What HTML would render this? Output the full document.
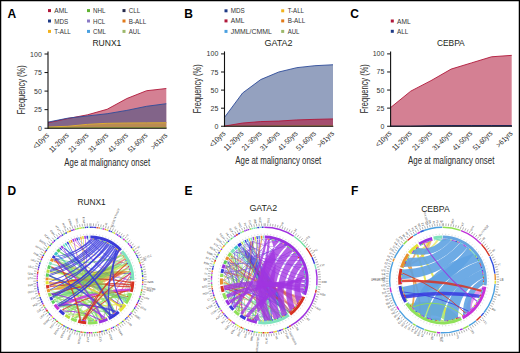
<!DOCTYPE html>
<html><head><meta charset="utf-8"><style>
html,body{margin:0;padding:0;background:#fff;width:520px;height:353px;overflow:hidden}
svg{display:block;font-family:"Liberation Sans", sans-serif}
</style></head><body>
<svg width="520" height="353" viewBox="0 0 520 353">
<rect width="520" height="353" fill="#fff"/>
<path d="M90.00,226.50A53.5,53.5 0 0 1 91.87,226.53L91.82,227.93A52.1,52.1 0 0 0 90.00,227.90Z" fill="#3a3ad8"/>
<path d="M92.19,226.55A53.5,53.5 0 0 1 93.84,226.64L93.74,228.03A52.1,52.1 0 0 0 92.14,227.94Z" fill="#3a3ad8"/>
<path d="M94.16,226.66A53.5,53.5 0 0 1 96.29,226.87L96.13,228.26A52.1,52.1 0 0 0 94.05,228.06Z" fill="#3a3ad8"/>
<path d="M96.61,226.91A53.5,53.5 0 0 1 98.49,227.18L98.27,228.56A52.1,52.1 0 0 0 96.44,228.30Z" fill="#d63222"/>
<path d="M98.81,227.23A53.5,53.5 0 0 1 100.16,227.47L99.89,228.85A52.1,52.1 0 0 0 98.58,228.61Z" fill="#e8902e"/>
<path d="M100.48,227.54A53.5,53.5 0 0 1 102.43,227.96L102.10,229.33A52.1,52.1 0 0 0 100.20,228.91Z" fill="#7fe3bd"/>
<path d="M102.75,228.04A53.5,53.5 0 0 1 104.57,228.52L104.19,229.87A52.1,52.1 0 0 0 102.41,229.40Z" fill="#c833d8"/>
<path d="M104.89,228.61A53.5,53.5 0 0 1 106.26,229.03L105.84,230.37A52.1,52.1 0 0 0 104.50,229.96Z" fill="#e8902e"/>
<path d="M106.58,229.13A53.5,53.5 0 0 1 108.54,229.81L108.05,231.13A52.1,52.1 0 0 0 106.14,230.46Z" fill="#e3e334"/>
<path d="M108.84,229.93A53.5,53.5 0 0 1 110.52,230.59L109.98,231.88A52.1,52.1 0 0 0 108.35,231.24Z" fill="#3a3ad8"/>
<path d="M110.82,230.72A53.5,53.5 0 0 1 112.24,231.34L111.66,232.62A52.1,52.1 0 0 0 110.27,232.01Z" fill="#3a3ad8"/>
<path d="M112.54,231.48A53.5,53.5 0 0 1 113.91,232.14L113.29,233.39A52.1,52.1 0 0 0 111.95,232.75Z" fill="#90e05a"/>
<path d="M114.20,232.29A53.5,53.5 0 0 1 115.53,232.98L114.86,234.21A52.1,52.1 0 0 0 113.57,233.54Z" fill="#e3e334"/>
<path d="M115.82,233.14A53.5,53.5 0 0 1 117.10,233.87L116.39,235.08A52.1,52.1 0 0 0 115.14,234.37Z" fill="#9a32e0"/>
<path d="M117.38,234.04A53.5,53.5 0 0 1 118.63,234.80L117.88,235.99A52.1,52.1 0 0 0 116.67,235.24Z" fill="#3a3ad8"/>
<path d="M118.90,234.98A53.5,53.5 0 0 1 120.34,235.93L119.54,237.08A52.1,52.1 0 0 0 118.15,236.16Z" fill="#c833d8"/>
<path d="M120.60,236.12A53.5,53.5 0 0 1 121.70,236.90L120.87,238.03A52.1,52.1 0 0 0 119.80,237.27Z" fill="#3a3ad8"/>
<path d="M121.96,237.10A53.5,53.5 0 0 1 123.17,238.02L122.30,239.12A52.1,52.1 0 0 0 121.12,238.22Z" fill="#7fe3bd"/>
<path d="M123.42,238.22A53.5,53.5 0 0 1 125.08,239.60L124.16,240.66A52.1,52.1 0 0 0 122.55,239.32Z" fill="#c833d8"/>
<path d="M125.32,239.82A53.5,53.5 0 0 1 126.85,241.22L125.89,242.23A52.1,52.1 0 0 0 124.40,240.87Z" fill="#90e05a"/>
<path d="M127.09,241.44A53.5,53.5 0 0 1 128.23,242.58L127.23,243.56A52.1,52.1 0 0 0 126.12,242.45Z" fill="#7fe3bd"/>
<path d="M128.46,242.81A53.5,53.5 0 0 1 129.69,244.12L128.65,245.06A52.1,52.1 0 0 0 127.45,243.78Z" fill="#9a32e0"/>
<path d="M129.91,244.37A53.5,53.5 0 0 1 131.13,245.78L130.05,246.68A52.1,52.1 0 0 0 128.86,245.30Z" fill="#c833d8"/>
<path d="M131.34,246.04A53.5,53.5 0 0 1 132.66,247.71L131.54,248.56A52.1,52.1 0 0 0 130.25,246.92Z" fill="#3a3ad8"/>
<path d="M132.86,247.97A53.5,53.5 0 0 1 133.74,249.20L132.60,250.00A52.1,52.1 0 0 0 131.73,248.81Z" fill="#e3e334"/>
<path d="M133.93,249.46A53.5,53.5 0 0 1 134.82,250.79L133.65,251.55A52.1,52.1 0 0 0 132.78,250.26Z" fill="#5ccf5c"/>
<path d="M135.00,251.06A53.5,53.5 0 0 1 135.89,252.50L134.69,253.22A52.1,52.1 0 0 0 133.82,251.82Z" fill="#c833d8"/>
<path d="M136.06,252.78A53.5,53.5 0 0 1 136.84,254.14L135.61,254.82A52.1,52.1 0 0 0 134.85,253.49Z" fill="#5ccf5c"/>
<path d="M136.99,254.43A53.5,53.5 0 0 1 137.74,255.84L136.49,256.47A52.1,52.1 0 0 0 135.76,255.10Z" fill="#3a3ad8"/>
<path d="M137.88,256.13A53.5,53.5 0 0 1 138.67,257.79L137.40,258.37A52.1,52.1 0 0 0 136.63,256.76Z" fill="#3a3ad8"/>
<path d="M138.81,258.09A53.5,53.5 0 0 1 139.56,259.85L138.26,260.38A52.1,52.1 0 0 0 137.53,258.66Z" fill="#5ccf5c"/>
<path d="M139.68,260.15A53.5,53.5 0 0 1 140.18,261.46L138.87,261.95A52.1,52.1 0 0 0 138.38,260.67Z" fill="#5ccf5c"/>
<path d="M140.30,261.77A53.5,53.5 0 0 1 140.95,263.69L139.62,264.12A52.1,52.1 0 0 0 138.98,262.24Z" fill="#e8902e"/>
<path d="M141.05,264.00A53.5,53.5 0 0 1 141.60,265.85L140.25,266.22A52.1,52.1 0 0 0 139.72,264.42Z" fill="#c833d8"/>
<path d="M141.68,266.17A53.5,53.5 0 0 1 142.11,267.87L140.74,268.18A52.1,52.1 0 0 0 140.33,266.53Z" fill="#3a3ad8"/>
<path d="M142.18,268.18A53.5,53.5 0 0 1 142.49,269.64L141.11,269.92A52.1,52.1 0 0 0 140.81,268.49Z" fill="#90e05a"/>
<path d="M142.55,269.97A53.5,53.5 0 0 1 142.91,272.10L141.53,272.31A52.1,52.1 0 0 0 141.18,270.23Z" fill="#3a3ad8"/>
<path d="M142.96,272.42A53.5,53.5 0 0 1 143.22,274.55L141.83,274.69A52.1,52.1 0 0 0 141.57,272.62Z" fill="#5ccf5c"/>
<path d="M143.25,274.87A53.5,53.5 0 0 1 143.41,276.92L142.01,277.00A52.1,52.1 0 0 0 141.86,275.01Z" fill="#3a3ad8"/>
<path d="M143.43,277.25A53.5,53.5 0 0 1 143.49,279.05L142.09,279.08A52.1,52.1 0 0 0 142.03,277.32Z" fill="#e3e334"/>
<path d="M143.50,279.38A53.5,53.5 0 0 1 143.49,281.03L142.09,281.00A52.1,52.1 0 0 0 142.10,279.40Z" fill="#3a3ad8"/>
<path d="M143.48,281.36A53.5,53.5 0 0 1 143.39,283.41L141.99,283.32A52.1,52.1 0 0 0 142.08,281.32Z" fill="#e8902e"/>
<path d="M143.37,283.73A53.5,53.5 0 0 1 143.26,285.11L141.86,284.98A52.1,52.1 0 0 0 141.97,283.64Z" fill="#c833d8"/>
<path d="M143.22,285.44A53.5,53.5 0 0 1 143.00,287.29L141.61,287.10A52.1,52.1 0 0 0 141.83,285.30Z" fill="#7fe3bd"/>
<path d="M142.95,287.62A53.5,53.5 0 0 1 142.73,289.04L141.35,288.81A52.1,52.1 0 0 0 141.57,287.42Z" fill="#7fe3bd"/>
<path d="M142.67,289.37A53.5,53.5 0 0 1 142.26,291.45L140.89,291.15A52.1,52.1 0 0 0 141.30,289.12Z" fill="#e8902e"/>
<path d="M142.19,291.77A53.5,53.5 0 0 1 141.81,293.36L140.45,293.01A52.1,52.1 0 0 0 140.82,291.46Z" fill="#5ccf5c"/>
<path d="M141.72,293.67A53.5,53.5 0 0 1 141.15,295.69L139.81,295.28A52.1,52.1 0 0 0 140.37,293.32Z" fill="#90e05a"/>
<path d="M141.05,296.00A53.5,53.5 0 0 1 140.42,297.89L139.10,297.43A52.1,52.1 0 0 0 139.72,295.58Z" fill="#9a32e0"/>
<path d="M140.31,298.20A53.5,53.5 0 0 1 139.65,299.92L138.35,299.40A52.1,52.1 0 0 0 138.99,297.73Z" fill="#5ccf5c"/>
<path d="M139.53,300.22A53.5,53.5 0 0 1 138.71,302.12L137.44,301.54A52.1,52.1 0 0 0 138.23,299.70Z" fill="#3a3ad8"/>
<path d="M138.58,302.42A53.5,53.5 0 0 1 137.84,303.96L136.58,303.33A52.1,52.1 0 0 0 137.30,301.83Z" fill="#9a32e0"/>
<path d="M137.69,304.25A53.5,53.5 0 0 1 136.98,305.60L135.75,304.93A52.1,52.1 0 0 0 136.44,303.62Z" fill="#d63222"/>
<path d="M136.82,305.88A53.5,53.5 0 0 1 135.90,307.49L134.69,306.77A52.1,52.1 0 0 0 135.60,305.21Z" fill="#c833d8"/>
<path d="M135.73,307.77A53.5,53.5 0 0 1 134.86,309.15L133.69,308.39A52.1,52.1 0 0 0 134.53,307.05Z" fill="#3a3ad8"/>
<path d="M134.68,309.43A53.5,53.5 0 0 1 133.66,310.91L132.52,310.11A52.1,52.1 0 0 0 133.51,308.66Z" fill="#90e05a"/>
<path d="M133.47,311.18A53.5,53.5 0 0 1 132.33,312.72L131.22,311.87A52.1,52.1 0 0 0 132.34,310.36Z" fill="#90e05a"/>
<path d="M132.13,312.98A53.5,53.5 0 0 1 131.19,314.14L130.11,313.25A52.1,52.1 0 0 0 131.02,312.12Z" fill="#9a32e0"/>
<path d="M130.98,314.39A53.5,53.5 0 0 1 129.75,315.81L128.71,314.87A52.1,52.1 0 0 0 129.91,313.49Z" fill="#3a3ad8"/>
<path d="M129.53,316.05A53.5,53.5 0 0 1 128.21,317.45L127.21,316.47A52.1,52.1 0 0 0 128.50,315.10Z" fill="#e8902e"/>
<path d="M127.98,317.68A53.5,53.5 0 0 1 126.92,318.71L125.96,317.70A52.1,52.1 0 0 0 126.99,316.69Z" fill="#3a3ad8"/>
<path d="M126.69,318.94A53.5,53.5 0 0 1 125.65,319.89L124.71,318.85A52.1,52.1 0 0 0 125.73,317.92Z" fill="#3a3ad8"/>
<path d="M125.40,320.11A53.5,53.5 0 0 1 124.04,321.28L123.15,320.20A52.1,52.1 0 0 0 124.48,319.06Z" fill="#e3e334"/>
<path d="M123.79,321.48A53.5,53.5 0 0 1 122.71,322.33L121.85,321.23A52.1,52.1 0 0 0 122.90,320.40Z" fill="#3a3ad8"/>
<path d="M122.45,322.53A53.5,53.5 0 0 1 120.97,323.63L120.16,322.49A52.1,52.1 0 0 0 121.60,321.42Z" fill="#90e05a"/>
<path d="M120.70,323.82A53.5,53.5 0 0 1 119.27,324.78L118.50,323.61A52.1,52.1 0 0 0 119.90,322.67Z" fill="#e3e334"/>
<path d="M119.00,324.96A53.5,53.5 0 0 1 117.75,325.74L117.03,324.54A52.1,52.1 0 0 0 118.24,323.78Z" fill="#9a32e0"/>
<path d="M117.47,325.91A53.5,53.5 0 0 1 116.29,326.60L115.60,325.38A52.1,52.1 0 0 0 116.75,324.71Z" fill="#e8902e"/>
<path d="M116.00,326.76A53.5,53.5 0 0 1 114.57,327.53L113.92,326.28A52.1,52.1 0 0 0 115.32,325.53Z" fill="#7fe3bd"/>
<path d="M114.28,327.67A53.5,53.5 0 0 1 112.97,328.32L112.37,327.05A52.1,52.1 0 0 0 113.64,326.43Z" fill="#3a3ad8"/>
<path d="M112.68,328.46A53.5,53.5 0 0 1 111.02,329.20L110.47,327.91A52.1,52.1 0 0 0 112.08,327.19Z" fill="#c833d8"/>
<path d="M110.72,329.33A53.5,53.5 0 0 1 108.98,330.02L108.48,328.71A52.1,52.1 0 0 0 110.17,328.04Z" fill="#e3e334"/>
<path d="M108.67,330.14A53.5,53.5 0 0 1 107.32,330.62L106.87,329.29A52.1,52.1 0 0 0 108.18,328.82Z" fill="#e3e334"/>
<path d="M107.01,330.72A53.5,53.5 0 0 1 105.43,331.23L105.03,329.89A52.1,52.1 0 0 0 106.56,329.40Z" fill="#3a3ad8"/>
<path d="M105.12,331.32A53.5,53.5 0 0 1 103.13,331.86L102.79,330.51A52.1,52.1 0 0 0 104.72,329.98Z" fill="#90e05a"/>
<path d="M102.82,331.94A53.5,53.5 0 0 1 101.39,332.27L101.09,330.91A52.1,52.1 0 0 0 102.48,330.58Z" fill="#3a3ad8"/>
<path d="M101.07,332.34A53.5,53.5 0 0 1 99.05,332.73L98.81,331.35A52.1,52.1 0 0 0 100.78,330.97Z" fill="#d63222"/>
<path d="M98.73,332.78A53.5,53.5 0 0 1 97.02,333.04L96.84,331.65A52.1,52.1 0 0 0 98.50,331.40Z" fill="#e8902e"/>
<path d="M96.70,333.08A53.5,53.5 0 0 1 94.78,333.29L94.66,331.89A52.1,52.1 0 0 0 96.52,331.69Z" fill="#5ccf5c"/>
<path d="M94.46,333.31A53.5,53.5 0 0 1 92.71,333.43L92.64,332.03A52.1,52.1 0 0 0 94.34,331.92Z" fill="#90e05a"/>
<path d="M92.39,333.45A53.5,53.5 0 0 1 90.65,333.50L90.63,332.10A52.1,52.1 0 0 0 92.33,332.05Z" fill="#c833d8"/>
<path d="M90.32,333.50A53.5,53.5 0 0 1 88.88,333.49L88.91,332.09A52.1,52.1 0 0 0 90.31,332.10Z" fill="#d63222"/>
<path d="M88.56,333.48A53.5,53.5 0 0 1 86.41,333.38L86.50,331.98A52.1,52.1 0 0 0 88.59,332.08Z" fill="#9a32e0"/>
<path d="M86.08,333.36A53.5,53.5 0 0 1 83.96,333.16L84.12,331.77A52.1,52.1 0 0 0 86.18,331.96Z" fill="#5ccf5c"/>
<path d="M83.63,333.12A53.5,53.5 0 0 1 82.15,332.92L82.36,331.54A52.1,52.1 0 0 0 83.80,331.73Z" fill="#e8902e"/>
<path d="M81.83,332.87A53.5,53.5 0 0 1 80.28,332.61L80.53,331.23A52.1,52.1 0 0 0 82.04,331.49Z" fill="#d63222"/>
<path d="M79.96,332.55A53.5,53.5 0 0 1 77.93,332.12L78.24,330.76A52.1,52.1 0 0 0 80.22,331.17Z" fill="#5ccf5c"/>
<path d="M77.61,332.05A53.5,53.5 0 0 1 76.25,331.70L76.61,330.35A52.1,52.1 0 0 0 77.93,330.68Z" fill="#5ccf5c"/>
<path d="M75.94,331.62A53.5,53.5 0 0 1 74.09,331.08L74.50,329.74A52.1,52.1 0 0 0 76.31,330.27Z" fill="#9a32e0"/>
<path d="M73.78,330.98A53.5,53.5 0 0 1 72.47,330.55L72.93,329.22A52.1,52.1 0 0 0 74.20,329.65Z" fill="#90e05a"/>
<path d="M72.16,330.44A53.5,53.5 0 0 1 70.62,329.87L71.12,328.56A52.1,52.1 0 0 0 72.63,329.12Z" fill="#3a3ad8"/>
<path d="M70.31,329.75A53.5,53.5 0 0 1 68.55,329.01L69.11,327.73A52.1,52.1 0 0 0 70.83,328.44Z" fill="#e8902e"/>
<path d="M68.25,328.88A53.5,53.5 0 0 1 66.83,328.22L67.44,326.96A52.1,52.1 0 0 0 68.82,327.60Z" fill="#3a3ad8"/>
<path d="M66.54,328.08A53.5,53.5 0 0 1 64.80,327.20L65.46,325.96A52.1,52.1 0 0 0 67.15,326.82Z" fill="#5ccf5c"/>
<path d="M64.52,327.04A53.5,53.5 0 0 1 62.87,326.11L63.58,324.90A52.1,52.1 0 0 0 65.18,325.81Z" fill="#3a3ad8"/>
<path d="M62.59,325.94A53.5,53.5 0 0 1 60.84,324.86L61.60,323.68A52.1,52.1 0 0 0 63.31,324.74Z" fill="#e8902e"/>
<path d="M60.57,324.68A53.5,53.5 0 0 1 59.08,323.66L59.89,322.52A52.1,52.1 0 0 0 61.34,323.51Z" fill="#90e05a"/>
<path d="M58.81,323.47A53.5,53.5 0 0 1 57.51,322.51L58.36,321.39A52.1,52.1 0 0 0 59.63,322.33Z" fill="#90e05a"/>
<path d="M57.25,322.31A53.5,53.5 0 0 1 55.90,321.22L56.79,320.14A52.1,52.1 0 0 0 58.11,321.20Z" fill="#d63222"/>
<path d="M55.65,321.01A53.5,53.5 0 0 1 54.22,319.78L55.16,318.74A52.1,52.1 0 0 0 56.55,319.94Z" fill="#5ccf5c"/>
<path d="M53.98,319.56A53.5,53.5 0 0 1 52.79,318.44L53.76,317.43A52.1,52.1 0 0 0 54.92,318.52Z" fill="#9a32e0"/>
<path d="M52.55,318.21A53.5,53.5 0 0 1 51.40,317.05L52.41,316.08A52.1,52.1 0 0 0 53.53,317.21Z" fill="#e3e334"/>
<path d="M51.18,316.81A53.5,53.5 0 0 1 50.07,315.60L51.11,314.67A52.1,52.1 0 0 0 52.19,315.85Z" fill="#c833d8"/>
<path d="M49.85,315.36A53.5,53.5 0 0 1 48.51,313.77L49.59,312.89A52.1,52.1 0 0 0 50.90,314.43Z" fill="#3a3ad8"/>
<path d="M48.30,313.52A53.5,53.5 0 0 1 47.25,312.16L48.36,311.32A52.1,52.1 0 0 0 49.39,312.64Z" fill="#5ccf5c"/>
<path d="M47.05,311.90A53.5,53.5 0 0 1 45.80,310.15L46.96,309.36A52.1,52.1 0 0 0 48.17,311.06Z" fill="#d63222"/>
<path d="M45.62,309.88A53.5,53.5 0 0 1 44.82,308.65L46.00,307.90A52.1,52.1 0 0 0 46.78,309.10Z" fill="#c833d8"/>
<path d="M44.65,308.38A53.5,53.5 0 0 1 43.86,307.08L45.07,306.38A52.1,52.1 0 0 0 45.83,307.63Z" fill="#5ccf5c"/>
<path d="M43.70,306.80A53.5,53.5 0 0 1 42.67,304.94L43.91,304.28A52.1,52.1 0 0 0 44.91,306.10Z" fill="#e8902e"/>
<path d="M42.52,304.65A53.5,53.5 0 0 1 41.81,303.23L43.07,302.62A52.1,52.1 0 0 0 43.76,304.00Z" fill="#9a32e0"/>
<path d="M41.67,302.94A53.5,53.5 0 0 1 40.86,301.16L42.15,300.61A52.1,52.1 0 0 0 42.93,302.34Z" fill="#3a3ad8"/>
<path d="M40.73,300.86A53.5,53.5 0 0 1 40.10,299.29L41.40,298.78A52.1,52.1 0 0 0 42.02,300.31Z" fill="#3a3ad8"/>
<path d="M39.98,298.98A53.5,53.5 0 0 1 39.31,297.10L40.63,296.65A52.1,52.1 0 0 0 41.29,298.49Z" fill="#3a3ad8"/>
<path d="M39.20,296.79A53.5,53.5 0 0 1 38.67,295.09L40.02,294.70A52.1,52.1 0 0 0 40.53,296.35Z" fill="#e3e334"/>
<path d="M38.58,294.78A53.5,53.5 0 0 1 38.16,293.24L39.52,292.89A52.1,52.1 0 0 0 39.93,294.39Z" fill="#d63222"/>
<path d="M38.08,292.92A53.5,53.5 0 0 1 37.64,290.97L39.01,290.69A52.1,52.1 0 0 0 39.44,292.58Z" fill="#9a32e0"/>
<path d="M37.57,290.65A53.5,53.5 0 0 1 37.28,289.11L38.66,288.87A52.1,52.1 0 0 0 38.94,290.38Z" fill="#3a3ad8"/>
<path d="M37.23,288.79A53.5,53.5 0 0 1 37.00,287.30L38.39,287.10A52.1,52.1 0 0 0 38.61,288.56Z" fill="#3a3ad8"/>
<path d="M36.96,286.97A53.5,53.5 0 0 1 36.76,285.27L38.15,285.13A52.1,52.1 0 0 0 38.34,286.79Z" fill="#9a32e0"/>
<path d="M36.73,284.94A53.5,53.5 0 0 1 36.61,283.45L38.01,283.36A52.1,52.1 0 0 0 38.12,284.81Z" fill="#9a32e0"/>
<path d="M36.59,283.12A53.5,53.5 0 0 1 36.52,281.63L37.92,281.59A52.1,52.1 0 0 0 37.99,283.04Z" fill="#3a3ad8"/>
<path d="M36.52,281.30A53.5,53.5 0 0 1 36.50,279.92L37.90,279.92A52.1,52.1 0 0 0 37.92,281.27Z" fill="#e8902e"/>
<path d="M36.50,279.60A53.5,53.5 0 0 1 36.56,277.43L37.96,277.50A52.1,52.1 0 0 0 37.90,279.61Z" fill="#c833d8"/>
<path d="M36.58,277.10A53.5,53.5 0 0 1 36.67,275.72L38.07,275.83A52.1,52.1 0 0 0 37.98,277.18Z" fill="#c833d8"/>
<path d="M36.70,275.39A53.5,53.5 0 0 1 36.84,273.96L38.23,274.12A52.1,52.1 0 0 0 38.09,275.51Z" fill="#c833d8"/>
<path d="M36.88,273.63A53.5,53.5 0 0 1 37.12,271.90L38.50,272.11A52.1,52.1 0 0 0 38.27,273.80Z" fill="#d63222"/>
<path d="M37.17,271.58A53.5,53.5 0 0 1 37.40,270.22L38.78,270.48A52.1,52.1 0 0 0 38.55,271.80Z" fill="#e8902e"/>
<path d="M37.46,269.90A53.5,53.5 0 0 1 37.80,268.30L39.16,268.60A52.1,52.1 0 0 0 38.84,270.17Z" fill="#9a32e0"/>
<path d="M37.87,267.98A53.5,53.5 0 0 1 38.32,266.17L39.67,266.54A52.1,52.1 0 0 0 39.23,268.29Z" fill="#3a3ad8"/>
<path d="M38.40,265.86A53.5,53.5 0 0 1 38.82,264.40L40.16,264.81A52.1,52.1 0 0 0 39.75,266.23Z" fill="#3a3ad8"/>
<path d="M38.92,264.09A53.5,53.5 0 0 1 39.59,262.09L40.90,262.56A52.1,52.1 0 0 0 40.26,264.51Z" fill="#3a3ad8"/>
<path d="M39.70,261.79A53.5,53.5 0 0 1 40.28,260.25L41.58,260.77A52.1,52.1 0 0 0 41.01,262.26Z" fill="#90e05a"/>
<path d="M40.40,259.95A53.5,53.5 0 0 1 41.21,258.05L42.49,258.63A52.1,52.1 0 0 0 41.70,260.48Z" fill="#9a32e0"/>
<path d="M41.34,257.76A53.5,53.5 0 0 1 42.17,256.02L43.43,256.65A52.1,52.1 0 0 0 42.62,258.34Z" fill="#d63222"/>
<path d="M42.32,255.73A53.5,53.5 0 0 1 43.10,254.26L44.32,254.94A52.1,52.1 0 0 0 43.57,256.36Z" fill="#3a3ad8"/>
<path d="M43.26,253.98A53.5,53.5 0 0 1 44.16,252.41L45.36,253.14A52.1,52.1 0 0 0 44.48,254.66Z" fill="#90e05a"/>
<path d="M44.33,252.13A53.5,53.5 0 0 1 45.09,250.93L46.26,251.69A52.1,52.1 0 0 0 45.53,252.86Z" fill="#d63222"/>
<path d="M45.27,250.65A53.5,53.5 0 0 1 46.26,249.19L47.41,249.99A52.1,52.1 0 0 0 46.44,251.42Z" fill="#3a3ad8"/>
<path d="M46.45,248.92A53.5,53.5 0 0 1 47.40,247.64L48.51,248.49A52.1,52.1 0 0 0 47.59,249.73Z" fill="#5ccf5c"/>
<path d="M47.60,247.38A53.5,53.5 0 0 1 48.87,245.79L49.94,246.69A52.1,52.1 0 0 0 48.71,248.23Z" fill="#e3e334"/>
<path d="M49.08,245.54A53.5,53.5 0 0 1 50.18,244.27L51.22,245.20A52.1,52.1 0 0 0 50.15,246.44Z" fill="#3a3ad8"/>
<path d="M50.40,244.02A53.5,53.5 0 0 1 51.69,242.65L52.70,243.63A52.1,52.1 0 0 0 51.44,244.97Z" fill="#5ccf5c"/>
<path d="M51.92,242.42A53.5,53.5 0 0 1 53.16,241.20L54.13,242.22A52.1,52.1 0 0 0 52.92,243.40Z" fill="#c833d8"/>
<path d="M53.40,240.98A53.5,53.5 0 0 1 54.77,239.74L55.69,240.79A52.1,52.1 0 0 0 54.36,242.00Z" fill="#3a3ad8"/>
<path d="M55.01,239.52A53.5,53.5 0 0 1 56.35,238.40L57.23,239.49A52.1,52.1 0 0 0 55.93,240.58Z" fill="#7fe3bd"/>
<path d="M56.61,238.20A53.5,53.5 0 0 1 58.32,236.89L59.15,238.02A52.1,52.1 0 0 0 57.48,239.29Z" fill="#3a3ad8"/>
<path d="M58.58,236.69A53.5,53.5 0 0 1 59.75,235.88L60.54,237.03A52.1,52.1 0 0 0 59.41,237.83Z" fill="#9a32e0"/>
<path d="M60.02,235.69A53.5,53.5 0 0 1 61.14,234.95L61.89,236.13A52.1,52.1 0 0 0 60.80,236.85Z" fill="#9a32e0"/>
<path d="M61.42,234.78A53.5,53.5 0 0 1 62.80,233.93L63.51,235.14A52.1,52.1 0 0 0 62.16,235.96Z" fill="#3a3ad8"/>
<path d="M63.08,233.77A53.5,53.5 0 0 1 64.65,232.89L65.31,234.12A52.1,52.1 0 0 0 63.78,234.98Z" fill="#5ccf5c"/>
<path d="M64.94,232.73A53.5,53.5 0 0 1 66.61,231.89L67.22,233.15A52.1,52.1 0 0 0 65.59,233.97Z" fill="#3a3ad8"/>
<path d="M66.90,231.74A53.5,53.5 0 0 1 68.41,231.05L68.97,232.33A52.1,52.1 0 0 0 67.50,233.01Z" fill="#e3e334"/>
<path d="M68.71,230.92A53.5,53.5 0 0 1 70.71,230.10L71.22,231.40A52.1,52.1 0 0 0 69.26,232.20Z" fill="#e8902e"/>
<path d="M71.02,229.98A53.5,53.5 0 0 1 72.51,229.44L72.97,230.76A52.1,52.1 0 0 0 71.51,231.29Z" fill="#3a3ad8"/>
<path d="M72.82,229.33A53.5,53.5 0 0 1 74.40,228.82L74.81,230.16A52.1,52.1 0 0 0 73.27,230.66Z" fill="#c833d8"/>
<path d="M74.72,228.73A53.5,53.5 0 0 1 76.49,228.23L76.85,229.59A52.1,52.1 0 0 0 75.12,230.07Z" fill="#90e05a"/>
<path d="M76.81,228.15A53.5,53.5 0 0 1 78.73,227.70L79.02,229.07A52.1,52.1 0 0 0 77.16,229.51Z" fill="#90e05a"/>
<path d="M79.04,227.63A53.5,53.5 0 0 1 80.77,227.30L81.02,228.68A52.1,52.1 0 0 0 79.33,229.00Z" fill="#e3e334"/>
<path d="M81.10,227.25A53.5,53.5 0 0 1 82.44,227.04L82.64,228.42A52.1,52.1 0 0 0 81.33,228.63Z" fill="#90e05a"/>
<path d="M82.77,226.99A53.5,53.5 0 0 1 84.51,226.78L84.65,228.17A52.1,52.1 0 0 0 82.95,228.38Z" fill="#90e05a"/>
<path d="M84.84,226.75A53.5,53.5 0 0 1 86.30,226.63L86.39,228.03A52.1,52.1 0 0 0 84.97,228.14Z" fill="#3a3ad8"/>
<path d="M86.62,226.61A53.5,53.5 0 0 1 88.07,226.53L88.12,227.93A52.1,52.1 0 0 0 86.71,228.00Z" fill="#3a3ad8"/>
<path d="M88.39,226.52A53.5,53.5 0 0 1 90.00,226.50L90.00,227.90A52.1,52.1 0 0 0 88.44,227.92Z" fill="#7fe3bd"/>
<text transform="translate(33.11,274.02) rotate(366.0)" font-size="2.8" text-anchor="end" dy="0.9" fill="#404040" textLength="5.5" lengthAdjust="spacingAndGlyphs">I2A</text>
<text transform="translate(34.16,267.62) rotate(372.5)" font-size="2.8" text-anchor="end" dy="0.9" fill="#404040" textLength="6.2" lengthAdjust="spacingAndGlyphs">US7C</text>
<text transform="translate(35.92,261.38) rotate(379.0)" font-size="2.8" text-anchor="end" dy="0.9" fill="#404040" textLength="5.4" lengthAdjust="spacingAndGlyphs">UKV</text>
<text transform="translate(38.37,255.37) rotate(385.5)" font-size="2.8" text-anchor="end" dy="0.9" fill="#404040" textLength="5.5" lengthAdjust="spacingAndGlyphs">7HB</text>
<text transform="translate(41.49,249.69) rotate(392.0)" font-size="2.8" text-anchor="end" dy="0.9" fill="#404040" textLength="7.2" lengthAdjust="spacingAndGlyphs">WVYV</text>
<text transform="translate(45.23,244.39) rotate(398.5)" font-size="2.8" text-anchor="end" dy="0.9" fill="#404040" textLength="7.1" lengthAdjust="spacingAndGlyphs">B6Z0</text>
<text transform="translate(49.55,239.55) rotate(405.0)" font-size="2.8" text-anchor="end" dy="0.9" fill="#404040" textLength="6.9" lengthAdjust="spacingAndGlyphs">ICAT</text>
<text transform="translate(54.39,235.23) rotate(411.5)" font-size="2.8" text-anchor="end" dy="0.9" fill="#404040" textLength="6.4" lengthAdjust="spacingAndGlyphs">GNA4</text>
<text transform="translate(59.69,231.49) rotate(418.0)" font-size="2.8" text-anchor="end" dy="0.9" fill="#404040" textLength="7.2" lengthAdjust="spacingAndGlyphs">4717</text>
<text transform="translate(65.37,228.37) rotate(424.5)" font-size="2.8" text-anchor="end" dy="0.9" fill="#404040" textLength="5.9" lengthAdjust="spacingAndGlyphs">NV6</text>
<text transform="translate(71.38,225.92) rotate(431.0)" font-size="2.8" text-anchor="end" dy="0.9" fill="#404040" textLength="7.4" lengthAdjust="spacingAndGlyphs">EWA4</text>
<text transform="translate(77.62,224.16) rotate(437.5)" font-size="2.8" text-anchor="end" dy="0.9" fill="#404040" textLength="6.5" lengthAdjust="spacingAndGlyphs">7WKL</text>
<text transform="translate(84.02,223.11) rotate(444.0)" font-size="2.8" text-anchor="end" dy="0.9" fill="#404040" textLength="6.2" lengthAdjust="spacingAndGlyphs">8YK4</text>
<text transform="translate(70.44,333.75) rotate(290.0)" font-size="2.8" text-anchor="end" dy="0.9" fill="#404040" textLength="6.6" lengthAdjust="spacingAndGlyphs">DERU</text>
<text transform="translate(64.48,331.19) rotate(296.5)" font-size="2.8" text-anchor="end" dy="0.9" fill="#404040" textLength="7.4" lengthAdjust="spacingAndGlyphs">EBY4</text>
<text transform="translate(58.85,327.97) rotate(303.0)" font-size="2.8" text-anchor="end" dy="0.9" fill="#404040" textLength="7.9" lengthAdjust="spacingAndGlyphs">28DHH</text>
<text transform="translate(53.62,324.14) rotate(309.5)" font-size="2.8" text-anchor="end" dy="0.9" fill="#404040" textLength="5.3" lengthAdjust="spacingAndGlyphs">HIV</text>
<text transform="translate(48.85,319.73) rotate(316.0)" font-size="2.8" text-anchor="end" dy="0.9" fill="#404040" textLength="7.0" lengthAdjust="spacingAndGlyphs">5KMM</text>
<text transform="translate(44.62,314.82) rotate(322.5)" font-size="2.8" text-anchor="end" dy="0.9" fill="#404040" textLength="5.9" lengthAdjust="spacingAndGlyphs">LEP</text>
<text transform="translate(40.97,309.46) rotate(329.0)" font-size="2.8" text-anchor="end" dy="0.9" fill="#404040" textLength="4.7" lengthAdjust="spacingAndGlyphs">G1E</text>
<text transform="translate(37.95,303.72) rotate(335.5)" font-size="2.8" text-anchor="end" dy="0.9" fill="#404040" textLength="5.5" lengthAdjust="spacingAndGlyphs">H2I</text>
<text transform="translate(35.60,297.68) rotate(342.0)" font-size="2.8" text-anchor="end" dy="0.9" fill="#404040" textLength="4.5" lengthAdjust="spacingAndGlyphs">FX8</text>
<text transform="translate(33.95,291.40) rotate(348.5)" font-size="2.8" text-anchor="end" dy="0.9" fill="#404040" textLength="6.2" lengthAdjust="spacingAndGlyphs">0DIV</text>
<text transform="translate(33.02,284.99) rotate(355.0)" font-size="2.8" text-anchor="end" dy="0.9" fill="#404040" textLength="5.0" lengthAdjust="spacingAndGlyphs">9VR</text>
<text transform="translate(32.82,278.50) rotate(361.5)" font-size="2.8" text-anchor="end" dy="0.9" fill="#404040" textLength="5.4" lengthAdjust="spacingAndGlyphs">STV</text>
<text transform="translate(147.17,282.00) rotate(2.0)" font-size="2.8" text-anchor="start" dy="0.9" fill="#404040" textLength="6.3" lengthAdjust="spacingAndGlyphs">IS06</text>
<text transform="translate(146.33,289.93) rotate(10.0)" font-size="2.8" text-anchor="start" dy="0.9" fill="#404040" textLength="7.1" lengthAdjust="spacingAndGlyphs">MIBY</text>
<text transform="translate(144.40,297.68) rotate(18.0)" font-size="2.8" text-anchor="start" dy="0.9" fill="#404040" textLength="4.8" lengthAdjust="spacingAndGlyphs">CFH</text>
<text transform="translate(140.50,306.85) rotate(28.0)" font-size="2.8" text-anchor="start" dy="0.9" fill="#404040" textLength="6.3" lengthAdjust="spacingAndGlyphs">6S16</text>
<text transform="translate(135.07,315.22) rotate(38.0)" font-size="2.8" text-anchor="start" dy="0.9" fill="#404040" textLength="6.2" lengthAdjust="spacingAndGlyphs">XGB1</text>
<text transform="translate(128.27,322.51) rotate(48.0)" font-size="2.8" text-anchor="start" dy="0.9" fill="#404040" textLength="4.7" lengthAdjust="spacingAndGlyphs">K4R</text>
<text transform="translate(118.60,329.54) rotate(60.0)" font-size="2.8" text-anchor="start" dy="0.9" fill="#404040" textLength="7.1" lengthAdjust="spacingAndGlyphs">F8PI</text>
<text transform="translate(109.56,333.75) rotate(70.0)" font-size="2.8" text-anchor="start" dy="0.9" fill="#404040" textLength="7.0" lengthAdjust="spacingAndGlyphs">1ZSV</text>
<text transform="translate(99.93,336.33) rotate(80.0)" font-size="2.8" text-anchor="start" dy="0.9" fill="#404040" textLength="5.7" lengthAdjust="spacingAndGlyphs">Z11</text>
<text transform="translate(88.00,337.17) rotate(272.0)" font-size="2.8" text-anchor="end" dy="0.9" fill="#404040" textLength="5.0" lengthAdjust="spacingAndGlyphs">ZV4</text>
<text transform="translate(80.07,336.33) rotate(280.0)" font-size="2.8" text-anchor="end" dy="0.9" fill="#404040" textLength="7.9" lengthAdjust="spacingAndGlyphs">0CPM2</text>
<text transform="translate(97.96,223.36) rotate(-82.0)" font-size="2.8" text-anchor="start" dy="0.9" fill="#404040" textLength="2.1" lengthAdjust="spacingAndGlyphs">CC</text>
<text transform="translate(105.77,225.02) rotate(-74.0)" font-size="2.8" text-anchor="start" dy="0.9" fill="#404040" textLength="2.2" lengthAdjust="spacingAndGlyphs">NC</text>
<text transform="translate(113.27,227.75) rotate(-66.0)" font-size="2.8" text-anchor="start" dy="0.9" fill="#404040" textLength="2.5" lengthAdjust="spacingAndGlyphs">7Z</text>
<text transform="translate(126.77,236.18) rotate(-50.0)" font-size="2.8" text-anchor="start" dy="0.9" fill="#404040" textLength="2.0" lengthAdjust="spacingAndGlyphs">7W</text>
<text transform="translate(137.42,248.01) rotate(-34.0)" font-size="2.8" text-anchor="start" dy="0.9" fill="#404040" textLength="2.9" lengthAdjust="spacingAndGlyphs">4X</text>
<text transform="translate(143.75,260.44) rotate(-20.0)" font-size="2.8" text-anchor="start" dy="0.9" fill="#404040" textLength="2.5" lengthAdjust="spacingAndGlyphs">GN</text>
<text transform="translate(111.43,226.97) rotate(-68.0)" font-size="2.8" text-anchor="start" dy="0.9" fill="#404040" textLength="20.0" lengthAdjust="spacingAndGlyphs">KLE017KTHULV</text>
<text transform="translate(143.03,258.57) rotate(-22.0)" font-size="2.8" text-anchor="start" dy="0.9" fill="#404040" textLength="9.0" lengthAdjust="spacingAndGlyphs">SC7CZ</text>
<text transform="translate(146.64,287.96) rotate(8.0)" font-size="2.8" text-anchor="start" dy="0.9" fill="#404040" textLength="9.0" lengthAdjust="spacingAndGlyphs">0XDB6</text>
<line x1="90.00" y1="234.80" x2="90.00" y2="233.60" stroke="#b0b0b0" stroke-width="0.45"/>
<line x1="93.15" y1="234.91" x2="93.24" y2="233.71" stroke="#b0b0b0" stroke-width="0.45"/>
<line x1="96.29" y1="235.24" x2="96.46" y2="234.05" stroke="#b0b0b0" stroke-width="0.45"/>
<line x1="99.40" y1="235.79" x2="99.65" y2="234.61" stroke="#b0b0b0" stroke-width="0.45"/>
<line x1="102.46" y1="236.55" x2="102.79" y2="235.40" stroke="#b0b0b0" stroke-width="0.45"/>
<line x1="105.46" y1="237.53" x2="105.87" y2="236.40" stroke="#b0b0b0" stroke-width="0.45"/>
<line x1="108.38" y1="238.71" x2="108.87" y2="237.61" stroke="#b0b0b0" stroke-width="0.45"/>
<line x1="111.22" y1="240.09" x2="111.78" y2="239.03" stroke="#b0b0b0" stroke-width="0.45"/>
<line x1="113.95" y1="241.67" x2="114.59" y2="240.65" stroke="#b0b0b0" stroke-width="0.45"/>
<line x1="116.57" y1="243.43" x2="117.27" y2="242.46" stroke="#b0b0b0" stroke-width="0.45"/>
<line x1="119.05" y1="245.37" x2="119.83" y2="244.46" stroke="#b0b0b0" stroke-width="0.45"/>
<line x1="121.40" y1="247.49" x2="122.23" y2="246.62" stroke="#b0b0b0" stroke-width="0.45"/>
<line x1="123.59" y1="249.76" x2="124.48" y2="248.95" stroke="#b0b0b0" stroke-width="0.45"/>
<line x1="125.62" y1="252.17" x2="126.56" y2="251.43" stroke="#b0b0b0" stroke-width="0.45"/>
<line x1="127.47" y1="254.72" x2="128.47" y2="254.05" stroke="#b0b0b0" stroke-width="0.45"/>
<line x1="129.14" y1="257.40" x2="130.18" y2="256.80" stroke="#b0b0b0" stroke-width="0.45"/>
<line x1="130.63" y1="260.19" x2="131.70" y2="259.66" stroke="#b0b0b0" stroke-width="0.45"/>
<line x1="131.91" y1="263.07" x2="133.02" y2="262.62" stroke="#b0b0b0" stroke-width="0.45"/>
<line x1="132.99" y1="266.03" x2="134.13" y2="265.66" stroke="#b0b0b0" stroke-width="0.45"/>
<line x1="133.86" y1="269.07" x2="135.02" y2="268.77" stroke="#b0b0b0" stroke-width="0.45"/>
<line x1="134.51" y1="272.15" x2="135.70" y2="271.94" stroke="#b0b0b0" stroke-width="0.45"/>
<line x1="134.95" y1="275.28" x2="136.15" y2="275.15" stroke="#b0b0b0" stroke-width="0.45"/>
<line x1="135.17" y1="278.42" x2="136.37" y2="278.38" stroke="#b0b0b0" stroke-width="0.45"/>
<line x1="135.17" y1="281.58" x2="136.37" y2="281.62" stroke="#b0b0b0" stroke-width="0.45"/>
<line x1="134.95" y1="284.72" x2="136.15" y2="284.85" stroke="#b0b0b0" stroke-width="0.45"/>
<line x1="134.51" y1="287.85" x2="135.70" y2="288.06" stroke="#b0b0b0" stroke-width="0.45"/>
<line x1="133.86" y1="290.93" x2="135.02" y2="291.23" stroke="#b0b0b0" stroke-width="0.45"/>
<line x1="132.99" y1="293.97" x2="134.13" y2="294.34" stroke="#b0b0b0" stroke-width="0.45"/>
<line x1="131.91" y1="296.93" x2="133.02" y2="297.38" stroke="#b0b0b0" stroke-width="0.45"/>
<line x1="130.63" y1="299.81" x2="131.70" y2="300.34" stroke="#b0b0b0" stroke-width="0.45"/>
<line x1="129.14" y1="302.60" x2="130.18" y2="303.20" stroke="#b0b0b0" stroke-width="0.45"/>
<line x1="127.47" y1="305.28" x2="128.47" y2="305.95" stroke="#b0b0b0" stroke-width="0.45"/>
<line x1="125.62" y1="307.83" x2="126.56" y2="308.57" stroke="#b0b0b0" stroke-width="0.45"/>
<line x1="123.59" y1="310.24" x2="124.48" y2="311.05" stroke="#b0b0b0" stroke-width="0.45"/>
<line x1="121.40" y1="312.51" x2="122.23" y2="313.38" stroke="#b0b0b0" stroke-width="0.45"/>
<line x1="119.05" y1="314.63" x2="119.83" y2="315.54" stroke="#b0b0b0" stroke-width="0.45"/>
<line x1="116.57" y1="316.57" x2="117.27" y2="317.54" stroke="#b0b0b0" stroke-width="0.45"/>
<line x1="113.95" y1="318.33" x2="114.59" y2="319.35" stroke="#b0b0b0" stroke-width="0.45"/>
<line x1="111.22" y1="319.91" x2="111.78" y2="320.97" stroke="#b0b0b0" stroke-width="0.45"/>
<line x1="108.38" y1="321.29" x2="108.87" y2="322.39" stroke="#b0b0b0" stroke-width="0.45"/>
<line x1="105.46" y1="322.47" x2="105.87" y2="323.60" stroke="#b0b0b0" stroke-width="0.45"/>
<line x1="102.46" y1="323.45" x2="102.79" y2="324.60" stroke="#b0b0b0" stroke-width="0.45"/>
<line x1="99.40" y1="324.21" x2="99.65" y2="325.39" stroke="#b0b0b0" stroke-width="0.45"/>
<line x1="96.29" y1="324.76" x2="96.46" y2="325.95" stroke="#b0b0b0" stroke-width="0.45"/>
<line x1="93.15" y1="325.09" x2="93.24" y2="326.29" stroke="#b0b0b0" stroke-width="0.45"/>
<line x1="90.00" y1="325.20" x2="90.00" y2="326.40" stroke="#b0b0b0" stroke-width="0.45"/>
<line x1="86.85" y1="325.09" x2="86.76" y2="326.29" stroke="#b0b0b0" stroke-width="0.45"/>
<line x1="83.71" y1="324.76" x2="83.54" y2="325.95" stroke="#b0b0b0" stroke-width="0.45"/>
<line x1="80.60" y1="324.21" x2="80.35" y2="325.39" stroke="#b0b0b0" stroke-width="0.45"/>
<line x1="77.54" y1="323.45" x2="77.21" y2="324.60" stroke="#b0b0b0" stroke-width="0.45"/>
<line x1="74.54" y1="322.47" x2="74.13" y2="323.60" stroke="#b0b0b0" stroke-width="0.45"/>
<line x1="71.62" y1="321.29" x2="71.13" y2="322.39" stroke="#b0b0b0" stroke-width="0.45"/>
<line x1="68.78" y1="319.91" x2="68.22" y2="320.97" stroke="#b0b0b0" stroke-width="0.45"/>
<line x1="66.05" y1="318.33" x2="65.41" y2="319.35" stroke="#b0b0b0" stroke-width="0.45"/>
<line x1="63.43" y1="316.57" x2="62.73" y2="317.54" stroke="#b0b0b0" stroke-width="0.45"/>
<line x1="60.95" y1="314.63" x2="60.17" y2="315.54" stroke="#b0b0b0" stroke-width="0.45"/>
<line x1="58.60" y1="312.51" x2="57.77" y2="313.38" stroke="#b0b0b0" stroke-width="0.45"/>
<line x1="56.41" y1="310.24" x2="55.52" y2="311.05" stroke="#b0b0b0" stroke-width="0.45"/>
<line x1="54.38" y1="307.83" x2="53.44" y2="308.57" stroke="#b0b0b0" stroke-width="0.45"/>
<line x1="52.53" y1="305.28" x2="51.53" y2="305.95" stroke="#b0b0b0" stroke-width="0.45"/>
<line x1="50.86" y1="302.60" x2="49.82" y2="303.20" stroke="#b0b0b0" stroke-width="0.45"/>
<line x1="49.37" y1="299.81" x2="48.30" y2="300.34" stroke="#b0b0b0" stroke-width="0.45"/>
<line x1="48.09" y1="296.93" x2="46.98" y2="297.38" stroke="#b0b0b0" stroke-width="0.45"/>
<line x1="47.01" y1="293.97" x2="45.87" y2="294.34" stroke="#b0b0b0" stroke-width="0.45"/>
<line x1="46.14" y1="290.93" x2="44.98" y2="291.23" stroke="#b0b0b0" stroke-width="0.45"/>
<line x1="45.49" y1="287.85" x2="44.30" y2="288.06" stroke="#b0b0b0" stroke-width="0.45"/>
<line x1="45.05" y1="284.72" x2="43.85" y2="284.85" stroke="#b0b0b0" stroke-width="0.45"/>
<line x1="44.83" y1="281.58" x2="43.63" y2="281.62" stroke="#b0b0b0" stroke-width="0.45"/>
<line x1="44.83" y1="278.42" x2="43.63" y2="278.38" stroke="#b0b0b0" stroke-width="0.45"/>
<line x1="45.05" y1="275.28" x2="43.85" y2="275.15" stroke="#b0b0b0" stroke-width="0.45"/>
<line x1="45.49" y1="272.15" x2="44.30" y2="271.94" stroke="#b0b0b0" stroke-width="0.45"/>
<line x1="46.14" y1="269.07" x2="44.98" y2="268.77" stroke="#b0b0b0" stroke-width="0.45"/>
<line x1="47.01" y1="266.03" x2="45.87" y2="265.66" stroke="#b0b0b0" stroke-width="0.45"/>
<line x1="48.09" y1="263.07" x2="46.98" y2="262.62" stroke="#b0b0b0" stroke-width="0.45"/>
<line x1="49.37" y1="260.19" x2="48.30" y2="259.66" stroke="#b0b0b0" stroke-width="0.45"/>
<line x1="50.86" y1="257.40" x2="49.82" y2="256.80" stroke="#b0b0b0" stroke-width="0.45"/>
<line x1="52.53" y1="254.72" x2="51.53" y2="254.05" stroke="#b0b0b0" stroke-width="0.45"/>
<line x1="54.38" y1="252.17" x2="53.44" y2="251.43" stroke="#b0b0b0" stroke-width="0.45"/>
<line x1="56.41" y1="249.76" x2="55.52" y2="248.95" stroke="#b0b0b0" stroke-width="0.45"/>
<line x1="58.60" y1="247.49" x2="57.77" y2="246.62" stroke="#b0b0b0" stroke-width="0.45"/>
<line x1="60.95" y1="245.37" x2="60.17" y2="244.46" stroke="#b0b0b0" stroke-width="0.45"/>
<line x1="63.43" y1="243.43" x2="62.73" y2="242.46" stroke="#b0b0b0" stroke-width="0.45"/>
<line x1="66.05" y1="241.67" x2="65.41" y2="240.65" stroke="#b0b0b0" stroke-width="0.45"/>
<line x1="68.78" y1="240.09" x2="68.22" y2="239.03" stroke="#b0b0b0" stroke-width="0.45"/>
<line x1="71.62" y1="238.71" x2="71.13" y2="237.61" stroke="#b0b0b0" stroke-width="0.45"/>
<line x1="74.54" y1="237.53" x2="74.13" y2="236.40" stroke="#b0b0b0" stroke-width="0.45"/>
<line x1="77.54" y1="236.55" x2="77.21" y2="235.40" stroke="#b0b0b0" stroke-width="0.45"/>
<line x1="80.60" y1="235.79" x2="80.35" y2="234.61" stroke="#b0b0b0" stroke-width="0.45"/>
<line x1="83.71" y1="235.24" x2="83.54" y2="234.05" stroke="#b0b0b0" stroke-width="0.45"/>
<line x1="86.85" y1="234.91" x2="86.76" y2="233.71" stroke="#b0b0b0" stroke-width="0.45"/>
<line x1="90.94" y1="225.91" x2="90.99" y2="223.31" stroke="#808080" stroke-width="0.6"/>
<line x1="93.40" y1="226.01" x2="93.56" y2="223.41" stroke="#808080" stroke-width="0.6"/>
<line x1="95.84" y1="226.22" x2="96.12" y2="223.63" stroke="#808080" stroke-width="0.6"/>
<line x1="98.28" y1="226.54" x2="98.67" y2="223.97" stroke="#808080" stroke-width="0.6"/>
<line x1="100.69" y1="226.97" x2="101.21" y2="224.42" stroke="#808080" stroke-width="0.6"/>
<line x1="103.09" y1="227.51" x2="103.72" y2="224.98" stroke="#808080" stroke-width="0.6"/>
<line x1="105.46" y1="228.15" x2="106.20" y2="225.66" stroke="#808080" stroke-width="0.6"/>
<line x1="107.79" y1="228.91" x2="108.65" y2="226.45" stroke="#808080" stroke-width="0.6"/>
<line x1="110.09" y1="229.77" x2="111.06" y2="227.35" stroke="#808080" stroke-width="0.6"/>
<line x1="112.35" y1="230.73" x2="113.42" y2="228.36" stroke="#808080" stroke-width="0.6"/>
<line x1="114.56" y1="231.80" x2="115.74" y2="229.48" stroke="#808080" stroke-width="0.6"/>
<line x1="116.72" y1="232.96" x2="118.01" y2="230.70" stroke="#808080" stroke-width="0.6"/>
<line x1="118.83" y1="234.22" x2="120.21" y2="232.02" stroke="#808080" stroke-width="0.6"/>
<line x1="120.88" y1="235.58" x2="122.36" y2="233.44" stroke="#808080" stroke-width="0.6"/>
<line x1="122.86" y1="237.02" x2="124.44" y2="234.96" stroke="#808080" stroke-width="0.6"/>
<line x1="124.77" y1="238.56" x2="126.45" y2="236.57" stroke="#808080" stroke-width="0.6"/>
<line x1="126.62" y1="240.18" x2="128.38" y2="238.26" stroke="#808080" stroke-width="0.6"/>
<line x1="128.39" y1="241.88" x2="130.23" y2="240.05" stroke="#808080" stroke-width="0.6"/>
<line x1="130.08" y1="243.66" x2="132.00" y2="241.91" stroke="#808080" stroke-width="0.6"/>
<line x1="131.68" y1="245.52" x2="133.69" y2="243.86" stroke="#808080" stroke-width="0.6"/>
<line x1="133.21" y1="247.44" x2="135.28" y2="245.88" stroke="#808080" stroke-width="0.6"/>
<line x1="134.64" y1="249.44" x2="136.78" y2="247.97" stroke="#808080" stroke-width="0.6"/>
<line x1="135.98" y1="251.49" x2="138.19" y2="250.12" stroke="#808080" stroke-width="0.6"/>
<line x1="137.23" y1="253.61" x2="139.49" y2="252.34" stroke="#808080" stroke-width="0.6"/>
<line x1="138.37" y1="255.78" x2="140.70" y2="254.61" stroke="#808080" stroke-width="0.6"/>
<line x1="139.42" y1="258.00" x2="141.80" y2="256.94" stroke="#808080" stroke-width="0.6"/>
<line x1="140.37" y1="260.26" x2="142.79" y2="259.31" stroke="#808080" stroke-width="0.6"/>
<line x1="141.21" y1="262.57" x2="143.68" y2="261.73" stroke="#808080" stroke-width="0.6"/>
<line x1="141.95" y1="264.91" x2="144.45" y2="264.18" stroke="#808080" stroke-width="0.6"/>
<line x1="142.58" y1="267.28" x2="145.11" y2="266.67" stroke="#808080" stroke-width="0.6"/>
<line x1="143.11" y1="269.68" x2="145.66" y2="269.18" stroke="#808080" stroke-width="0.6"/>
<line x1="143.52" y1="272.10" x2="146.09" y2="271.72" stroke="#808080" stroke-width="0.6"/>
<line x1="143.82" y1="274.53" x2="146.41" y2="274.27" stroke="#808080" stroke-width="0.6"/>
<line x1="144.02" y1="276.98" x2="146.61" y2="276.83" stroke="#808080" stroke-width="0.6"/>
<line x1="144.10" y1="279.43" x2="146.70" y2="279.41" stroke="#808080" stroke-width="0.6"/>
<line x1="144.07" y1="281.89" x2="146.67" y2="281.98" stroke="#808080" stroke-width="0.6"/>
<line x1="143.93" y1="284.34" x2="146.52" y2="284.55" stroke="#808080" stroke-width="0.6"/>
<line x1="143.67" y1="286.78" x2="146.25" y2="287.11" stroke="#808080" stroke-width="0.6"/>
<line x1="143.31" y1="289.21" x2="145.87" y2="289.65" stroke="#808080" stroke-width="0.6"/>
<line x1="142.84" y1="291.62" x2="145.38" y2="292.18" stroke="#808080" stroke-width="0.6"/>
<line x1="142.26" y1="294.00" x2="144.77" y2="294.68" stroke="#808080" stroke-width="0.6"/>
<line x1="141.57" y1="296.36" x2="144.05" y2="297.14" stroke="#808080" stroke-width="0.6"/>
<line x1="140.77" y1="298.68" x2="143.21" y2="299.58" stroke="#808080" stroke-width="0.6"/>
<line x1="139.87" y1="300.96" x2="142.27" y2="301.97" stroke="#808080" stroke-width="0.6"/>
<line x1="138.87" y1="303.21" x2="141.22" y2="304.32" stroke="#808080" stroke-width="0.6"/>
<line x1="137.77" y1="305.40" x2="140.06" y2="306.62" stroke="#808080" stroke-width="0.6"/>
<line x1="136.57" y1="307.54" x2="138.80" y2="308.86" stroke="#808080" stroke-width="0.6"/>
<line x1="135.27" y1="309.62" x2="137.44" y2="311.05" stroke="#808080" stroke-width="0.6"/>
<line x1="133.88" y1="311.65" x2="135.99" y2="313.17" stroke="#808080" stroke-width="0.6"/>
<line x1="132.40" y1="313.60" x2="134.44" y2="315.22" stroke="#808080" stroke-width="0.6"/>
<line x1="130.83" y1="315.49" x2="132.79" y2="317.20" stroke="#808080" stroke-width="0.6"/>
<line x1="129.18" y1="317.31" x2="131.06" y2="319.10" stroke="#808080" stroke-width="0.6"/>
<line x1="127.44" y1="319.05" x2="129.24" y2="320.92" stroke="#808080" stroke-width="0.6"/>
<line x1="125.64" y1="320.71" x2="127.35" y2="322.66" stroke="#808080" stroke-width="0.6"/>
<line x1="123.75" y1="322.28" x2="125.37" y2="324.31" stroke="#808080" stroke-width="0.6"/>
<line x1="121.80" y1="323.77" x2="123.33" y2="325.87" stroke="#808080" stroke-width="0.6"/>
<line x1="119.78" y1="325.17" x2="121.21" y2="327.34" stroke="#808080" stroke-width="0.6"/>
<line x1="117.70" y1="326.47" x2="119.03" y2="328.70" stroke="#808080" stroke-width="0.6"/>
<line x1="115.56" y1="327.68" x2="116.79" y2="329.97" stroke="#808080" stroke-width="0.6"/>
<line x1="113.38" y1="328.79" x2="114.50" y2="331.13" stroke="#808080" stroke-width="0.6"/>
<line x1="111.14" y1="329.80" x2="112.15" y2="332.19" stroke="#808080" stroke-width="0.6"/>
<line x1="108.86" y1="330.71" x2="109.76" y2="333.14" stroke="#808080" stroke-width="0.6"/>
<line x1="106.54" y1="331.51" x2="107.33" y2="333.99" stroke="#808080" stroke-width="0.6"/>
<line x1="104.18" y1="332.21" x2="104.87" y2="334.72" stroke="#808080" stroke-width="0.6"/>
<line x1="101.80" y1="332.80" x2="102.37" y2="335.33" stroke="#808080" stroke-width="0.6"/>
<line x1="99.39" y1="333.28" x2="99.85" y2="335.84" stroke="#808080" stroke-width="0.6"/>
<line x1="96.97" y1="333.65" x2="97.30" y2="336.23" stroke="#808080" stroke-width="0.6"/>
<line x1="94.53" y1="333.91" x2="94.74" y2="336.50" stroke="#808080" stroke-width="0.6"/>
<line x1="92.08" y1="334.06" x2="92.18" y2="336.66" stroke="#808080" stroke-width="0.6"/>
<line x1="89.62" y1="334.10" x2="89.60" y2="336.70" stroke="#808080" stroke-width="0.6"/>
<line x1="87.17" y1="334.03" x2="87.03" y2="336.62" stroke="#808080" stroke-width="0.6"/>
<line x1="84.72" y1="333.84" x2="84.47" y2="336.43" stroke="#808080" stroke-width="0.6"/>
<line x1="82.28" y1="333.55" x2="81.91" y2="336.12" stroke="#808080" stroke-width="0.6"/>
<line x1="79.86" y1="333.14" x2="79.38" y2="335.70" stroke="#808080" stroke-width="0.6"/>
<line x1="77.46" y1="332.63" x2="76.86" y2="335.16" stroke="#808080" stroke-width="0.6"/>
<line x1="75.09" y1="332.00" x2="74.37" y2="334.50" stroke="#808080" stroke-width="0.6"/>
<line x1="72.74" y1="331.27" x2="71.92" y2="333.74" stroke="#808080" stroke-width="0.6"/>
<line x1="70.44" y1="330.44" x2="69.50" y2="332.86" stroke="#808080" stroke-width="0.6"/>
<line x1="68.17" y1="329.50" x2="67.12" y2="331.88" stroke="#808080" stroke-width="0.6"/>
<line x1="65.95" y1="328.46" x2="64.79" y2="330.79" stroke="#808080" stroke-width="0.6"/>
<line x1="63.77" y1="327.32" x2="62.51" y2="329.59" stroke="#808080" stroke-width="0.6"/>
<line x1="61.65" y1="326.08" x2="60.29" y2="328.29" stroke="#808080" stroke-width="0.6"/>
<line x1="59.59" y1="324.75" x2="58.13" y2="326.90" stroke="#808080" stroke-width="0.6"/>
<line x1="57.59" y1="323.32" x2="56.04" y2="325.40" stroke="#808080" stroke-width="0.6"/>
<line x1="55.66" y1="321.80" x2="54.01" y2="323.81" stroke="#808080" stroke-width="0.6"/>
<line x1="53.80" y1="320.20" x2="52.06" y2="322.14" stroke="#808080" stroke-width="0.6"/>
<line x1="52.01" y1="318.52" x2="50.19" y2="320.37" stroke="#808080" stroke-width="0.6"/>
<line x1="50.31" y1="316.76" x2="48.40" y2="318.52" stroke="#808080" stroke-width="0.6"/>
<line x1="48.68" y1="314.92" x2="46.69" y2="316.60" stroke="#808080" stroke-width="0.6"/>
<line x1="47.14" y1="313.01" x2="45.08" y2="314.60" stroke="#808080" stroke-width="0.6"/>
<line x1="45.68" y1="311.03" x2="43.55" y2="312.52" stroke="#808080" stroke-width="0.6"/>
<line x1="44.32" y1="308.99" x2="42.13" y2="310.38" stroke="#808080" stroke-width="0.6"/>
<line x1="43.05" y1="306.89" x2="40.80" y2="308.18" stroke="#808080" stroke-width="0.6"/>
<line x1="41.88" y1="304.73" x2="39.57" y2="305.92" stroke="#808080" stroke-width="0.6"/>
<line x1="40.81" y1="302.52" x2="38.45" y2="303.60" stroke="#808080" stroke-width="0.6"/>
<line x1="39.84" y1="300.27" x2="37.43" y2="301.24" stroke="#808080" stroke-width="0.6"/>
<line x1="38.97" y1="297.97" x2="36.52" y2="298.83" stroke="#808080" stroke-width="0.6"/>
<line x1="38.21" y1="295.64" x2="35.72" y2="296.39" stroke="#808080" stroke-width="0.6"/>
<line x1="37.55" y1="293.27" x2="35.03" y2="293.91" stroke="#808080" stroke-width="0.6"/>
<line x1="37.00" y1="290.88" x2="34.46" y2="291.40" stroke="#808080" stroke-width="0.6"/>
<line x1="36.57" y1="288.46" x2="34.00" y2="288.87" stroke="#808080" stroke-width="0.6"/>
<line x1="36.24" y1="286.03" x2="33.65" y2="286.32" stroke="#808080" stroke-width="0.6"/>
<line x1="36.02" y1="283.59" x2="33.42" y2="283.76" stroke="#808080" stroke-width="0.6"/>
<line x1="35.91" y1="281.13" x2="33.31" y2="281.19" stroke="#808080" stroke-width="0.6"/>
<line x1="35.92" y1="278.68" x2="33.32" y2="278.61" stroke="#808080" stroke-width="0.6"/>
<line x1="36.03" y1="276.23" x2="33.44" y2="276.04" stroke="#808080" stroke-width="0.6"/>
<line x1="36.26" y1="273.78" x2="33.68" y2="273.48" stroke="#808080" stroke-width="0.6"/>
<line x1="36.60" y1="271.35" x2="34.03" y2="270.93" stroke="#808080" stroke-width="0.6"/>
<line x1="37.04" y1="268.94" x2="34.50" y2="268.41" stroke="#808080" stroke-width="0.6"/>
<line x1="37.60" y1="266.55" x2="35.08" y2="265.90" stroke="#808080" stroke-width="0.6"/>
<line x1="38.26" y1="264.18" x2="35.78" y2="263.42" stroke="#808080" stroke-width="0.6"/>
<line x1="39.03" y1="261.85" x2="36.59" y2="260.98" stroke="#808080" stroke-width="0.6"/>
<line x1="39.91" y1="259.56" x2="37.50" y2="258.58" stroke="#808080" stroke-width="0.6"/>
<line x1="40.89" y1="257.31" x2="38.53" y2="256.22" stroke="#808080" stroke-width="0.6"/>
<line x1="41.97" y1="255.10" x2="39.66" y2="253.91" stroke="#808080" stroke-width="0.6"/>
<line x1="43.15" y1="252.95" x2="40.90" y2="251.65" stroke="#808080" stroke-width="0.6"/>
<line x1="44.42" y1="250.85" x2="42.23" y2="249.45" stroke="#808080" stroke-width="0.6"/>
<line x1="45.79" y1="248.82" x2="43.67" y2="247.32" stroke="#808080" stroke-width="0.6"/>
<line x1="47.25" y1="246.84" x2="45.20" y2="245.25" stroke="#808080" stroke-width="0.6"/>
<line x1="48.80" y1="244.94" x2="46.82" y2="243.25" stroke="#808080" stroke-width="0.6"/>
<line x1="50.43" y1="243.10" x2="48.53" y2="241.33" stroke="#808080" stroke-width="0.6"/>
<line x1="52.15" y1="241.35" x2="50.33" y2="239.49" stroke="#808080" stroke-width="0.6"/>
<line x1="53.94" y1="239.67" x2="52.21" y2="237.73" stroke="#808080" stroke-width="0.6"/>
<line x1="55.81" y1="238.08" x2="54.16" y2="236.06" stroke="#808080" stroke-width="0.6"/>
<line x1="57.74" y1="236.57" x2="56.19" y2="234.48" stroke="#808080" stroke-width="0.6"/>
<line x1="59.75" y1="235.15" x2="58.29" y2="232.99" stroke="#808080" stroke-width="0.6"/>
<line x1="61.81" y1="233.82" x2="60.46" y2="231.60" stroke="#808080" stroke-width="0.6"/>
<line x1="63.94" y1="232.59" x2="62.68" y2="230.31" stroke="#808080" stroke-width="0.6"/>
<line x1="66.11" y1="231.46" x2="64.97" y2="229.13" stroke="#808080" stroke-width="0.6"/>
<line x1="68.34" y1="230.42" x2="67.30" y2="228.04" stroke="#808080" stroke-width="0.6"/>
<line x1="70.61" y1="229.49" x2="69.68" y2="227.07" stroke="#808080" stroke-width="0.6"/>
<line x1="72.92" y1="228.67" x2="72.10" y2="226.20" stroke="#808080" stroke-width="0.6"/>
<line x1="75.27" y1="227.94" x2="74.56" y2="225.44" stroke="#808080" stroke-width="0.6"/>
<line x1="77.65" y1="227.33" x2="77.05" y2="224.80" stroke="#808080" stroke-width="0.6"/>
<line x1="80.05" y1="226.82" x2="79.57" y2="224.27" stroke="#808080" stroke-width="0.6"/>
<line x1="82.47" y1="226.43" x2="82.11" y2="223.85" stroke="#808080" stroke-width="0.6"/>
<line x1="84.91" y1="226.14" x2="84.66" y2="223.55" stroke="#808080" stroke-width="0.6"/>
<line x1="87.36" y1="225.96" x2="87.23" y2="223.37" stroke="#808080" stroke-width="0.6"/>
<line x1="89.81" y1="225.90" x2="89.80" y2="223.30" stroke="#808080" stroke-width="0.6"/>
<path d="M55.21,301.69A41.0,41.0 0 0 1 54.43,300.39Q77.94,304.38 95.37,320.65A41.0,41.0 0 0 1 94.23,320.78Q77.58,305.38 55.21,301.69Z" fill="#5ccf5c" fill-opacity="0.75"/>
<path d="M53.36,298.40A41.0,41.0 0 0 1 52.69,296.99Q87.83,273.10 130.31,272.51A41.0,41.0 0 0 1 130.50,273.64Q88.22,274.45 53.36,298.40Z" fill="#3a3ad8" fill-opacity="0.75"/>
<path d="M51.76,294.80A41.0,41.0 0 0 1 51.17,293.15Q66.85,302.08 75.03,318.17A41.0,41.0 0 0 1 73.97,317.74Q66.31,302.94 51.76,294.80Z" fill="#90e05a" fill-opacity="0.75"/>
<path d="M50.48,290.91A41.0,41.0 0 0 1 50.10,289.43Q92.84,291.74 129.80,270.13A41.0,41.0 0 0 1 130.06,271.25Q87.32,269.14 50.48,290.91Z" fill="#e8902e" fill-opacity="0.75"/>
<path d="M49.64,287.23A41.0,41.0 0 0 1 49.40,285.71Q90.09,279.35 127.56,296.44A41.0,41.0 0 0 1 127.09,297.48Q89.90,280.74 49.64,287.23Z" fill="#d63222" fill-opacity="0.75"/>
<path d="M49.15,283.45A41.0,41.0 0 0 1 49.04,281.87Q81.16,292.57 102.09,319.18A41.0,41.0 0 0 1 100.99,319.50Q80.48,293.70 49.15,283.45Z" fill="#e3e334" fill-opacity="0.75"/>
<path d="M49.00,279.67A41.0,41.0 0 0 1 49.04,278.29Q89.42,281.48 121.39,306.38A41.0,41.0 0 0 1 120.70,307.18Q88.98,282.67 49.00,279.67Z" fill="#e8902e" fill-opacity="0.75"/>
<path d="M49.18,276.12A41.0,41.0 0 0 1 49.36,274.58Q80.13,290.31 97.16,320.37A41.0,41.0 0 0 1 96.03,320.55Q79.27,291.31 49.18,276.12Z" fill="#5ccf5c" fill-opacity="0.75"/>
<path d="M49.73,272.32A41.0,41.0 0 0 1 50.06,270.75Q89.83,278.32 127.19,262.75A41.0,41.0 0 0 1 127.66,263.79Q89.97,279.75 49.73,272.32Z" fill="#b8e040" fill-opacity="0.75"/>
<path d="M50.65,268.47A41.0,41.0 0 0 1 51.16,266.86Q87.36,283.06 108.66,316.51A41.0,41.0 0 0 1 107.63,317.02Q86.42,284.20 50.65,268.47Z" fill="#5ccf5c" fill-opacity="0.75"/>
<path d="M51.93,264.78A41.0,41.0 0 0 1 52.45,263.54Q93.70,273.73 122.53,304.95A41.0,41.0 0 0 1 121.82,305.85Q93.04,274.83 51.93,264.78Z" fill="#7fe3bd" fill-opacity="0.75"/>
<path d="M53.34,261.64A41.0,41.0 0 0 1 54.01,260.37Q90.41,277.05 129.99,270.95A41.0,41.0 0 0 1 130.21,271.98Q90.22,278.34 53.34,261.64Z" fill="#e8902e" fill-opacity="0.75"/>
<path d="M55.06,258.55A41.0,41.0 0 0 1 55.78,257.42Q85.28,288.30 126.92,297.84A41.0,41.0 0 0 1 126.47,298.74Q84.74,289.35 55.06,258.55Z" fill="#3a3ad8" fill-opacity="0.75"/>
<path d="M57.05,255.59A41.0,41.0 0 0 1 58.09,254.26Q88.17,281.12 98.50,320.11A41.0,41.0 0 0 1 97.38,320.33Q86.93,281.91 57.05,255.59Z" fill="#40c8c8" fill-opacity="0.75"/>
<path d="M59.56,252.53A41.0,41.0 0 0 1 60.52,251.51Q97.18,273.43 115.73,311.92A41.0,41.0 0 0 1 114.83,312.63Q96.21,274.29 59.56,252.53Z" fill="#5ccf5c" fill-opacity="0.75"/>
<path d="M61.73,250.30A41.0,41.0 0 0 1 62.16,249.90Q92.12,275.08 131.00,279.61A41.0,41.0 0 0 1 131.00,280.05Q91.90,275.57 61.73,250.30Z" fill="#3a3ad8" fill-opacity="0.75"/>
<path d="M63.17,249.00A41.0,41.0 0 0 1 63.82,248.44Q84.56,285.61 122.32,305.22A41.0,41.0 0 0 1 121.82,305.85Q83.97,286.22 63.17,249.00Z" fill="#9a32e0" fill-opacity="0.75"/>
<path d="M64.99,247.51A41.0,41.0 0 0 1 65.67,247.00Q87.03,283.21 124.79,301.69A41.0,41.0 0 0 1 124.45,302.24Q86.51,283.79 64.99,247.51Z" fill="#7fe3bd" fill-opacity="0.75"/>
<path d="M66.85,246.16A41.0,41.0 0 0 1 67.48,245.74Q88.33,281.77 125.58,300.38A41.0,41.0 0 0 1 125.23,300.97Q87.82,282.32 66.85,246.16Z" fill="#40c8c8" fill-opacity="0.75"/>
<path d="M68.66,244.99A41.0,41.0 0 0 1 69.30,244.61Q86.33,283.14 121.75,305.94A41.0,41.0 0 0 1 121.38,306.38Q85.81,283.59 68.66,244.99Z" fill="#3a3ad8" fill-opacity="0.75"/>
<path d="M70.46,243.96A41.0,41.0 0 0 1 71.01,243.67Q91.26,278.66 127.43,296.73A41.0,41.0 0 0 1 127.23,297.18Q90.86,279.08 70.46,243.96Z" fill="#e3e334" fill-opacity="0.75"/>
<path d="M72.11,243.11A41.0,41.0 0 0 1 72.63,242.86Q96.93,261.00 127.20,262.76A41.0,41.0 0 0 1 127.37,263.14Q96.74,261.41 72.11,243.11Z" fill="#e8902e" fill-opacity="0.75"/>
<path d="M73.82,242.33A41.0,41.0 0 0 1 74.48,242.05Q81.23,284.24 110.09,315.74A41.0,41.0 0 0 1 109.53,316.05Q80.62,284.55 73.82,242.33Z" fill="#9a32e0" fill-opacity="0.75"/>
<path d="M75.69,241.58A41.0,41.0 0 0 1 76.25,241.37Q97.64,269.51 130.98,281.23A41.0,41.0 0 0 1 130.96,281.82Q97.29,269.99 75.69,241.58Z" fill="#c833d8" fill-opacity="0.75"/>
<path d="M77.43,240.97A41.0,41.0 0 0 1 78.03,240.79Q97.22,271.88 130.35,287.27A41.0,41.0 0 0 1 130.24,287.87Q96.80,272.34 77.43,240.97Z" fill="#3a3ad8" fill-opacity="0.75"/>
<path d="M79.26,240.43A41.0,41.0 0 0 1 79.88,240.27Q100.36,260.71 128.72,266.51A41.0,41.0 0 0 1 128.92,267.10Q100.09,261.21 79.26,240.43Z" fill="#66a6e0" fill-opacity="0.75"/>
<path d="M81.10,239.98A41.0,41.0 0 0 1 81.67,239.85Q84.30,282.10 109.75,315.93A41.0,41.0 0 0 1 109.36,316.14Q83.81,282.30 81.10,239.98Z" fill="#e8902e" fill-opacity="0.75"/>
<path d="M82.94,239.61A41.0,41.0 0 0 1 83.63,239.50Q87.99,279.63 69.54,315.53A41.0,41.0 0 0 1 69.08,315.26Q87.35,279.52 82.94,239.61Z" fill="#e3e334" fill-opacity="0.75"/>
<path d="M84.96,239.31A41.0,41.0 0 0 1 85.66,239.23Q90.86,280.14 72.68,317.16A41.0,41.0 0 0 1 72.13,316.90Q90.18,280.03 84.96,239.31Z" fill="#9a32e0" fill-opacity="0.75"/>
<path d="M87.05,239.11A41.0,41.0 0 0 1 87.86,239.06Q104.07,257.60 127.82,264.16A41.0,41.0 0 0 1 128.04,264.69Q103.71,258.05 87.05,239.11Z" fill="#3a3ad8" fill-opacity="0.75"/>
<path d="M89.10,239.01A41.0,41.0 0 0 1 89.46,239.00Q88.41,280.43 110.34,315.60A41.0,41.0 0 0 1 110.05,315.76Q88.06,280.53 89.10,239.01Z" fill="#7fe3bd" fill-opacity="0.75"/>
<path d="M100.13,319.73A41.0,41.0 0 0 1 98.46,320.12Q84.25,293.25 54.91,301.21A41.0,41.0 0 0 1 54.44,300.41Q85.01,291.80 100.13,319.73Z" fill="#90e05a" fill-opacity="0.55"/>
<path d="M57.29,304.72A41.0,41.0 0 0 1 56.57,303.74Q59.17,293.77 50.01,289.04A41.0,41.0 0 0 1 49.79,288.01Q60.22,293.36 57.29,304.72Z" fill="#7fe3bd" fill-opacity="0.55"/>
<path d="M75.02,318.17A41.0,41.0 0 0 1 73.12,317.37Q85.19,310.49 94.55,320.75A41.0,41.0 0 0 1 93.69,320.83Q85.42,312.03 75.02,318.17Z" fill="#90e05a" fill-opacity="0.55"/>
<path d="M112.38,314.35A41.0,41.0 0 0 1 111.25,315.07Q95.13,306.59 83.32,320.45A41.0,41.0 0 0 1 82.59,320.32Q95.09,305.42 112.38,314.35Z" fill="#5ccf5c" fill-opacity="0.55"/>
<path d="M92.23,320.94A41.0,41.0 0 0 1 91.02,320.99Q82.68,310.21 70.34,315.98A41.0,41.0 0 0 1 69.49,315.50Q83.04,309.12 92.23,320.94Z" fill="#a8e070" fill-opacity="0.55"/>
<path d="M115.36,312.22A41.0,41.0 0 0 1 113.90,313.31Q90.29,279.03 51.67,294.54A41.0,41.0 0 0 1 51.19,293.22Q90.87,277.05 115.36,312.22Z" fill="#90e05a" fill-opacity="0.55"/>
<path d="M76.09,318.57A41.0,41.0 0 0 1 75.01,318.16Q91.86,302.20 111.13,315.14A41.0,41.0 0 0 1 110.32,315.61Q92.02,303.40 76.09,318.57Z" fill="#90e05a" fill-opacity="0.55"/>
<path d="M54.52,300.54A41.0,41.0 0 0 1 53.71,299.09Q88.83,284.17 111.10,315.16A41.0,41.0 0 0 1 110.02,315.78Q88.36,285.96 54.52,300.54Z" fill="#90e05a" fill-opacity="0.55"/>
<path d="M64.02,311.72A41.0,41.0 0 0 1 62.91,310.78Q63.86,297.91 51.52,294.16A41.0,41.0 0 0 1 51.12,293.02Q65.05,297.21 64.02,311.72Z" fill="#90e05a" fill-opacity="0.55"/>
<path d="M59.96,307.90A41.0,41.0 0 0 1 58.69,306.47Q76.32,303.76 82.84,320.37A41.0,41.0 0 0 1 81.53,320.12Q75.63,305.38 59.96,307.90Z" fill="#7fe3bd" fill-opacity="0.55"/>
<path d="M115.55,312.07A41.0,41.0 0 0 1 114.38,312.97Q89.68,292.13 63.94,311.65A41.0,41.0 0 0 1 63.38,311.18Q89.82,290.76 115.55,312.07Z" fill="#90e05a" fill-opacity="0.55"/>
<path d="M111.71,314.78A41.0,41.0 0 0 1 109.87,315.86Q88.88,296.61 65.48,312.86A41.0,41.0 0 0 1 64.42,312.04Q89.16,294.49 111.71,314.78Z" fill="#5ccf5c" fill-opacity="0.55"/>
<path d="M90.83,320.99A41.0,41.0 0 0 1 89.13,320.99Q79.75,302.28 59.43,307.33A41.0,41.0 0 0 1 58.76,306.55Q80.57,300.94 90.83,320.99Z" fill="#7fe3bd" fill-opacity="0.55"/>
<path d="M111.50,314.91A41.0,41.0 0 0 1 110.55,315.48Q88.22,290.12 58.58,306.34A41.0,41.0 0 0 1 57.86,305.45Q88.46,288.73 111.50,314.91Z" fill="#a8e070" fill-opacity="0.55"/>
<path d="M115.11,312.41A41.0,41.0 0 0 1 114.16,313.13Q91.26,276.41 50.42,290.69A41.0,41.0 0 0 1 50.11,289.45Q91.79,274.93 115.11,312.41Z" fill="#a8e070" fill-opacity="0.55"/>
<path d="M100.21,319.71A41.0,41.0 0 0 1 98.85,320.03Q104.02,309.33 115.60,312.02A41.0,41.0 0 0 1 114.65,312.76Q104.65,310.46 100.21,319.71Z" fill="#90e05a" fill-opacity="0.55"/>
<path d="M81.59,320.13A41.0,41.0 0 0 1 80.18,319.81Q74.76,304.24 58.38,306.11A41.0,41.0 0 0 1 57.52,305.03Q75.60,302.95 81.59,320.13Z" fill="#a8e070" fill-opacity="0.55"/>
<path d="M58.98,306.81A41.0,41.0 0 0 1 57.84,305.43Q80.42,300.13 90.55,321.00A41.0,41.0 0 0 1 89.69,321.00Q80.01,301.62 58.98,306.81Z" fill="#a8e070" fill-opacity="0.55"/>
<path d="M102.70,318.98A41.0,41.0 0 0 1 101.46,319.37Q86.68,286.49 51.35,293.69A41.0,41.0 0 0 1 51.09,292.92Q87.32,285.31 102.70,318.98Z" fill="#5ccf5c" fill-opacity="0.55"/>
<path d="M68.81,315.10A41.0,41.0 0 0 1 67.65,314.37Q68.35,296.01 50.59,291.30A41.0,41.0 0 0 1 50.37,290.49Q69.43,295.42 68.81,315.10Z" fill="#a8e070" fill-opacity="0.55"/>
<path d="M120.94,253.10A41.0,41.0 0 0 1 122.04,254.42Q91.65,283.26 50.40,290.61A41.0,41.0 0 0 1 50.12,289.50Q90.99,281.93 120.94,253.10Z" fill="#e8902e" fill-opacity="0.55"/>
<path d="M122.31,254.76A41.0,41.0 0 0 1 123.34,256.13Q89.42,268.14 54.49,259.50A41.0,41.0 0 0 1 55.08,258.52Q89.26,266.72 122.31,254.76Z" fill="#5ccf5c" fill-opacity="0.55"/>
<path d="M123.59,256.48A41.0,41.0 0 0 1 124.54,257.91Q88.38,278.45 69.50,315.51A41.0,41.0 0 0 1 68.52,314.92Q87.29,277.44 123.59,256.48Z" fill="#90e05a" fill-opacity="0.55"/>
<path d="M124.77,258.27A41.0,41.0 0 0 1 125.65,259.75Q90.98,283.13 49.16,283.57A41.0,41.0 0 0 1 49.07,282.43Q90.54,281.71 124.77,258.27Z" fill="#d63222" fill-opacity="0.55"/>
<path d="M125.86,260.12A41.0,41.0 0 0 1 126.66,261.64Q84.75,270.25 54.49,300.50A41.0,41.0 0 0 1 53.93,299.50Q95.80,290.60 125.86,260.12Z" fill="#5ccf5c" fill-opacity="0.55"/>
<path d="M126.85,262.03A41.0,41.0 0 0 1 127.57,263.59Q93.53,283.32 75.98,318.53A41.0,41.0 0 0 1 74.91,318.12Q92.46,282.28 126.85,262.03Z" fill="#90e05a" fill-opacity="0.55"/>
<path d="M127.74,263.98A41.0,41.0 0 0 1 128.38,265.57Q90.10,281.04 49.62,272.88A41.0,41.0 0 0 1 49.84,271.76Q89.96,279.55 127.74,263.98Z" fill="#e3e334" fill-opacity="0.55"/>
<path d="M128.53,265.98A41.0,41.0 0 0 1 129.08,267.60Q98.06,287.06 82.88,320.38A41.0,41.0 0 0 1 81.76,320.16Q97.01,286.05 128.53,265.98Z" fill="#d63222" fill-opacity="0.55"/>
<path d="M129.21,268.01A41.0,41.0 0 0 1 129.68,269.67Q88.63,277.35 58.59,306.35A41.0,41.0 0 0 1 57.87,305.47Q87.92,276.04 129.21,268.01Z" fill="#90e05a" fill-opacity="0.55"/>
<path d="M129.78,270.08A41.0,41.0 0 0 1 130.16,271.76Q104.50,290.81 93.57,320.84A41.0,41.0 0 0 1 92.43,320.93Q103.48,289.90 129.78,270.08Z" fill="#90e05a" fill-opacity="0.55"/>
<path d="M130.25,272.18A41.0,41.0 0 0 1 130.54,273.87Q110.58,292.22 104.02,318.53A41.0,41.0 0 0 1 102.94,318.90Q109.59,291.44 130.25,272.18Z" fill="#9a32e0" fill-opacity="0.55"/>
<path d="M130.60,274.29A41.0,41.0 0 0 1 130.80,276.00Q118.27,291.54 116.35,311.41A41.0,41.0 0 0 1 115.47,312.13Q117.36,290.94 130.60,274.29Z" fill="#d63222" fill-opacity="0.55"/>
<path d="M130.84,276.43A41.0,41.0 0 0 1 130.96,278.14Q123.47,289.72 123.59,303.52A41.0,41.0 0 0 1 122.92,304.45Q122.68,289.25 130.84,276.43Z" fill="#90e05a" fill-opacity="0.55"/>
<path d="M130.96,278.21A41.0,41.0 0 0 1 131.00,279.93Q126.96,287.49 127.74,296.02A41.0,41.0 0 0 1 127.28,297.07Q126.29,287.09 130.96,278.21Z" fill="#5ccf5c" fill-opacity="0.55"/>
<path d="M130.96,281.79A41.0,41.0 0 0 1 130.86,283.36Q89.85,274.76 49.40,285.71A41.0,41.0 0 0 1 49.26,284.57Q89.77,273.37 130.96,281.79Z" fill="#d63222" fill-opacity="0.8"/>
<path d="M130.81,283.93A41.0,41.0 0 0 1 130.63,285.49Q90.12,280.99 51.99,295.36A41.0,41.0 0 0 1 51.57,294.29Q89.95,279.60 130.81,283.93Z" fill="#d63222" fill-opacity="0.8"/>
<path d="M130.55,286.06A41.0,41.0 0 0 1 130.29,287.61Q88.21,286.98 51.01,267.33A41.0,41.0 0 0 1 51.38,266.25Q88.59,285.65 130.55,286.06Z" fill="#d63222" fill-opacity="0.8"/>
<path d="M130.18,288.17A41.0,41.0 0 0 1 129.83,289.71Q102.68,299.41 82.88,320.38A41.0,41.0 0 0 1 81.76,320.16Q102.13,298.36 130.18,288.17Z" fill="#d63222" fill-opacity="0.8"/>
<path d="M129.78,289.92A41.0,41.0 0 0 1 129.37,291.44Q93.69,292.94 62.57,310.47A41.0,41.0 0 0 1 61.73,309.69Q93.38,291.64 129.78,289.92Z" fill="#d63222" fill-opacity="0.8"/>
<path d="M59.53,307.43A41.0,41.0 0 0 1 57.69,305.24Q92.23,289.64 130.10,288.52A41.0,41.0 0 0 1 129.60,290.61Q92.88,292.02 59.53,307.43Z" fill="#c833d8" fill-opacity="0.85"/>
<path d="M128.77,293.35A41.0,41.0 0 0 1 128.12,295.09Q98.53,298.99 75.98,318.53A41.0,41.0 0 0 1 74.77,318.07Q98.06,297.61 128.77,293.35Z" fill="#90e05a" fill-opacity="0.6"/>
<path d="M127.74,296.02A41.0,41.0 0 0 1 126.98,297.72Q94.35,296.58 66.48,313.59A41.0,41.0 0 0 1 65.44,312.83Q94.07,295.08 127.74,296.02Z" fill="#90e05a" fill-opacity="0.6"/>
<path d="M126.53,298.61A41.0,41.0 0 0 1 125.65,300.25Q89.68,287.87 52.84,297.33A41.0,41.0 0 0 1 52.32,296.15Q89.79,286.25 126.53,298.61Z" fill="#5ccf5c" fill-opacity="0.6"/>
<path d="M125.51,300.50A41.0,41.0 0 0 1 124.54,302.09Q95.91,270.29 54.49,259.50A41.0,41.0 0 0 1 55.15,258.39Q84.01,290.00 125.51,300.50Z" fill="#90e05a" fill-opacity="0.6"/>
<path d="M123.17,304.10A41.0,41.0 0 0 1 122.09,305.52Q95.63,303.93 72.67,317.16A41.0,41.0 0 0 1 71.64,316.66Q95.52,302.65 123.17,304.10Z" fill="#e3e334" fill-opacity="0.75"/>
<path d="M121.41,306.35A41.0,41.0 0 0 1 120.23,307.70Q88.77,283.17 49.00,280.00A41.0,41.0 0 0 1 49.02,278.86Q89.34,281.75 121.41,306.35Z" fill="#e3e334" fill-opacity="0.75"/>
<path d="M116.90,310.94A41.0,41.0 0 0 1 115.24,312.31Q87.63,302.53 58.59,306.35A41.0,41.0 0 0 1 57.78,305.35Q88.01,301.05 116.90,310.94Z" fill="#3a3ad8" fill-opacity="0.8"/>
<path d="M114.67,312.74A41.0,41.0 0 0 1 112.93,313.99Q96.13,275.38 63.65,248.59A41.0,41.0 0 0 1 64.65,247.78Q97.46,274.26 114.67,312.74Z" fill="#3a3ad8" fill-opacity="0.8"/>
<path d="M111.73,314.77A41.0,41.0 0 0 1 109.88,315.86Q84.25,288.86 49.16,276.43A41.0,41.0 0 0 1 49.29,275.15Q85.26,287.47 111.73,314.77Z" fill="#3a3ad8" fill-opacity="0.8"/>
<path d="M106.02,317.74A41.0,41.0 0 0 1 104.29,318.43Q80.81,299.89 51.47,294.02A41.0,41.0 0 0 1 51.05,292.81Q81.53,298.68 106.02,317.74Z" fill="#9a32e0" fill-opacity="0.8"/>
<path d="M103.35,318.77A41.0,41.0 0 0 1 101.58,319.33Q85.21,283.77 54.49,259.50A41.0,41.0 0 0 1 55.15,258.39Q86.50,282.80 103.35,318.77Z" fill="#9a32e0" fill-opacity="0.8"/>
<path d="M101.30,319.41A41.0,41.0 0 0 1 99.50,319.88Q82.59,311.34 63.65,311.41A41.0,41.0 0 0 1 62.67,310.56Q83.05,310.35 101.30,319.41Z" fill="#9a32e0" fill-opacity="0.8"/>
<path d="M96.41,320.50A41.0,41.0 0 0 1 94.57,320.74Q85.72,315.92 75.98,318.53A41.0,41.0 0 0 1 74.64,318.01Q86.02,314.90 96.41,320.50Z" fill="#90e05a" fill-opacity="0.6"/>
<path d="M94.29,320.78A41.0,41.0 0 0 1 92.43,320.93Q81.58,313.02 68.27,314.77A41.0,41.0 0 0 1 67.07,313.99Q82.04,311.94 94.29,320.78Z" fill="#90e05a" fill-opacity="0.6"/>
<path d="M92.15,320.94A41.0,41.0 0 0 1 90.29,321.00Q77.37,307.34 58.59,306.35A41.0,41.0 0 0 1 57.69,305.24Q78.06,306.20 92.15,320.94Z" fill="#90e05a" fill-opacity="0.6"/>
<path d="M90.00,321.00A41.0,41.0 0 0 1 88.14,320.96Q75.22,302.08 52.84,297.33A41.0,41.0 0 0 1 52.26,296.02Q76.13,300.96 90.00,321.00Z" fill="#90e05a" fill-opacity="0.6"/>
<path d="M85.71,320.78A41.0,41.0 0 0 1 83.94,320.55Q98.60,286.42 127.16,262.67A41.0,41.0 0 0 1 127.60,263.65Q99.80,287.19 85.71,320.78Z" fill="#d63222" fill-opacity="0.8"/>
<path d="M83.59,320.50A41.0,41.0 0 0 1 81.83,320.18Q100.43,290.70 130.38,272.88A41.0,41.0 0 0 1 130.55,273.94Q101.48,291.58 83.59,320.50Z" fill="#d63222" fill-opacity="0.8"/>
<path d="M81.13,320.03A41.0,41.0 0 0 1 79.39,319.60Q74.15,286.56 54.49,259.50A41.0,41.0 0 0 1 55.04,258.58Q75.46,286.17 81.13,320.03Z" fill="#d63222" fill-opacity="0.8"/>
<path d="M90.57,239.00A41.0,41.0 0 0 1 92.32,239.07Q76.22,254.79 54.29,259.86A41.0,41.0 0 0 1 54.72,259.11Q75.46,254.08 90.57,239.00Z" fill="#3636dc" fill-opacity="0.8"/>
<path d="M92.47,239.07A41.0,41.0 0 0 1 94.21,239.22Q77.61,253.49 56.02,257.06A41.0,41.0 0 0 1 56.50,256.36Q76.90,252.75 92.47,239.07Z" fill="#3636dc" fill-opacity="0.8"/>
<path d="M94.36,239.23A41.0,41.0 0 0 1 96.10,239.46Q77.90,256.16 53.67,260.99A41.0,41.0 0 0 1 54.08,260.24Q77.16,255.37 94.36,239.23Z" fill="#3636dc" fill-opacity="0.8"/>
<path d="M96.24,239.48A41.0,41.0 0 0 1 97.96,239.78Q78.33,261.56 50.24,269.98A41.0,41.0 0 0 1 50.46,269.15Q77.50,260.72 96.24,239.48Z" fill="#3636dc" fill-opacity="0.8"/>
<path d="M98.10,239.81A41.0,41.0 0 0 1 99.81,240.19Q79.23,262.67 49.96,271.20A41.0,41.0 0 0 1 50.15,270.36Q78.40,261.80 98.10,239.81Z" fill="#3636dc" fill-opacity="0.8"/>
<path d="M99.95,240.23A41.0,41.0 0 0 1 101.64,240.69Q80.11,263.72 49.75,272.22A41.0,41.0 0 0 1 49.92,271.38Q79.30,262.81 99.95,240.23Z" fill="#3636dc" fill-opacity="0.8"/>
<path d="M101.78,240.73A41.0,41.0 0 0 1 103.45,241.27Q81.08,265.60 49.33,274.77A41.0,41.0 0 0 1 49.45,273.92Q80.26,264.65 101.78,240.73Z" fill="#3636dc" fill-opacity="0.8"/>
<path d="M103.58,241.32A41.0,41.0 0 0 1 105.23,241.93Q82.00,266.91 49.18,276.19A41.0,41.0 0 0 1 49.27,275.33Q81.19,265.93 103.58,241.32Z" fill="#3636dc" fill-opacity="0.8"/>
<path d="M105.36,241.99A41.0,41.0 0 0 1 106.97,242.68Q83.60,270.70 49.08,282.51A41.0,41.0 0 0 1 49.03,281.65Q82.75,269.70 105.36,241.99Z" fill="#3636dc" fill-opacity="0.8"/>
<path d="M107.10,242.74A41.0,41.0 0 0 1 108.68,243.50Q85.96,274.92 50.23,289.98A41.0,41.0 0 0 1 50.03,289.15Q85.06,273.93 107.10,242.74Z" fill="#3636dc" fill-opacity="0.8"/>
<path d="M108.80,243.57A41.0,41.0 0 0 1 110.34,244.40Q85.72,273.73 49.44,286.01A41.0,41.0 0 0 1 49.33,285.16Q84.89,272.69 108.80,243.57Z" fill="#3636dc" fill-opacity="0.8"/>
<path d="M110.47,244.48A41.0,41.0 0 0 1 111.97,245.38Q89.42,279.33 52.53,296.64A41.0,41.0 0 0 1 52.19,295.85Q88.52,278.32 110.47,244.48Z" fill="#3636dc" fill-opacity="0.8"/>
<path d="M112.09,245.46A41.0,41.0 0 0 1 113.55,246.44Q89.58,279.47 51.95,295.26A41.0,41.0 0 0 1 51.63,294.46Q88.72,278.42 112.09,245.46Z" fill="#3636dc" fill-opacity="0.8"/>
<path d="M113.66,246.52A41.0,41.0 0 0 1 115.07,247.56Q90.91,281.14 52.82,297.29A41.0,41.0 0 0 1 52.47,296.50Q90.06,280.08 113.66,246.52Z" fill="#3636dc" fill-opacity="0.8"/>
<path d="M115.19,247.65A41.0,41.0 0 0 1 116.55,248.75Q94.84,285.10 57.42,304.89A41.0,41.0 0 0 1 56.91,304.20Q93.96,284.08 115.19,247.65Z" fill="#3636dc" fill-opacity="0.8"/>
<path d="M116.65,248.85A41.0,41.0 0 0 1 117.96,250.01Q96.29,286.58 58.78,306.58A41.0,41.0 0 0 1 58.23,305.92Q95.44,285.56 116.65,248.85Z" fill="#3636dc" fill-opacity="0.8"/>
<path d="M118.07,250.11A41.0,41.0 0 0 1 119.32,251.34Q96.36,287.14 58.14,305.81A41.0,41.0 0 0 1 57.61,305.14Q95.54,286.09 118.07,250.11Z" fill="#3636dc" fill-opacity="0.8"/>
<path d="M116.35,248.59A41.0,41.0 0 0 1 117.43,249.53Q107.01,278.06 123.59,303.52A41.0,41.0 0 0 1 122.74,304.67Q105.53,278.23 116.35,248.59Z" fill="#3434d8" fill-opacity="0.8"/>
<path d="M117.96,250.01A41.0,41.0 0 0 1 119.24,251.26Q105.23,282.07 110.50,315.51A41.0,41.0 0 0 1 109.25,316.20Q103.68,281.80 117.96,250.01Z" fill="#3434d8" fill-opacity="0.8"/>
<path d="M90.39,235.60A44.4,44.4 0 0 1 121.94,249.16L119.78,251.24A41.4,41.4 0 0 0 90.36,238.60Z" fill="#3a3ad8"/>
<path d="M90.36,238.60A41.4,41.4 0 0 1 91.84,238.64L91.80,239.54A40.5,40.5 0 0 0 90.35,239.50Z" fill="#c833d8"/>
<path d="M91.84,238.64A41.4,41.4 0 0 1 92.86,238.70L92.80,239.60A40.5,40.5 0 0 0 91.80,239.54Z" fill="#66a6e0"/>
<path d="M92.86,238.70A41.4,41.4 0 0 1 94.14,238.81L94.05,239.70A40.5,40.5 0 0 0 92.80,239.60Z" fill="#e8902e"/>
<path d="M94.14,238.81A41.4,41.4 0 0 1 95.88,239.02L95.75,239.91A40.5,40.5 0 0 0 94.05,239.70Z" fill="#3a3ad8"/>
<path d="M95.88,239.02A41.4,41.4 0 0 1 98.00,239.38L97.83,240.26A40.5,40.5 0 0 0 95.75,239.91Z" fill="#3a3ad8"/>
<path d="M98.00,239.38A41.4,41.4 0 0 1 99.11,239.61L98.91,240.49A40.5,40.5 0 0 0 97.83,240.26Z" fill="#3a3ad8"/>
<path d="M99.11,239.61A41.4,41.4 0 0 1 100.68,240.00L100.44,240.87A40.5,40.5 0 0 0 98.91,240.49Z" fill="#66a6e0"/>
<path d="M100.68,240.00A41.4,41.4 0 0 1 101.61,240.26L101.36,241.12A40.5,40.5 0 0 0 100.44,240.87Z" fill="#e3e334"/>
<path d="M101.61,240.26A41.4,41.4 0 0 1 103.56,240.89L103.27,241.74A40.5,40.5 0 0 0 101.36,241.12Z" fill="#3a3ad8"/>
<path d="M103.56,240.89A41.4,41.4 0 0 1 104.82,241.34L104.50,242.19A40.5,40.5 0 0 0 103.27,241.74Z" fill="#90e05a"/>
<path d="M104.82,241.34A41.4,41.4 0 0 1 105.85,241.76L105.51,242.59A40.5,40.5 0 0 0 104.50,242.19Z" fill="#5ccf5c"/>
<path d="M105.85,241.76A41.4,41.4 0 0 1 106.99,242.25L106.62,243.07A40.5,40.5 0 0 0 105.51,242.59Z" fill="#3a3ad8"/>
<path d="M106.99,242.25A41.4,41.4 0 0 1 108.93,243.18L108.52,243.98A40.5,40.5 0 0 0 106.62,243.07Z" fill="#e8902e"/>
<path d="M108.93,243.18A41.4,41.4 0 0 1 109.88,243.69L109.45,244.48A40.5,40.5 0 0 0 108.52,243.98Z" fill="#7fe3bd"/>
<path d="M109.88,243.69A41.4,41.4 0 0 1 110.84,244.23L110.39,245.00A40.5,40.5 0 0 0 109.45,244.48Z" fill="#7fe3bd"/>
<path d="M110.84,244.23A41.4,41.4 0 0 1 112.62,245.32L112.13,246.08A40.5,40.5 0 0 0 110.39,245.00Z" fill="#66a6e0"/>
<path d="M112.62,245.32A41.4,41.4 0 0 1 113.99,246.26L113.47,246.99A40.5,40.5 0 0 0 112.13,246.08Z" fill="#3a3ad8"/>
<path d="M113.99,246.26A41.4,41.4 0 0 1 115.70,247.54L115.14,248.25A40.5,40.5 0 0 0 113.47,246.99Z" fill="#3a3ad8"/>
<path d="M115.70,247.54A41.4,41.4 0 0 1 116.83,248.47L116.25,249.16A40.5,40.5 0 0 0 115.14,248.25Z" fill="#e8902e"/>
<path d="M116.83,248.47A41.4,41.4 0 0 1 118.23,249.72L117.62,250.38A40.5,40.5 0 0 0 116.25,249.16Z" fill="#e3e334"/>
<path d="M118.23,249.72A41.4,41.4 0 0 1 119.02,250.47L118.39,251.12A40.5,40.5 0 0 0 117.62,250.38Z" fill="#3a3ad8"/>
<path d="M119.02,250.47A41.4,41.4 0 0 1 119.78,251.24L119.13,251.87A40.5,40.5 0 0 0 118.39,251.12Z" fill="#d63222"/>
<path d="M123.00,250.29A44.4,44.4 0 0 1 134.40,280.00L131.40,280.00A41.4,41.4 0 0 0 120.77,252.30Z" fill="#7fe3bd"/>
<path d="M120.77,252.30A41.4,41.4 0 0 1 121.81,253.51L121.12,254.08A40.5,40.5 0 0 0 120.10,252.90Z" fill="#9a32e0"/>
<path d="M121.81,253.51A41.4,41.4 0 0 1 122.94,254.92L122.22,255.46A40.5,40.5 0 0 0 121.12,254.08Z" fill="#7fe3bd"/>
<path d="M122.94,254.92A41.4,41.4 0 0 1 124.13,256.57L123.39,257.08A40.5,40.5 0 0 0 122.22,255.46Z" fill="#e8902e"/>
<path d="M124.13,256.57A41.4,41.4 0 0 1 124.68,257.39L123.92,257.88A40.5,40.5 0 0 0 123.39,257.08Z" fill="#e8902e"/>
<path d="M124.68,257.39A41.4,41.4 0 0 1 125.18,258.18L124.42,258.65A40.5,40.5 0 0 0 123.92,257.88Z" fill="#7fe3bd"/>
<path d="M125.18,258.18A41.4,41.4 0 0 1 126.05,259.64L125.27,260.09A40.5,40.5 0 0 0 124.42,258.65Z" fill="#e8902e"/>
<path d="M126.05,259.64A41.4,41.4 0 0 1 126.71,260.86L125.91,261.28A40.5,40.5 0 0 0 125.27,260.09Z" fill="#3a3ad8"/>
<path d="M126.71,260.86A41.4,41.4 0 0 1 127.13,261.69L126.32,262.09A40.5,40.5 0 0 0 125.91,261.28Z" fill="#e3e334"/>
<path d="M127.13,261.69A41.4,41.4 0 0 1 127.75,263.00L126.93,263.37A40.5,40.5 0 0 0 126.32,262.09Z" fill="#66a6e0"/>
<path d="M127.75,263.00A41.4,41.4 0 0 1 128.12,263.85L127.29,264.20A40.5,40.5 0 0 0 126.93,263.37Z" fill="#3a3ad8"/>
<path d="M128.12,263.85A41.4,41.4 0 0 1 128.89,265.81L128.05,266.12A40.5,40.5 0 0 0 127.29,264.20Z" fill="#7fe3bd"/>
<path d="M128.89,265.81A41.4,41.4 0 0 1 129.26,266.85L128.40,267.13A40.5,40.5 0 0 0 128.05,266.12Z" fill="#d63222"/>
<path d="M129.26,266.85A41.4,41.4 0 0 1 129.76,268.47L128.90,268.72A40.5,40.5 0 0 0 128.40,267.13Z" fill="#7fe3bd"/>
<path d="M129.76,268.47A41.4,41.4 0 0 1 130.17,269.97L129.29,270.19A40.5,40.5 0 0 0 128.90,268.72Z" fill="#9a32e0"/>
<path d="M130.17,269.97A41.4,41.4 0 0 1 130.62,272.00L129.74,272.17A40.5,40.5 0 0 0 129.29,270.19Z" fill="#7fe3bd"/>
<path d="M130.62,272.00A41.4,41.4 0 0 1 130.80,272.99L129.91,273.14A40.5,40.5 0 0 0 129.74,272.17Z" fill="#d63222"/>
<path d="M130.80,272.99A41.4,41.4 0 0 1 131.11,275.11L130.22,275.22A40.5,40.5 0 0 0 129.91,273.14Z" fill="#c833d8"/>
<path d="M131.11,275.11A41.4,41.4 0 0 1 131.27,276.75L130.38,276.82A40.5,40.5 0 0 0 130.22,275.22Z" fill="#7fe3bd"/>
<path d="M131.27,276.75A41.4,41.4 0 0 1 131.35,277.89L130.45,277.94A40.5,40.5 0 0 0 130.38,276.82Z" fill="#3a3ad8"/>
<path d="M131.35,277.89A41.4,41.4 0 0 1 131.39,279.33L130.49,279.35A40.5,40.5 0 0 0 130.45,277.94Z" fill="#5ccf5c"/>
<path d="M131.39,279.33A41.4,41.4 0 0 1 131.40,280.00L130.50,280.00A40.5,40.5 0 0 0 130.49,279.35Z" fill="#40c8c8"/>
<path d="M134.37,281.55A44.4,44.4 0 0 1 132.68,292.24L129.80,291.41A41.4,41.4 0 0 0 131.37,281.44Z" fill="#d63222"/>
<path d="M131.37,281.44A41.4,41.4 0 0 1 131.27,283.31L130.37,283.24A40.5,40.5 0 0 0 130.48,281.41Z" fill="#d63222"/>
<path d="M131.27,283.31A41.4,41.4 0 0 1 131.10,284.98L130.21,284.87A40.5,40.5 0 0 0 130.37,283.24Z" fill="#d63222"/>
<path d="M131.10,284.98A41.4,41.4 0 0 1 130.98,285.85L130.09,285.73A40.5,40.5 0 0 0 130.21,284.87Z" fill="#d63222"/>
<path d="M130.98,285.85A41.4,41.4 0 0 1 130.79,287.11L129.90,286.95A40.5,40.5 0 0 0 130.09,285.73Z" fill="#e8902e"/>
<path d="M130.79,287.11A41.4,41.4 0 0 1 130.39,289.09L129.51,288.90A40.5,40.5 0 0 0 129.90,286.95Z" fill="#7fe3bd"/>
<path d="M130.39,289.09A41.4,41.4 0 0 1 130.01,290.64L129.14,290.40A40.5,40.5 0 0 0 129.51,288.90Z" fill="#c833d8"/>
<path d="M130.01,290.64A41.4,41.4 0 0 1 129.80,291.41L128.93,291.16A40.5,40.5 0 0 0 129.14,290.40Z" fill="#9a32e0"/>
<path d="M132.23,293.72A44.4,44.4 0 0 1 127.24,304.18L124.72,302.55A41.4,41.4 0 0 0 129.37,292.79Z" fill="#90e05a"/>
<path d="M129.37,292.79A41.4,41.4 0 0 1 128.75,294.57L127.91,294.25A40.5,40.5 0 0 0 128.52,292.52Z" fill="#90e05a"/>
<path d="M128.75,294.57A41.4,41.4 0 0 1 128.03,296.36L127.20,296.01A40.5,40.5 0 0 0 127.91,294.25Z" fill="#5ccf5c"/>
<path d="M128.03,296.36A41.4,41.4 0 0 1 127.61,297.31L126.79,296.93A40.5,40.5 0 0 0 127.20,296.01Z" fill="#d63222"/>
<path d="M127.61,297.31A41.4,41.4 0 0 1 127.19,298.19L126.38,297.80A40.5,40.5 0 0 0 126.79,296.93Z" fill="#7fe3bd"/>
<path d="M127.19,298.19A41.4,41.4 0 0 1 126.38,299.77L125.59,299.34A40.5,40.5 0 0 0 126.38,297.80Z" fill="#90e05a"/>
<path d="M126.38,299.77A41.4,41.4 0 0 1 125.67,301.01L124.90,300.55A40.5,40.5 0 0 0 125.59,299.34Z" fill="#40c8c8"/>
<path d="M125.67,301.01A41.4,41.4 0 0 1 124.76,302.48L124.01,301.99A40.5,40.5 0 0 0 124.90,300.55Z" fill="#90e05a"/>
<path d="M126.37,305.47A44.4,44.4 0 0 1 120.84,311.94L118.76,309.78A41.4,41.4 0 0 0 123.91,303.75Z" fill="#e3e334"/>
<path d="M123.91,303.75A41.4,41.4 0 0 1 123.36,304.52L122.64,303.98A40.5,40.5 0 0 0 123.18,303.23Z" fill="#e3e334"/>
<path d="M123.36,304.52A41.4,41.4 0 0 1 122.64,305.46L121.93,304.91A40.5,40.5 0 0 0 122.64,303.98Z" fill="#e3e334"/>
<path d="M122.64,305.46A41.4,41.4 0 0 1 121.94,306.34L121.24,305.77A40.5,40.5 0 0 0 121.93,304.91Z" fill="#90e05a"/>
<path d="M121.94,306.34A41.4,41.4 0 0 1 120.62,307.87L119.95,307.26A40.5,40.5 0 0 0 121.24,305.77Z" fill="#9a32e0"/>
<path d="M120.62,307.87A41.4,41.4 0 0 1 119.96,308.57L119.31,307.95A40.5,40.5 0 0 0 119.95,307.26Z" fill="#e3e334"/>
<path d="M119.96,308.57A41.4,41.4 0 0 1 119.07,309.48L118.44,308.84A40.5,40.5 0 0 0 119.31,307.95Z" fill="#e3e334"/>
<path d="M119.07,309.48A41.4,41.4 0 0 1 118.76,309.78L118.13,309.13A40.5,40.5 0 0 0 118.44,308.84Z" fill="#3a3ad8"/>
<path d="M119.71,313.00A44.4,44.4 0 0 1 109.46,319.91L108.15,317.21A41.4,41.4 0 0 0 117.70,310.77Z" fill="#3a3ad8"/>
<path d="M117.70,310.77A41.4,41.4 0 0 1 116.16,312.09L115.59,311.39A40.5,40.5 0 0 0 117.10,310.10Z" fill="#66a6e0"/>
<path d="M116.16,312.09A41.4,41.4 0 0 1 114.51,313.37L113.97,312.64A40.5,40.5 0 0 0 115.59,311.39Z" fill="#c833d8"/>
<path d="M114.51,313.37A41.4,41.4 0 0 1 113.19,314.30L112.68,313.55A40.5,40.5 0 0 0 113.97,312.64Z" fill="#e8902e"/>
<path d="M113.19,314.30A41.4,41.4 0 0 1 112.31,314.88L111.82,314.12A40.5,40.5 0 0 0 112.68,313.55Z" fill="#3a3ad8"/>
<path d="M112.31,314.88A41.4,41.4 0 0 1 110.84,315.77L110.39,315.00A40.5,40.5 0 0 0 111.82,314.12Z" fill="#3a3ad8"/>
<path d="M110.84,315.77A41.4,41.4 0 0 1 109.25,316.65L108.83,315.85A40.5,40.5 0 0 0 110.39,315.00Z" fill="#3a3ad8"/>
<path d="M109.25,316.65A41.4,41.4 0 0 1 108.15,317.21L107.75,316.40A40.5,40.5 0 0 0 108.83,315.85Z" fill="#9a32e0"/>
<path d="M108.06,320.56A44.4,44.4 0 0 1 99.23,323.43L98.61,320.50A41.4,41.4 0 0 0 106.84,317.82Z" fill="#9a32e0"/>
<path d="M106.84,317.82A41.4,41.4 0 0 1 105.06,318.56L104.74,317.72A40.5,40.5 0 0 0 106.47,317.00Z" fill="#e3e334"/>
<path d="M105.06,318.56A41.4,41.4 0 0 1 103.57,319.11L103.27,318.26A40.5,40.5 0 0 0 104.74,317.72Z" fill="#5ccf5c"/>
<path d="M103.57,319.11A41.4,41.4 0 0 1 102.66,319.42L102.39,318.56A40.5,40.5 0 0 0 103.27,318.26Z" fill="#c833d8"/>
<path d="M102.66,319.42A41.4,41.4 0 0 1 101.66,319.72L101.41,318.86A40.5,40.5 0 0 0 102.39,318.56Z" fill="#e8902e"/>
<path d="M101.66,319.72A41.4,41.4 0 0 1 99.98,320.18L99.76,319.31A40.5,40.5 0 0 0 101.41,318.86Z" fill="#90e05a"/>
<path d="M99.98,320.18A41.4,41.4 0 0 1 99.09,320.39L98.89,319.51A40.5,40.5 0 0 0 99.76,319.31Z" fill="#d63222"/>
<path d="M99.09,320.39A41.4,41.4 0 0 1 98.61,320.50L98.42,319.61A40.5,40.5 0 0 0 98.89,319.51Z" fill="#d63222"/>
<path d="M97.71,323.73A44.4,44.4 0 0 1 87.68,324.34L87.83,321.34A41.4,41.4 0 0 0 97.19,320.77Z" fill="#90e05a"/>
<path d="M97.19,320.77A41.4,41.4 0 0 1 96.30,320.92L96.16,320.03A40.5,40.5 0 0 0 97.03,319.88Z" fill="#9a32e0"/>
<path d="M96.30,320.92A41.4,41.4 0 0 1 95.37,321.05L95.26,320.16A40.5,40.5 0 0 0 96.16,320.03Z" fill="#c833d8"/>
<path d="M95.37,321.05A41.4,41.4 0 0 1 93.44,321.26L93.37,320.36A40.5,40.5 0 0 0 95.26,320.16Z" fill="#e3e334"/>
<path d="M93.44,321.26A41.4,41.4 0 0 1 91.46,321.37L91.43,320.47A40.5,40.5 0 0 0 93.37,320.36Z" fill="#40c8c8"/>
<path d="M91.46,321.37A41.4,41.4 0 0 1 90.57,321.40L90.56,320.50A40.5,40.5 0 0 0 91.43,320.47Z" fill="#d63222"/>
<path d="M90.57,321.40A41.4,41.4 0 0 1 89.15,321.39L89.17,320.49A40.5,40.5 0 0 0 90.56,320.50Z" fill="#5ccf5c"/>
<path d="M89.15,321.39A41.4,41.4 0 0 1 88.02,321.35L88.06,320.45A40.5,40.5 0 0 0 89.17,320.49Z" fill="#5ccf5c"/>
<path d="M86.13,324.23A44.4,44.4 0 0 1 77.76,322.68L78.59,319.80A41.4,41.4 0 0 0 86.39,321.24Z" fill="#d63222"/>
<path d="M86.39,321.24A41.4,41.4 0 0 1 85.51,321.16L85.61,320.26A40.5,40.5 0 0 0 86.47,320.35Z" fill="#40c8c8"/>
<path d="M85.51,321.16A41.4,41.4 0 0 1 83.85,320.94L83.99,320.05A40.5,40.5 0 0 0 85.61,320.26Z" fill="#c833d8"/>
<path d="M83.85,320.94A41.4,41.4 0 0 1 82.07,320.63L82.24,319.75A40.5,40.5 0 0 0 83.99,320.05Z" fill="#9a32e0"/>
<path d="M82.07,320.63A41.4,41.4 0 0 1 80.88,320.38L81.08,319.50A40.5,40.5 0 0 0 82.24,319.75Z" fill="#40c8c8"/>
<path d="M80.88,320.38A41.4,41.4 0 0 1 79.82,320.13L80.04,319.26A40.5,40.5 0 0 0 81.08,319.50Z" fill="#d63222"/>
<path d="M79.82,320.13A41.4,41.4 0 0 1 78.80,319.86L79.04,318.99A40.5,40.5 0 0 0 80.04,319.26Z" fill="#d63222"/>
<path d="M76.28,322.23A44.4,44.4 0 0 1 70.54,319.91L71.85,317.21A41.4,41.4 0 0 0 77.21,319.37Z" fill="#90e05a"/>
<path d="M69.16,319.20A44.4,44.4 0 0 1 64.53,316.37L66.25,313.91A41.4,41.4 0 0 0 70.56,316.55Z" fill="#b8e040"/>
<path d="M63.28,315.46A44.4,44.4 0 0 1 58.60,311.40L60.73,309.27A41.4,41.4 0 0 0 65.08,313.06Z" fill="#3a3ad8"/>
<path d="M57.53,310.28A44.4,44.4 0 0 1 53.63,305.47L56.09,303.75A41.4,41.4 0 0 0 59.72,308.23Z" fill="#c833d8"/>
<path d="M52.76,304.18A44.4,44.4 0 0 1 51.08,301.37L53.71,299.92A41.4,41.4 0 0 0 55.28,302.55Z" fill="#5ccf5c"/>
<path d="M50.71,300.68A44.4,44.4 0 0 1 49.25,297.62L52.00,296.43A41.4,41.4 0 0 0 53.37,299.29Z" fill="#3a3ad8"/>
<path d="M48.95,296.91A44.4,44.4 0 0 1 47.65,293.34L50.51,292.44A41.4,41.4 0 0 0 51.72,295.76Z" fill="#90e05a"/>
<path d="M47.43,292.60A44.4,44.4 0 0 1 46.61,289.41L49.54,288.78A41.4,41.4 0 0 0 50.30,291.75Z" fill="#e8902e"/>
<path d="M46.45,288.65A44.4,44.4 0 0 1 45.92,285.35L48.90,284.99A41.4,41.4 0 0 0 49.39,288.07Z" fill="#d63222"/>
<path d="M45.84,284.58A44.4,44.4 0 0 1 45.62,281.17L48.61,281.09A41.4,41.4 0 0 0 48.82,284.27Z" fill="#e3e334"/>
<path d="M45.60,280.39A44.4,44.4 0 0 1 45.68,277.40L48.67,277.58A41.4,41.4 0 0 0 48.60,280.36Z" fill="#e8902e"/>
<path d="M45.73,276.63A44.4,44.4 0 0 1 46.11,273.31L49.07,273.76A41.4,41.4 0 0 0 48.72,276.86Z" fill="#5ccf5c"/>
<path d="M46.23,272.54A44.4,44.4 0 0 1 46.95,269.14L49.86,269.88A41.4,41.4 0 0 0 49.19,273.04Z" fill="#b8e040"/>
<path d="M47.14,268.39A44.4,44.4 0 0 1 48.24,264.91L51.06,265.93A41.4,41.4 0 0 0 50.04,269.18Z" fill="#5ccf5c"/>
<path d="M48.51,264.19A44.4,44.4 0 0 1 49.63,261.52L52.36,262.77A41.4,41.4 0 0 0 51.31,265.26Z" fill="#7fe3bd"/>
<path d="M49.96,260.82A44.4,44.4 0 0 1 51.40,258.06L54.01,259.54A41.4,41.4 0 0 0 52.66,262.11Z" fill="#e8902e"/>
<path d="M51.79,257.39A44.4,44.4 0 0 1 53.34,254.95L55.82,256.64A41.4,41.4 0 0 0 54.37,258.91Z" fill="#3a3ad8"/>
<path d="M53.78,254.31A44.4,44.4 0 0 1 56.03,251.41L58.32,253.34A41.4,41.4 0 0 0 56.23,256.05Z" fill="#40c8c8"/>
<path d="M56.53,250.82A44.4,44.4 0 0 1 58.60,248.60L60.73,250.73A41.4,41.4 0 0 0 58.79,252.80Z" fill="#5ccf5c"/>
<path d="M59.16,248.06A44.4,44.4 0 0 1 60.08,247.20L62.10,249.41A41.4,41.4 0 0 0 61.24,250.22Z" fill="#3a3ad8"/>
<path d="M60.60,246.73A44.4,44.4 0 0 1 62.01,245.53L63.90,247.86A41.4,41.4 0 0 0 62.59,248.98Z" fill="#9a32e0"/>
<path d="M62.55,245.10A44.4,44.4 0 0 1 64.02,243.99L65.78,246.43A41.4,41.4 0 0 0 64.41,247.46Z" fill="#7fe3bd"/>
<path d="M64.59,243.59A44.4,44.4 0 0 1 65.96,242.67L67.58,245.19A41.4,41.4 0 0 0 66.31,246.05Z" fill="#40c8c8"/>
<path d="M66.55,242.30A44.4,44.4 0 0 1 67.94,241.47L69.43,244.07A41.4,41.4 0 0 0 68.13,244.85Z" fill="#3a3ad8"/>
<path d="M68.55,241.13A44.4,44.4 0 0 1 69.73,240.50L71.10,243.17A41.4,41.4 0 0 0 70.00,243.75Z" fill="#e3e334"/>
<path d="M70.35,240.18A44.4,44.4 0 0 1 71.48,239.65L72.73,242.37A41.4,41.4 0 0 0 71.68,242.88Z" fill="#e8902e"/>
<path d="M72.11,239.36A44.4,44.4 0 0 1 73.56,238.76L74.67,241.54A41.4,41.4 0 0 0 73.32,242.11Z" fill="#9a32e0"/>
<path d="M74.21,238.50A44.4,44.4 0 0 1 75.41,238.07L76.40,240.90A41.4,41.4 0 0 0 75.28,241.31Z" fill="#c833d8"/>
<path d="M76.07,237.84A44.4,44.4 0 0 1 77.37,237.44L78.22,240.31A41.4,41.4 0 0 0 77.01,240.69Z" fill="#3a3ad8"/>
<path d="M78.04,237.24A44.4,44.4 0 0 1 79.38,236.89L80.10,239.80A41.4,41.4 0 0 0 78.84,240.13Z" fill="#66a6e0"/>
<path d="M80.06,236.73A44.4,44.4 0 0 1 81.29,236.46L81.88,239.40A41.4,41.4 0 0 0 80.73,239.65Z" fill="#e8902e"/>
<path d="M81.97,236.33A44.4,44.4 0 0 1 83.48,236.08L83.92,239.05A41.4,41.4 0 0 0 82.52,239.28Z" fill="#e3e334"/>
<path d="M84.17,235.98A44.4,44.4 0 0 1 85.67,235.81L85.97,238.80A41.4,41.4 0 0 0 84.56,238.96Z" fill="#9a32e0"/>
<path d="M86.37,235.75A44.4,44.4 0 0 1 88.13,235.64L88.25,238.64A41.4,41.4 0 0 0 86.61,238.74Z" fill="#3a3ad8"/>
<path d="M88.82,235.62A44.4,44.4 0 0 1 89.61,235.60L89.64,238.60A41.4,41.4 0 0 0 88.90,238.61Z" fill="#7fe3bd"/>
<path d="M210.83,278.13A53.5,53.5 0 0 1 210.94,276.12L212.34,276.23A52.1,52.1 0 0 0 212.23,278.18Z" fill="#9a32e0"/>
<path d="M210.97,275.80A53.5,53.5 0 0 1 211.13,274.05L212.52,274.21A52.1,52.1 0 0 0 212.36,275.91Z" fill="#90e05a"/>
<path d="M211.17,273.73A53.5,53.5 0 0 1 211.35,272.37L212.73,272.57A52.1,52.1 0 0 0 212.56,273.89Z" fill="#c833d8"/>
<path d="M211.40,272.04A53.5,53.5 0 0 1 211.71,270.17L213.09,270.42A52.1,52.1 0 0 0 212.78,272.25Z" fill="#e8902e"/>
<path d="M211.77,269.85A53.5,53.5 0 0 1 212.22,267.74L213.59,268.06A52.1,52.1 0 0 0 213.15,270.11Z" fill="#3a3ad8"/>
<path d="M212.30,267.42A53.5,53.5 0 0 1 212.71,265.82L214.06,266.19A52.1,52.1 0 0 0 213.66,267.75Z" fill="#3a3ad8"/>
<path d="M212.80,265.50A53.5,53.5 0 0 1 213.25,263.99L214.59,264.41A52.1,52.1 0 0 0 214.15,265.88Z" fill="#7fe3bd"/>
<path d="M213.35,263.68A53.5,53.5 0 0 1 213.98,261.83L215.30,262.30A52.1,52.1 0 0 0 214.68,264.11Z" fill="#e3e334"/>
<path d="M214.09,261.52A53.5,53.5 0 0 1 214.86,259.56L216.15,260.09A52.1,52.1 0 0 0 215.41,262.00Z" fill="#d63222"/>
<path d="M214.99,259.25A53.5,53.5 0 0 1 215.76,257.50L217.03,258.09A52.1,52.1 0 0 0 216.28,259.80Z" fill="#7fe3bd"/>
<path d="M215.90,257.20A53.5,53.5 0 0 1 216.70,255.57L217.95,256.21A52.1,52.1 0 0 0 217.17,257.80Z" fill="#3a3ad8"/>
<path d="M216.85,255.28A53.5,53.5 0 0 1 217.82,253.51L219.04,254.20A52.1,52.1 0 0 0 218.09,255.93Z" fill="#90e05a"/>
<path d="M217.98,253.22A53.5,53.5 0 0 1 218.96,251.59L220.15,252.34A52.1,52.1 0 0 0 219.19,253.92Z" fill="#3a3ad8"/>
<path d="M219.14,251.32A53.5,53.5 0 0 1 220.20,249.72L221.35,250.51A52.1,52.1 0 0 0 220.32,252.07Z" fill="#e3e334"/>
<path d="M220.38,249.45A53.5,53.5 0 0 1 221.33,248.13L222.46,248.96A52.1,52.1 0 0 0 221.53,250.25Z" fill="#9a32e0"/>
<path d="M221.53,247.86A53.5,53.5 0 0 1 222.54,246.56L223.63,247.44A52.1,52.1 0 0 0 222.65,248.70Z" fill="#e3e334"/>
<path d="M222.74,246.31A53.5,53.5 0 0 1 224.04,244.76L225.10,245.68A52.1,52.1 0 0 0 223.83,247.19Z" fill="#e8902e"/>
<path d="M224.26,244.52A53.5,53.5 0 0 1 225.57,243.09L226.58,244.06A52.1,52.1 0 0 0 225.31,245.44Z" fill="#7fe3bd"/>
<path d="M225.79,242.86A53.5,53.5 0 0 1 227.16,241.49L228.13,242.50A52.1,52.1 0 0 0 226.80,243.83Z" fill="#90e05a"/>
<path d="M227.40,241.26A53.5,53.5 0 0 1 228.44,240.29L229.38,241.33A52.1,52.1 0 0 0 228.36,242.28Z" fill="#3a3ad8"/>
<path d="M228.69,240.08A53.5,53.5 0 0 1 230.08,238.88L230.98,239.95A52.1,52.1 0 0 0 229.62,241.12Z" fill="#7fe3bd"/>
<path d="M230.33,238.67A53.5,53.5 0 0 1 231.93,237.40L232.78,238.52A52.1,52.1 0 0 0 231.22,239.75Z" fill="#5ccf5c"/>
<path d="M232.19,237.20A53.5,53.5 0 0 1 233.61,236.18L234.42,237.32A52.1,52.1 0 0 0 233.03,238.32Z" fill="#7fe3bd"/>
<path d="M233.88,235.99A53.5,53.5 0 0 1 235.36,235.00L236.12,236.18A52.1,52.1 0 0 0 234.68,237.14Z" fill="#9a32e0"/>
<path d="M235.64,234.83A53.5,53.5 0 0 1 237.48,233.71L238.18,234.92A52.1,52.1 0 0 0 236.39,236.01Z" fill="#d63222"/>
<path d="M237.77,233.54A53.5,53.5 0 0 1 239.67,232.51L240.31,233.75A52.1,52.1 0 0 0 238.46,234.76Z" fill="#3a3ad8"/>
<path d="M239.96,232.36A53.5,53.5 0 0 1 241.64,231.53L242.24,232.80A52.1,52.1 0 0 0 240.59,233.61Z" fill="#7fe3bd"/>
<path d="M241.94,231.40A53.5,53.5 0 0 1 243.63,230.65L244.17,231.94A52.1,52.1 0 0 0 242.52,232.67Z" fill="#90e05a"/>
<path d="M243.94,230.53A53.5,53.5 0 0 1 245.47,229.92L245.96,231.24A52.1,52.1 0 0 0 244.47,231.82Z" fill="#9a32e0"/>
<path d="M245.77,229.81A53.5,53.5 0 0 1 247.11,229.34L247.56,230.66A52.1,52.1 0 0 0 246.26,231.12Z" fill="#9a32e0"/>
<path d="M247.42,229.23A53.5,53.5 0 0 1 249.12,228.70L249.52,230.04A52.1,52.1 0 0 0 247.86,230.56Z" fill="#9a32e0"/>
<path d="M249.44,228.61A53.5,53.5 0 0 1 251.23,228.12L251.57,229.48A52.1,52.1 0 0 0 249.83,229.95Z" fill="#90e05a"/>
<path d="M251.55,228.04A53.5,53.5 0 0 1 253.11,227.68L253.41,229.05A52.1,52.1 0 0 0 251.88,229.40Z" fill="#7fe3bd"/>
<path d="M253.43,227.62A53.5,53.5 0 0 1 255.07,227.30L255.31,228.68A52.1,52.1 0 0 0 253.72,228.99Z" fill="#7fe3bd"/>
<path d="M255.39,227.25A53.5,53.5 0 0 1 256.83,227.02L257.03,228.41A52.1,52.1 0 0 0 255.62,228.63Z" fill="#7fe3bd"/>
<path d="M257.16,226.98A53.5,53.5 0 0 1 259.19,226.74L259.32,228.14A52.1,52.1 0 0 0 257.34,228.37Z" fill="#3a3ad8"/>
<path d="M259.51,226.71A53.5,53.5 0 0 1 261.29,226.58L261.37,227.98A52.1,52.1 0 0 0 259.64,228.11Z" fill="#7fe3bd"/>
<path d="M261.62,226.57A53.5,53.5 0 0 1 263.62,226.50L263.63,227.90A52.1,52.1 0 0 0 261.69,227.97Z" fill="#3a3ad8"/>
<path d="M264.30,226.50A53.5,53.5 0 0 1 294.22,235.65L293.43,236.81A52.1,52.1 0 0 0 264.30,227.90Z" fill="#a030e0"/>
<path d="M294.60,235.91A53.5,53.5 0 0 1 306.46,247.06L305.36,247.92A52.1,52.1 0 0 0 293.81,237.06Z" fill="#70e0a0"/>
<path d="M306.74,247.43A53.5,53.5 0 0 1 312.39,256.55L311.13,257.16A52.1,52.1 0 0 0 305.63,248.28Z" fill="#d63222"/>
<path d="M312.59,256.97A53.5,53.5 0 0 1 315.18,263.47L313.85,263.90A52.1,52.1 0 0 0 311.32,257.57Z" fill="#3030d8"/>
<path d="M315.32,263.91A53.5,53.5 0 0 1 316.63,268.88L315.26,269.17A52.1,52.1 0 0 0 313.99,264.33Z" fill="#7fe3bd"/>
<path d="M316.73,269.33A53.5,53.5 0 0 1 317.51,285.59L316.11,285.45A52.1,52.1 0 0 0 315.35,269.61Z" fill="#a030e0"/>
<path d="M317.46,286.06A53.5,53.5 0 0 1 316.99,289.29L315.61,289.05A52.1,52.1 0 0 0 316.07,285.90Z" fill="#7fe3bd"/>
<path d="M316.90,289.75A53.5,53.5 0 0 1 316.21,292.94L314.85,292.60A52.1,52.1 0 0 0 315.53,289.49Z" fill="#d63222"/>
<path d="M316.10,293.40A53.5,53.5 0 0 1 291.05,326.33L290.35,325.12A52.1,52.1 0 0 0 314.74,293.04Z" fill="#a030e0"/>
<path d="M291.05,326.33A53.5,53.5 0 0 1 289.40,327.25L288.74,326.01A52.1,52.1 0 0 0 290.35,325.12Z" fill="#d63222"/>
<path d="M289.11,327.40A53.5,53.5 0 0 1 287.23,328.34L286.63,327.07A52.1,52.1 0 0 0 288.46,326.16Z" fill="#3a3ad8"/>
<path d="M286.93,328.48A53.5,53.5 0 0 1 285.23,329.24L284.68,327.95A52.1,52.1 0 0 0 286.34,327.21Z" fill="#5ccf5c"/>
<path d="M284.93,329.36A53.5,53.5 0 0 1 283.38,329.98L282.88,328.67A52.1,52.1 0 0 0 284.39,328.07Z" fill="#e3e334"/>
<path d="M283.08,330.10A53.5,53.5 0 0 1 281.58,330.63L281.13,329.31A52.1,52.1 0 0 0 282.59,328.79Z" fill="#9a32e0"/>
<path d="M281.27,330.74A53.5,53.5 0 0 1 279.19,331.39L278.80,330.04A52.1,52.1 0 0 0 280.83,329.41Z" fill="#3a3ad8"/>
<path d="M278.87,331.48A53.5,53.5 0 0 1 277.42,331.87L277.08,330.51A52.1,52.1 0 0 0 278.49,330.13Z" fill="#3a3ad8"/>
<path d="M277.11,331.94A53.5,53.5 0 0 1 275.18,332.38L274.90,331.01A52.1,52.1 0 0 0 276.77,330.59Z" fill="#e3e334"/>
<path d="M274.86,332.45A53.5,53.5 0 0 1 273.46,332.71L273.22,331.33A52.1,52.1 0 0 0 274.59,331.07Z" fill="#e8902e"/>
<path d="M273.14,332.76A53.5,53.5 0 0 1 271.61,333.00L271.42,331.61A52.1,52.1 0 0 0 272.91,331.38Z" fill="#9a32e0"/>
<path d="M271.28,333.04A53.5,53.5 0 0 1 269.20,333.27L269.07,331.88A52.1,52.1 0 0 0 271.10,331.65Z" fill="#9a32e0"/>
<path d="M268.88,333.30A53.5,53.5 0 0 1 266.81,333.44L266.74,332.04A52.1,52.1 0 0 0 268.76,331.91Z" fill="#e8902e"/>
<path d="M266.48,333.46A53.5,53.5 0 0 1 264.76,333.50L264.75,332.10A52.1,52.1 0 0 0 266.42,332.06Z" fill="#e3e334"/>
<path d="M264.43,333.50A53.5,53.5 0 0 1 262.42,333.47L262.47,332.07A52.1,52.1 0 0 0 264.43,332.10Z" fill="#d63222"/>
<path d="M262.09,333.45A53.5,53.5 0 0 1 260.39,333.36L260.49,331.96A52.1,52.1 0 0 0 262.15,332.06Z" fill="#90e05a"/>
<path d="M260.07,333.33A53.5,53.5 0 0 1 258.14,333.14L258.30,331.75A52.1,52.1 0 0 0 260.18,331.94Z" fill="#e3e334"/>
<path d="M257.81,333.11A53.5,53.5 0 0 1 255.70,332.80L255.93,331.42A52.1,52.1 0 0 0 257.98,331.72Z" fill="#7fe3bd"/>
<path d="M255.38,332.75A53.5,53.5 0 0 1 253.44,332.39L253.72,331.02A52.1,52.1 0 0 0 255.61,331.37Z" fill="#90e05a"/>
<path d="M253.12,332.32A53.5,53.5 0 0 1 251.44,331.93L251.78,330.57A52.1,52.1 0 0 0 253.41,330.95Z" fill="#3a3ad8"/>
<path d="M251.12,331.85A53.5,53.5 0 0 1 249.19,331.32L249.59,329.98A52.1,52.1 0 0 0 251.47,330.50Z" fill="#c833d8"/>
<path d="M248.88,331.23A53.5,53.5 0 0 1 247.58,330.82L248.02,329.49A52.1,52.1 0 0 0 249.28,329.89Z" fill="#d63222"/>
<path d="M247.27,330.72A53.5,53.5 0 0 1 245.90,330.24L246.39,328.92A52.1,52.1 0 0 0 247.72,329.39Z" fill="#3a3ad8"/>
<path d="M245.60,330.12A53.5,53.5 0 0 1 243.72,329.38L244.26,328.09A52.1,52.1 0 0 0 246.09,328.81Z" fill="#7fe3bd"/>
<path d="M243.42,329.26A53.5,53.5 0 0 1 241.99,328.63L242.58,327.35A52.1,52.1 0 0 0 243.97,327.97Z" fill="#e8902e"/>
<path d="M241.69,328.49A53.5,53.5 0 0 1 240.24,327.78L240.87,326.53A52.1,52.1 0 0 0 242.29,327.22Z" fill="#d63222"/>
<path d="M239.94,327.63A53.5,53.5 0 0 1 238.57,326.90L239.24,325.68A52.1,52.1 0 0 0 240.58,326.39Z" fill="#e3e334"/>
<path d="M238.28,326.75A53.5,53.5 0 0 1 236.45,325.68L237.18,324.48A52.1,52.1 0 0 0 238.96,325.52Z" fill="#e3e334"/>
<path d="M236.17,325.51A53.5,53.5 0 0 1 234.60,324.50L235.38,323.34A52.1,52.1 0 0 0 236.90,324.32Z" fill="#90e05a"/>
<path d="M234.33,324.32A53.5,53.5 0 0 1 232.82,323.26L233.64,322.12A52.1,52.1 0 0 0 235.12,323.16Z" fill="#9a32e0"/>
<path d="M232.55,323.06A53.5,53.5 0 0 1 231.17,322.00L232.03,320.90A52.1,52.1 0 0 0 233.38,321.94Z" fill="#c833d8"/>
<path d="M230.91,321.80A53.5,53.5 0 0 1 229.41,320.56L230.32,319.49A52.1,52.1 0 0 0 231.78,320.71Z" fill="#e8902e"/>
<path d="M229.16,320.34A53.5,53.5 0 0 1 227.97,319.27L228.92,318.24A52.1,52.1 0 0 0 230.08,319.29Z" fill="#e8902e"/>
<path d="M227.73,319.05A53.5,53.5 0 0 1 226.57,317.93L227.55,316.93A52.1,52.1 0 0 0 228.69,318.03Z" fill="#9a32e0"/>
<path d="M226.34,317.70A53.5,53.5 0 0 1 225.31,316.63L226.33,315.67A52.1,52.1 0 0 0 227.33,316.71Z" fill="#3a3ad8"/>
<path d="M225.08,316.39A53.5,53.5 0 0 1 223.97,315.16L225.03,314.24A52.1,52.1 0 0 0 226.11,315.44Z" fill="#3a3ad8"/>
<path d="M223.76,314.91A53.5,53.5 0 0 1 222.75,313.71L223.84,312.82A52.1,52.1 0 0 0 224.82,314.00Z" fill="#9a32e0"/>
<path d="M222.55,313.45A53.5,53.5 0 0 1 221.52,312.13L222.64,311.28A52.1,52.1 0 0 0 223.64,312.58Z" fill="#e8902e"/>
<path d="M221.32,311.86A53.5,53.5 0 0 1 220.19,310.27L221.34,309.48A52.1,52.1 0 0 0 222.45,311.03Z" fill="#c833d8"/>
<path d="M220.00,310.00A53.5,53.5 0 0 1 218.84,308.21L220.03,307.47A52.1,52.1 0 0 0 221.16,309.21Z" fill="#90e05a"/>
<path d="M218.67,307.93A53.5,53.5 0 0 1 217.75,306.37L218.97,305.68A52.1,52.1 0 0 0 219.87,307.20Z" fill="#3a3ad8"/>
<path d="M217.59,306.08A53.5,53.5 0 0 1 216.77,304.57L218.02,303.92A52.1,52.1 0 0 0 218.81,305.40Z" fill="#3a3ad8"/>
<path d="M216.63,304.28A53.5,53.5 0 0 1 215.96,302.93L217.23,302.33A52.1,52.1 0 0 0 217.87,303.64Z" fill="#3a3ad8"/>
<path d="M215.83,302.64A53.5,53.5 0 0 1 215.01,300.81L216.30,300.27A52.1,52.1 0 0 0 217.09,302.04Z" fill="#9a32e0"/>
<path d="M214.89,300.51A53.5,53.5 0 0 1 214.19,298.73L215.50,298.24A52.1,52.1 0 0 0 216.18,299.98Z" fill="#5ccf5c"/>
<path d="M214.07,298.42A53.5,53.5 0 0 1 213.53,296.87L214.86,296.42A52.1,52.1 0 0 0 215.39,297.94Z" fill="#e8902e"/>
<path d="M213.43,296.56A53.5,53.5 0 0 1 212.83,294.58L214.17,294.20A52.1,52.1 0 0 0 214.76,296.12Z" fill="#3a3ad8"/>
<path d="M212.74,294.27A53.5,53.5 0 0 1 212.21,292.22L213.58,291.90A52.1,52.1 0 0 0 214.09,293.89Z" fill="#c833d8"/>
<path d="M212.14,291.90A53.5,53.5 0 0 1 211.71,289.80L213.08,289.55A52.1,52.1 0 0 0 213.50,291.59Z" fill="#3a3ad8"/>
<path d="M211.65,289.48A53.5,53.5 0 0 1 211.42,288.14L212.81,287.93A52.1,52.1 0 0 0 213.02,289.23Z" fill="#d63222"/>
<path d="M211.37,287.82A53.5,53.5 0 0 1 211.15,286.08L212.54,285.92A52.1,52.1 0 0 0 212.76,287.61Z" fill="#e8902e"/>
<path d="M211.11,285.75A53.5,53.5 0 0 1 210.97,284.22L212.36,284.11A52.1,52.1 0 0 0 212.50,285.60Z" fill="#5ccf5c"/>
<path d="M210.94,283.89A53.5,53.5 0 0 1 210.85,282.25L212.25,282.19A52.1,52.1 0 0 0 212.34,283.79Z" fill="#c833d8"/>
<path d="M210.83,281.92A53.5,53.5 0 0 1 210.80,280.00L212.20,280.00A52.1,52.1 0 0 0 212.23,281.87Z" fill="#7fe3bd"/>
<path d="M210.80,279.68A53.5,53.5 0 0 1 210.83,278.13L212.23,278.18A52.1,52.1 0 0 0 212.20,279.69Z" fill="#c833d8"/>
<text transform="translate(207.41,274.02) rotate(366.0)" font-size="2.8" text-anchor="end" dy="0.9" fill="#404040" textLength="3.2" lengthAdjust="spacingAndGlyphs">GG</text>
<text transform="translate(208.15,269.09) rotate(371.0)" font-size="2.8" text-anchor="end" dy="0.9" fill="#404040" textLength="3.2" lengthAdjust="spacingAndGlyphs">76</text>
<text transform="translate(209.32,264.23) rotate(376.0)" font-size="2.8" text-anchor="end" dy="0.9" fill="#404040" textLength="5.9" lengthAdjust="spacingAndGlyphs">EBI</text>
<text transform="translate(210.90,259.50) rotate(381.0)" font-size="2.8" text-anchor="end" dy="0.9" fill="#404040" textLength="5.5" lengthAdjust="spacingAndGlyphs">FLT</text>
<text transform="translate(212.89,254.93) rotate(386.0)" font-size="2.8" text-anchor="end" dy="0.9" fill="#404040" textLength="6.6" lengthAdjust="spacingAndGlyphs">58BI</text>
<text transform="translate(215.27,250.54) rotate(391.0)" font-size="2.8" text-anchor="end" dy="0.9" fill="#404040" textLength="6.3" lengthAdjust="spacingAndGlyphs">N575</text>
<text transform="translate(218.02,246.38) rotate(396.0)" font-size="2.8" text-anchor="end" dy="0.9" fill="#404040" textLength="4.8" lengthAdjust="spacingAndGlyphs">U7E</text>
<text transform="translate(221.13,242.47) rotate(401.0)" font-size="2.8" text-anchor="end" dy="0.9" fill="#404040" textLength="6.3" lengthAdjust="spacingAndGlyphs">V0V0</text>
<text transform="translate(224.57,238.85) rotate(406.0)" font-size="2.8" text-anchor="end" dy="0.9" fill="#404040" textLength="6.8" lengthAdjust="spacingAndGlyphs">F9UU</text>
<text transform="translate(228.30,235.55) rotate(411.0)" font-size="2.8" text-anchor="end" dy="0.9" fill="#404040" textLength="4.1" lengthAdjust="spacingAndGlyphs">74</text>
<text transform="translate(232.31,232.58) rotate(416.0)" font-size="2.8" text-anchor="end" dy="0.9" fill="#404040" textLength="4.8" lengthAdjust="spacingAndGlyphs">0CF</text>
<text transform="translate(236.57,229.97) rotate(421.0)" font-size="2.8" text-anchor="end" dy="0.9" fill="#404040" textLength="4.0" lengthAdjust="spacingAndGlyphs">SC</text>
<text transform="translate(241.03,227.75) rotate(426.0)" font-size="2.8" text-anchor="end" dy="0.9" fill="#404040" textLength="6.0" lengthAdjust="spacingAndGlyphs">Y0C</text>
<text transform="translate(245.68,225.92) rotate(431.0)" font-size="2.8" text-anchor="end" dy="0.9" fill="#404040" textLength="3.2" lengthAdjust="spacingAndGlyphs">P4</text>
<text transform="translate(250.46,224.50) rotate(436.0)" font-size="2.8" text-anchor="end" dy="0.9" fill="#404040" textLength="4.4" lengthAdjust="spacingAndGlyphs">ELH</text>
<text transform="translate(255.35,223.50) rotate(441.0)" font-size="2.8" text-anchor="end" dy="0.9" fill="#404040" textLength="4.6" lengthAdjust="spacingAndGlyphs">I68</text>
<text transform="translate(260.31,222.94) rotate(446.0)" font-size="2.8" text-anchor="end" dy="0.9" fill="#404040" textLength="5.6" lengthAdjust="spacingAndGlyphs">IEZ</text>
<text transform="translate(252.41,335.95) rotate(282.0)" font-size="2.8" text-anchor="end" dy="0.9" fill="#404040" textLength="5.1" lengthAdjust="spacingAndGlyphs">BMK</text>
<text transform="translate(246.15,334.24) rotate(288.5)" font-size="2.8" text-anchor="end" dy="0.9" fill="#404040" textLength="3.7" lengthAdjust="spacingAndGlyphs">K9</text>
<text transform="translate(240.13,331.84) rotate(295.0)" font-size="2.8" text-anchor="end" dy="0.9" fill="#404040" textLength="5.3" lengthAdjust="spacingAndGlyphs">1RR</text>
<text transform="translate(234.41,328.77) rotate(301.5)" font-size="2.8" text-anchor="end" dy="0.9" fill="#404040" textLength="5.8" lengthAdjust="spacingAndGlyphs">I3L</text>
<text transform="translate(229.08,325.07) rotate(308.0)" font-size="2.8" text-anchor="end" dy="0.9" fill="#404040" textLength="6.0" lengthAdjust="spacingAndGlyphs">SA1</text>
<text transform="translate(224.21,320.80) rotate(314.5)" font-size="2.8" text-anchor="end" dy="0.9" fill="#404040" textLength="3.8" lengthAdjust="spacingAndGlyphs">X1</text>
<text transform="translate(219.85,316.00) rotate(321.0)" font-size="2.8" text-anchor="end" dy="0.9" fill="#404040" textLength="5.1" lengthAdjust="spacingAndGlyphs">A2I</text>
<text transform="translate(216.06,310.73) rotate(327.5)" font-size="2.8" text-anchor="end" dy="0.9" fill="#404040" textLength="5.9" lengthAdjust="spacingAndGlyphs">0UM</text>
<text transform="translate(212.89,305.07) rotate(334.0)" font-size="2.8" text-anchor="end" dy="0.9" fill="#404040" textLength="6.9" lengthAdjust="spacingAndGlyphs">LI1E</text>
<text transform="translate(210.38,299.09) rotate(340.5)" font-size="2.8" text-anchor="end" dy="0.9" fill="#404040" textLength="3.2" lengthAdjust="spacingAndGlyphs">C7</text>
<text transform="translate(208.57,292.87) rotate(347.0)" font-size="2.8" text-anchor="end" dy="0.9" fill="#404040" textLength="6.0" lengthAdjust="spacingAndGlyphs">HG0</text>
<text transform="translate(207.47,286.48) rotate(353.5)" font-size="2.8" text-anchor="end" dy="0.9" fill="#404040" textLength="5.4" lengthAdjust="spacingAndGlyphs">DR3</text>
<text transform="translate(207.10,280.00) rotate(360.0)" font-size="2.8" text-anchor="end" dy="0.9" fill="#404040" textLength="3.9" lengthAdjust="spacingAndGlyphs">VF</text>
<text transform="translate(268.29,222.94) rotate(-86.0)" font-size="2.8" text-anchor="start" dy="0.9" fill="#404040" textLength="4.9" lengthAdjust="spacingAndGlyphs">DL5</text>
<text transform="translate(281.98,225.60) rotate(-72.0)" font-size="2.8" text-anchor="start" dy="0.9" fill="#404040" textLength="3.5" lengthAdjust="spacingAndGlyphs">HM</text>
<text transform="translate(294.61,231.49) rotate(-58.0)" font-size="2.8" text-anchor="start" dy="0.9" fill="#404040" textLength="3.2" lengthAdjust="spacingAndGlyphs">B4</text>
<text transform="translate(305.45,240.27) rotate(-44.0)" font-size="2.8" text-anchor="start" dy="0.9" fill="#404040" textLength="5.6" lengthAdjust="spacingAndGlyphs">VT5</text>
<text transform="translate(313.84,251.40) rotate(-30.0)" font-size="2.8" text-anchor="start" dy="0.9" fill="#404040" textLength="3.9" lengthAdjust="spacingAndGlyphs">PU</text>
<text transform="translate(319.80,266.16) rotate(-14.0)" font-size="2.8" text-anchor="start" dy="0.9" fill="#404040" textLength="5.4" lengthAdjust="spacingAndGlyphs">TYF</text>
<text transform="translate(321.47,282.00) rotate(2.0)" font-size="2.8" text-anchor="start" dy="0.9" fill="#404040" textLength="5.3" lengthAdjust="spacingAndGlyphs">C00</text>
<text transform="translate(319.80,293.84) rotate(14.0)" font-size="2.8" text-anchor="start" dy="0.9" fill="#404040" textLength="5.8" lengthAdjust="spacingAndGlyphs">RB0</text>
<text transform="translate(314.80,306.85) rotate(28.0)" font-size="2.8" text-anchor="start" dy="0.9" fill="#404040" textLength="6.7" lengthAdjust="spacingAndGlyphs">Y4DZ</text>
<text transform="translate(306.81,318.27) rotate(42.0)" font-size="2.8" text-anchor="start" dy="0.9" fill="#404040" textLength="3.6" lengthAdjust="spacingAndGlyphs">AY</text>
<text transform="translate(296.29,327.42) rotate(56.0)" font-size="2.8" text-anchor="start" dy="0.9" fill="#404040" textLength="3.3" lengthAdjust="spacingAndGlyphs">A6</text>
<text transform="translate(285.73,333.03) rotate(68.0)" font-size="2.8" text-anchor="start" dy="0.9" fill="#404040" textLength="6.3" lengthAdjust="spacingAndGlyphs">FURI</text>
<text transform="translate(276.19,335.95) rotate(78.0)" font-size="2.8" text-anchor="start" dy="0.9" fill="#404040" textLength="3.5" lengthAdjust="spacingAndGlyphs">MS</text>
<text transform="translate(266.30,337.17) rotate(88.0)" font-size="2.8" text-anchor="start" dy="0.9" fill="#404040" textLength="6.9" lengthAdjust="spacingAndGlyphs">147U</text>
<text transform="translate(289.37,331.41) rotate(64.0)" font-size="2.8" text-anchor="start" dy="0.9" fill="#404040" textLength="15.0" lengthAdjust="spacingAndGlyphs">TIWCN5GMG</text>
<text transform="translate(258.32,336.89) rotate(276.0)" font-size="2.8" text-anchor="end" dy="0.9" fill="#404040" textLength="15.0" lengthAdjust="spacingAndGlyphs">A9LHK2787</text>
<line x1="264.30" y1="234.80" x2="264.30" y2="233.60" stroke="#b0b0b0" stroke-width="0.45"/>
<line x1="267.45" y1="234.91" x2="267.54" y2="233.71" stroke="#b0b0b0" stroke-width="0.45"/>
<line x1="270.59" y1="235.24" x2="270.76" y2="234.05" stroke="#b0b0b0" stroke-width="0.45"/>
<line x1="273.70" y1="235.79" x2="273.95" y2="234.61" stroke="#b0b0b0" stroke-width="0.45"/>
<line x1="276.76" y1="236.55" x2="277.09" y2="235.40" stroke="#b0b0b0" stroke-width="0.45"/>
<line x1="279.76" y1="237.53" x2="280.17" y2="236.40" stroke="#b0b0b0" stroke-width="0.45"/>
<line x1="282.68" y1="238.71" x2="283.17" y2="237.61" stroke="#b0b0b0" stroke-width="0.45"/>
<line x1="285.52" y1="240.09" x2="286.08" y2="239.03" stroke="#b0b0b0" stroke-width="0.45"/>
<line x1="288.25" y1="241.67" x2="288.89" y2="240.65" stroke="#b0b0b0" stroke-width="0.45"/>
<line x1="290.87" y1="243.43" x2="291.57" y2="242.46" stroke="#b0b0b0" stroke-width="0.45"/>
<line x1="293.35" y1="245.37" x2="294.13" y2="244.46" stroke="#b0b0b0" stroke-width="0.45"/>
<line x1="295.70" y1="247.49" x2="296.53" y2="246.62" stroke="#b0b0b0" stroke-width="0.45"/>
<line x1="297.89" y1="249.76" x2="298.78" y2="248.95" stroke="#b0b0b0" stroke-width="0.45"/>
<line x1="299.92" y1="252.17" x2="300.86" y2="251.43" stroke="#b0b0b0" stroke-width="0.45"/>
<line x1="301.77" y1="254.72" x2="302.77" y2="254.05" stroke="#b0b0b0" stroke-width="0.45"/>
<line x1="303.44" y1="257.40" x2="304.48" y2="256.80" stroke="#b0b0b0" stroke-width="0.45"/>
<line x1="304.93" y1="260.19" x2="306.00" y2="259.66" stroke="#b0b0b0" stroke-width="0.45"/>
<line x1="306.21" y1="263.07" x2="307.32" y2="262.62" stroke="#b0b0b0" stroke-width="0.45"/>
<line x1="307.29" y1="266.03" x2="308.43" y2="265.66" stroke="#b0b0b0" stroke-width="0.45"/>
<line x1="308.16" y1="269.07" x2="309.32" y2="268.77" stroke="#b0b0b0" stroke-width="0.45"/>
<line x1="308.81" y1="272.15" x2="310.00" y2="271.94" stroke="#b0b0b0" stroke-width="0.45"/>
<line x1="309.25" y1="275.28" x2="310.45" y2="275.15" stroke="#b0b0b0" stroke-width="0.45"/>
<line x1="309.47" y1="278.42" x2="310.67" y2="278.38" stroke="#b0b0b0" stroke-width="0.45"/>
<line x1="309.47" y1="281.58" x2="310.67" y2="281.62" stroke="#b0b0b0" stroke-width="0.45"/>
<line x1="309.25" y1="284.72" x2="310.45" y2="284.85" stroke="#b0b0b0" stroke-width="0.45"/>
<line x1="308.81" y1="287.85" x2="310.00" y2="288.06" stroke="#b0b0b0" stroke-width="0.45"/>
<line x1="308.16" y1="290.93" x2="309.32" y2="291.23" stroke="#b0b0b0" stroke-width="0.45"/>
<line x1="307.29" y1="293.97" x2="308.43" y2="294.34" stroke="#b0b0b0" stroke-width="0.45"/>
<line x1="306.21" y1="296.93" x2="307.32" y2="297.38" stroke="#b0b0b0" stroke-width="0.45"/>
<line x1="304.93" y1="299.81" x2="306.00" y2="300.34" stroke="#b0b0b0" stroke-width="0.45"/>
<line x1="303.44" y1="302.60" x2="304.48" y2="303.20" stroke="#b0b0b0" stroke-width="0.45"/>
<line x1="301.77" y1="305.28" x2="302.77" y2="305.95" stroke="#b0b0b0" stroke-width="0.45"/>
<line x1="299.92" y1="307.83" x2="300.86" y2="308.57" stroke="#b0b0b0" stroke-width="0.45"/>
<line x1="297.89" y1="310.24" x2="298.78" y2="311.05" stroke="#b0b0b0" stroke-width="0.45"/>
<line x1="295.70" y1="312.51" x2="296.53" y2="313.38" stroke="#b0b0b0" stroke-width="0.45"/>
<line x1="293.35" y1="314.63" x2="294.13" y2="315.54" stroke="#b0b0b0" stroke-width="0.45"/>
<line x1="290.87" y1="316.57" x2="291.57" y2="317.54" stroke="#b0b0b0" stroke-width="0.45"/>
<line x1="288.25" y1="318.33" x2="288.89" y2="319.35" stroke="#b0b0b0" stroke-width="0.45"/>
<line x1="285.52" y1="319.91" x2="286.08" y2="320.97" stroke="#b0b0b0" stroke-width="0.45"/>
<line x1="282.68" y1="321.29" x2="283.17" y2="322.39" stroke="#b0b0b0" stroke-width="0.45"/>
<line x1="279.76" y1="322.47" x2="280.17" y2="323.60" stroke="#b0b0b0" stroke-width="0.45"/>
<line x1="276.76" y1="323.45" x2="277.09" y2="324.60" stroke="#b0b0b0" stroke-width="0.45"/>
<line x1="273.70" y1="324.21" x2="273.95" y2="325.39" stroke="#b0b0b0" stroke-width="0.45"/>
<line x1="270.59" y1="324.76" x2="270.76" y2="325.95" stroke="#b0b0b0" stroke-width="0.45"/>
<line x1="267.45" y1="325.09" x2="267.54" y2="326.29" stroke="#b0b0b0" stroke-width="0.45"/>
<line x1="264.30" y1="325.20" x2="264.30" y2="326.40" stroke="#b0b0b0" stroke-width="0.45"/>
<line x1="261.15" y1="325.09" x2="261.06" y2="326.29" stroke="#b0b0b0" stroke-width="0.45"/>
<line x1="258.01" y1="324.76" x2="257.84" y2="325.95" stroke="#b0b0b0" stroke-width="0.45"/>
<line x1="254.90" y1="324.21" x2="254.65" y2="325.39" stroke="#b0b0b0" stroke-width="0.45"/>
<line x1="251.84" y1="323.45" x2="251.51" y2="324.60" stroke="#b0b0b0" stroke-width="0.45"/>
<line x1="248.84" y1="322.47" x2="248.43" y2="323.60" stroke="#b0b0b0" stroke-width="0.45"/>
<line x1="245.92" y1="321.29" x2="245.43" y2="322.39" stroke="#b0b0b0" stroke-width="0.45"/>
<line x1="243.08" y1="319.91" x2="242.52" y2="320.97" stroke="#b0b0b0" stroke-width="0.45"/>
<line x1="240.35" y1="318.33" x2="239.71" y2="319.35" stroke="#b0b0b0" stroke-width="0.45"/>
<line x1="237.73" y1="316.57" x2="237.03" y2="317.54" stroke="#b0b0b0" stroke-width="0.45"/>
<line x1="235.25" y1="314.63" x2="234.47" y2="315.54" stroke="#b0b0b0" stroke-width="0.45"/>
<line x1="232.90" y1="312.51" x2="232.07" y2="313.38" stroke="#b0b0b0" stroke-width="0.45"/>
<line x1="230.71" y1="310.24" x2="229.82" y2="311.05" stroke="#b0b0b0" stroke-width="0.45"/>
<line x1="228.68" y1="307.83" x2="227.74" y2="308.57" stroke="#b0b0b0" stroke-width="0.45"/>
<line x1="226.83" y1="305.28" x2="225.83" y2="305.95" stroke="#b0b0b0" stroke-width="0.45"/>
<line x1="225.16" y1="302.60" x2="224.12" y2="303.20" stroke="#b0b0b0" stroke-width="0.45"/>
<line x1="223.67" y1="299.81" x2="222.60" y2="300.34" stroke="#b0b0b0" stroke-width="0.45"/>
<line x1="222.39" y1="296.93" x2="221.28" y2="297.38" stroke="#b0b0b0" stroke-width="0.45"/>
<line x1="221.31" y1="293.97" x2="220.17" y2="294.34" stroke="#b0b0b0" stroke-width="0.45"/>
<line x1="220.44" y1="290.93" x2="219.28" y2="291.23" stroke="#b0b0b0" stroke-width="0.45"/>
<line x1="219.79" y1="287.85" x2="218.60" y2="288.06" stroke="#b0b0b0" stroke-width="0.45"/>
<line x1="219.35" y1="284.72" x2="218.15" y2="284.85" stroke="#b0b0b0" stroke-width="0.45"/>
<line x1="219.13" y1="281.58" x2="217.93" y2="281.62" stroke="#b0b0b0" stroke-width="0.45"/>
<line x1="219.13" y1="278.42" x2="217.93" y2="278.38" stroke="#b0b0b0" stroke-width="0.45"/>
<line x1="219.35" y1="275.28" x2="218.15" y2="275.15" stroke="#b0b0b0" stroke-width="0.45"/>
<line x1="219.79" y1="272.15" x2="218.60" y2="271.94" stroke="#b0b0b0" stroke-width="0.45"/>
<line x1="220.44" y1="269.07" x2="219.28" y2="268.77" stroke="#b0b0b0" stroke-width="0.45"/>
<line x1="221.31" y1="266.03" x2="220.17" y2="265.66" stroke="#b0b0b0" stroke-width="0.45"/>
<line x1="222.39" y1="263.07" x2="221.28" y2="262.62" stroke="#b0b0b0" stroke-width="0.45"/>
<line x1="223.67" y1="260.19" x2="222.60" y2="259.66" stroke="#b0b0b0" stroke-width="0.45"/>
<line x1="225.16" y1="257.40" x2="224.12" y2="256.80" stroke="#b0b0b0" stroke-width="0.45"/>
<line x1="226.83" y1="254.72" x2="225.83" y2="254.05" stroke="#b0b0b0" stroke-width="0.45"/>
<line x1="228.68" y1="252.17" x2="227.74" y2="251.43" stroke="#b0b0b0" stroke-width="0.45"/>
<line x1="230.71" y1="249.76" x2="229.82" y2="248.95" stroke="#b0b0b0" stroke-width="0.45"/>
<line x1="232.90" y1="247.49" x2="232.07" y2="246.62" stroke="#b0b0b0" stroke-width="0.45"/>
<line x1="235.25" y1="245.37" x2="234.47" y2="244.46" stroke="#b0b0b0" stroke-width="0.45"/>
<line x1="237.73" y1="243.43" x2="237.03" y2="242.46" stroke="#b0b0b0" stroke-width="0.45"/>
<line x1="240.35" y1="241.67" x2="239.71" y2="240.65" stroke="#b0b0b0" stroke-width="0.45"/>
<line x1="243.08" y1="240.09" x2="242.52" y2="239.03" stroke="#b0b0b0" stroke-width="0.45"/>
<line x1="245.92" y1="238.71" x2="245.43" y2="237.61" stroke="#b0b0b0" stroke-width="0.45"/>
<line x1="248.84" y1="237.53" x2="248.43" y2="236.40" stroke="#b0b0b0" stroke-width="0.45"/>
<line x1="251.84" y1="236.55" x2="251.51" y2="235.40" stroke="#b0b0b0" stroke-width="0.45"/>
<line x1="254.90" y1="235.79" x2="254.65" y2="234.61" stroke="#b0b0b0" stroke-width="0.45"/>
<line x1="258.01" y1="235.24" x2="257.84" y2="234.05" stroke="#b0b0b0" stroke-width="0.45"/>
<line x1="261.15" y1="234.91" x2="261.06" y2="233.71" stroke="#b0b0b0" stroke-width="0.45"/>
<line x1="265.24" y1="225.91" x2="265.29" y2="223.31" stroke="#808080" stroke-width="0.6"/>
<line x1="267.70" y1="226.01" x2="267.86" y2="223.41" stroke="#808080" stroke-width="0.6"/>
<line x1="270.14" y1="226.22" x2="270.42" y2="223.63" stroke="#808080" stroke-width="0.6"/>
<line x1="272.58" y1="226.54" x2="272.97" y2="223.97" stroke="#808080" stroke-width="0.6"/>
<line x1="274.99" y1="226.97" x2="275.51" y2="224.42" stroke="#808080" stroke-width="0.6"/>
<line x1="277.39" y1="227.51" x2="278.02" y2="224.98" stroke="#808080" stroke-width="0.6"/>
<line x1="279.76" y1="228.15" x2="280.50" y2="225.66" stroke="#808080" stroke-width="0.6"/>
<line x1="282.09" y1="228.91" x2="282.95" y2="226.45" stroke="#808080" stroke-width="0.6"/>
<line x1="284.39" y1="229.77" x2="285.36" y2="227.35" stroke="#808080" stroke-width="0.6"/>
<line x1="286.65" y1="230.73" x2="287.72" y2="228.36" stroke="#808080" stroke-width="0.6"/>
<line x1="288.86" y1="231.80" x2="290.04" y2="229.48" stroke="#808080" stroke-width="0.6"/>
<line x1="291.02" y1="232.96" x2="292.31" y2="230.70" stroke="#808080" stroke-width="0.6"/>
<line x1="293.13" y1="234.22" x2="294.51" y2="232.02" stroke="#808080" stroke-width="0.6"/>
<line x1="295.18" y1="235.58" x2="296.66" y2="233.44" stroke="#808080" stroke-width="0.6"/>
<line x1="297.16" y1="237.02" x2="298.74" y2="234.96" stroke="#808080" stroke-width="0.6"/>
<line x1="299.07" y1="238.56" x2="300.75" y2="236.57" stroke="#808080" stroke-width="0.6"/>
<line x1="300.92" y1="240.18" x2="302.68" y2="238.26" stroke="#808080" stroke-width="0.6"/>
<line x1="302.69" y1="241.88" x2="304.53" y2="240.05" stroke="#808080" stroke-width="0.6"/>
<line x1="304.38" y1="243.66" x2="306.30" y2="241.91" stroke="#808080" stroke-width="0.6"/>
<line x1="305.98" y1="245.52" x2="307.99" y2="243.86" stroke="#808080" stroke-width="0.6"/>
<line x1="307.51" y1="247.44" x2="309.58" y2="245.88" stroke="#808080" stroke-width="0.6"/>
<line x1="308.94" y1="249.44" x2="311.08" y2="247.97" stroke="#808080" stroke-width="0.6"/>
<line x1="310.28" y1="251.49" x2="312.49" y2="250.12" stroke="#808080" stroke-width="0.6"/>
<line x1="311.53" y1="253.61" x2="313.79" y2="252.34" stroke="#808080" stroke-width="0.6"/>
<line x1="312.67" y1="255.78" x2="315.00" y2="254.61" stroke="#808080" stroke-width="0.6"/>
<line x1="313.72" y1="258.00" x2="316.10" y2="256.94" stroke="#808080" stroke-width="0.6"/>
<line x1="314.67" y1="260.26" x2="317.09" y2="259.31" stroke="#808080" stroke-width="0.6"/>
<line x1="315.51" y1="262.57" x2="317.98" y2="261.73" stroke="#808080" stroke-width="0.6"/>
<line x1="316.25" y1="264.91" x2="318.75" y2="264.18" stroke="#808080" stroke-width="0.6"/>
<line x1="316.88" y1="267.28" x2="319.41" y2="266.67" stroke="#808080" stroke-width="0.6"/>
<line x1="317.41" y1="269.68" x2="319.96" y2="269.18" stroke="#808080" stroke-width="0.6"/>
<line x1="317.82" y1="272.10" x2="320.39" y2="271.72" stroke="#808080" stroke-width="0.6"/>
<line x1="318.12" y1="274.53" x2="320.71" y2="274.27" stroke="#808080" stroke-width="0.6"/>
<line x1="318.32" y1="276.98" x2="320.91" y2="276.83" stroke="#808080" stroke-width="0.6"/>
<line x1="318.40" y1="279.43" x2="321.00" y2="279.41" stroke="#808080" stroke-width="0.6"/>
<line x1="318.37" y1="281.89" x2="320.97" y2="281.98" stroke="#808080" stroke-width="0.6"/>
<line x1="318.23" y1="284.34" x2="320.82" y2="284.55" stroke="#808080" stroke-width="0.6"/>
<line x1="317.97" y1="286.78" x2="320.55" y2="287.11" stroke="#808080" stroke-width="0.6"/>
<line x1="317.61" y1="289.21" x2="320.17" y2="289.65" stroke="#808080" stroke-width="0.6"/>
<line x1="317.14" y1="291.62" x2="319.68" y2="292.18" stroke="#808080" stroke-width="0.6"/>
<line x1="316.56" y1="294.00" x2="319.07" y2="294.68" stroke="#808080" stroke-width="0.6"/>
<line x1="315.87" y1="296.36" x2="318.35" y2="297.14" stroke="#808080" stroke-width="0.6"/>
<line x1="315.07" y1="298.68" x2="317.51" y2="299.58" stroke="#808080" stroke-width="0.6"/>
<line x1="314.17" y1="300.96" x2="316.57" y2="301.97" stroke="#808080" stroke-width="0.6"/>
<line x1="313.17" y1="303.21" x2="315.52" y2="304.32" stroke="#808080" stroke-width="0.6"/>
<line x1="312.07" y1="305.40" x2="314.36" y2="306.62" stroke="#808080" stroke-width="0.6"/>
<line x1="310.87" y1="307.54" x2="313.10" y2="308.86" stroke="#808080" stroke-width="0.6"/>
<line x1="309.57" y1="309.62" x2="311.74" y2="311.05" stroke="#808080" stroke-width="0.6"/>
<line x1="308.18" y1="311.65" x2="310.29" y2="313.17" stroke="#808080" stroke-width="0.6"/>
<line x1="306.70" y1="313.60" x2="308.74" y2="315.22" stroke="#808080" stroke-width="0.6"/>
<line x1="305.13" y1="315.49" x2="307.09" y2="317.20" stroke="#808080" stroke-width="0.6"/>
<line x1="303.48" y1="317.31" x2="305.36" y2="319.10" stroke="#808080" stroke-width="0.6"/>
<line x1="301.74" y1="319.05" x2="303.54" y2="320.92" stroke="#808080" stroke-width="0.6"/>
<line x1="299.94" y1="320.71" x2="301.65" y2="322.66" stroke="#808080" stroke-width="0.6"/>
<line x1="298.05" y1="322.28" x2="299.67" y2="324.31" stroke="#808080" stroke-width="0.6"/>
<line x1="296.10" y1="323.77" x2="297.63" y2="325.87" stroke="#808080" stroke-width="0.6"/>
<line x1="294.08" y1="325.17" x2="295.51" y2="327.34" stroke="#808080" stroke-width="0.6"/>
<line x1="292.00" y1="326.47" x2="293.33" y2="328.70" stroke="#808080" stroke-width="0.6"/>
<line x1="289.86" y1="327.68" x2="291.09" y2="329.97" stroke="#808080" stroke-width="0.6"/>
<line x1="287.68" y1="328.79" x2="288.80" y2="331.13" stroke="#808080" stroke-width="0.6"/>
<line x1="285.44" y1="329.80" x2="286.45" y2="332.19" stroke="#808080" stroke-width="0.6"/>
<line x1="283.16" y1="330.71" x2="284.06" y2="333.14" stroke="#808080" stroke-width="0.6"/>
<line x1="280.84" y1="331.51" x2="281.63" y2="333.99" stroke="#808080" stroke-width="0.6"/>
<line x1="278.48" y1="332.21" x2="279.17" y2="334.72" stroke="#808080" stroke-width="0.6"/>
<line x1="276.10" y1="332.80" x2="276.67" y2="335.33" stroke="#808080" stroke-width="0.6"/>
<line x1="273.69" y1="333.28" x2="274.15" y2="335.84" stroke="#808080" stroke-width="0.6"/>
<line x1="271.27" y1="333.65" x2="271.60" y2="336.23" stroke="#808080" stroke-width="0.6"/>
<line x1="268.83" y1="333.91" x2="269.04" y2="336.50" stroke="#808080" stroke-width="0.6"/>
<line x1="266.38" y1="334.06" x2="266.48" y2="336.66" stroke="#808080" stroke-width="0.6"/>
<line x1="263.92" y1="334.10" x2="263.90" y2="336.70" stroke="#808080" stroke-width="0.6"/>
<line x1="261.47" y1="334.03" x2="261.33" y2="336.62" stroke="#808080" stroke-width="0.6"/>
<line x1="259.02" y1="333.84" x2="258.77" y2="336.43" stroke="#808080" stroke-width="0.6"/>
<line x1="256.58" y1="333.55" x2="256.21" y2="336.12" stroke="#808080" stroke-width="0.6"/>
<line x1="254.16" y1="333.14" x2="253.68" y2="335.70" stroke="#808080" stroke-width="0.6"/>
<line x1="251.76" y1="332.63" x2="251.16" y2="335.16" stroke="#808080" stroke-width="0.6"/>
<line x1="249.39" y1="332.00" x2="248.67" y2="334.50" stroke="#808080" stroke-width="0.6"/>
<line x1="247.04" y1="331.27" x2="246.22" y2="333.74" stroke="#808080" stroke-width="0.6"/>
<line x1="244.74" y1="330.44" x2="243.80" y2="332.86" stroke="#808080" stroke-width="0.6"/>
<line x1="242.47" y1="329.50" x2="241.42" y2="331.88" stroke="#808080" stroke-width="0.6"/>
<line x1="240.25" y1="328.46" x2="239.09" y2="330.79" stroke="#808080" stroke-width="0.6"/>
<line x1="238.07" y1="327.32" x2="236.81" y2="329.59" stroke="#808080" stroke-width="0.6"/>
<line x1="235.95" y1="326.08" x2="234.59" y2="328.29" stroke="#808080" stroke-width="0.6"/>
<line x1="233.89" y1="324.75" x2="232.43" y2="326.90" stroke="#808080" stroke-width="0.6"/>
<line x1="231.89" y1="323.32" x2="230.34" y2="325.40" stroke="#808080" stroke-width="0.6"/>
<line x1="229.96" y1="321.80" x2="228.31" y2="323.81" stroke="#808080" stroke-width="0.6"/>
<line x1="228.10" y1="320.20" x2="226.36" y2="322.14" stroke="#808080" stroke-width="0.6"/>
<line x1="226.31" y1="318.52" x2="224.49" y2="320.37" stroke="#808080" stroke-width="0.6"/>
<line x1="224.61" y1="316.76" x2="222.70" y2="318.52" stroke="#808080" stroke-width="0.6"/>
<line x1="222.98" y1="314.92" x2="220.99" y2="316.60" stroke="#808080" stroke-width="0.6"/>
<line x1="221.44" y1="313.01" x2="219.38" y2="314.60" stroke="#808080" stroke-width="0.6"/>
<line x1="219.98" y1="311.03" x2="217.85" y2="312.52" stroke="#808080" stroke-width="0.6"/>
<line x1="218.62" y1="308.99" x2="216.43" y2="310.38" stroke="#808080" stroke-width="0.6"/>
<line x1="217.35" y1="306.89" x2="215.10" y2="308.18" stroke="#808080" stroke-width="0.6"/>
<line x1="216.18" y1="304.73" x2="213.87" y2="305.92" stroke="#808080" stroke-width="0.6"/>
<line x1="215.11" y1="302.52" x2="212.75" y2="303.60" stroke="#808080" stroke-width="0.6"/>
<line x1="214.14" y1="300.27" x2="211.73" y2="301.24" stroke="#808080" stroke-width="0.6"/>
<line x1="213.27" y1="297.97" x2="210.82" y2="298.83" stroke="#808080" stroke-width="0.6"/>
<line x1="212.51" y1="295.64" x2="210.02" y2="296.39" stroke="#808080" stroke-width="0.6"/>
<line x1="211.85" y1="293.27" x2="209.33" y2="293.91" stroke="#808080" stroke-width="0.6"/>
<line x1="211.30" y1="290.88" x2="208.76" y2="291.40" stroke="#808080" stroke-width="0.6"/>
<line x1="210.87" y1="288.46" x2="208.30" y2="288.87" stroke="#808080" stroke-width="0.6"/>
<line x1="210.54" y1="286.03" x2="207.95" y2="286.32" stroke="#808080" stroke-width="0.6"/>
<line x1="210.32" y1="283.59" x2="207.72" y2="283.76" stroke="#808080" stroke-width="0.6"/>
<line x1="210.21" y1="281.13" x2="207.61" y2="281.19" stroke="#808080" stroke-width="0.6"/>
<line x1="210.22" y1="278.68" x2="207.62" y2="278.61" stroke="#808080" stroke-width="0.6"/>
<line x1="210.33" y1="276.23" x2="207.74" y2="276.04" stroke="#808080" stroke-width="0.6"/>
<line x1="210.56" y1="273.78" x2="207.98" y2="273.48" stroke="#808080" stroke-width="0.6"/>
<line x1="210.90" y1="271.35" x2="208.33" y2="270.93" stroke="#808080" stroke-width="0.6"/>
<line x1="211.34" y1="268.94" x2="208.80" y2="268.41" stroke="#808080" stroke-width="0.6"/>
<line x1="211.90" y1="266.55" x2="209.38" y2="265.90" stroke="#808080" stroke-width="0.6"/>
<line x1="212.56" y1="264.18" x2="210.08" y2="263.42" stroke="#808080" stroke-width="0.6"/>
<line x1="213.33" y1="261.85" x2="210.89" y2="260.98" stroke="#808080" stroke-width="0.6"/>
<line x1="214.21" y1="259.56" x2="211.80" y2="258.58" stroke="#808080" stroke-width="0.6"/>
<line x1="215.19" y1="257.31" x2="212.83" y2="256.22" stroke="#808080" stroke-width="0.6"/>
<line x1="216.27" y1="255.10" x2="213.96" y2="253.91" stroke="#808080" stroke-width="0.6"/>
<line x1="217.45" y1="252.95" x2="215.20" y2="251.65" stroke="#808080" stroke-width="0.6"/>
<line x1="218.72" y1="250.85" x2="216.53" y2="249.45" stroke="#808080" stroke-width="0.6"/>
<line x1="220.09" y1="248.82" x2="217.97" y2="247.32" stroke="#808080" stroke-width="0.6"/>
<line x1="221.55" y1="246.84" x2="219.50" y2="245.25" stroke="#808080" stroke-width="0.6"/>
<line x1="223.10" y1="244.94" x2="221.12" y2="243.25" stroke="#808080" stroke-width="0.6"/>
<line x1="224.73" y1="243.10" x2="222.83" y2="241.33" stroke="#808080" stroke-width="0.6"/>
<line x1="226.45" y1="241.35" x2="224.63" y2="239.49" stroke="#808080" stroke-width="0.6"/>
<line x1="228.24" y1="239.67" x2="226.51" y2="237.73" stroke="#808080" stroke-width="0.6"/>
<line x1="230.11" y1="238.08" x2="228.46" y2="236.06" stroke="#808080" stroke-width="0.6"/>
<line x1="232.04" y1="236.57" x2="230.49" y2="234.48" stroke="#808080" stroke-width="0.6"/>
<line x1="234.05" y1="235.15" x2="232.59" y2="232.99" stroke="#808080" stroke-width="0.6"/>
<line x1="236.11" y1="233.82" x2="234.76" y2="231.60" stroke="#808080" stroke-width="0.6"/>
<line x1="238.24" y1="232.59" x2="236.98" y2="230.31" stroke="#808080" stroke-width="0.6"/>
<line x1="240.41" y1="231.46" x2="239.27" y2="229.13" stroke="#808080" stroke-width="0.6"/>
<line x1="242.64" y1="230.42" x2="241.60" y2="228.04" stroke="#808080" stroke-width="0.6"/>
<line x1="244.91" y1="229.49" x2="243.98" y2="227.07" stroke="#808080" stroke-width="0.6"/>
<line x1="247.22" y1="228.67" x2="246.40" y2="226.20" stroke="#808080" stroke-width="0.6"/>
<line x1="249.57" y1="227.94" x2="248.86" y2="225.44" stroke="#808080" stroke-width="0.6"/>
<line x1="251.95" y1="227.33" x2="251.35" y2="224.80" stroke="#808080" stroke-width="0.6"/>
<line x1="254.35" y1="226.82" x2="253.87" y2="224.27" stroke="#808080" stroke-width="0.6"/>
<line x1="256.77" y1="226.43" x2="256.41" y2="223.85" stroke="#808080" stroke-width="0.6"/>
<line x1="259.21" y1="226.14" x2="258.96" y2="223.55" stroke="#808080" stroke-width="0.6"/>
<line x1="261.66" y1="225.96" x2="261.53" y2="223.37" stroke="#808080" stroke-width="0.6"/>
<line x1="264.11" y1="225.90" x2="264.10" y2="223.30" stroke="#808080" stroke-width="0.6"/>
<path d="M223.41,277.00A41.0,41.0 0 0 1 223.45,276.49Q261.86,284.50 289.52,312.33A41.0,41.0 0 0 1 289.01,312.72Q261.57,285.02 223.41,277.00Z" fill="#90e05a" fill-opacity="0.75"/>
<path d="M223.48,276.20A41.0,41.0 0 0 1 223.53,275.69Q260.90,285.56 286.66,314.37A41.0,41.0 0 0 1 286.12,314.71Q260.57,286.06 223.48,276.20Z" fill="#90e05a" fill-opacity="0.75"/>
<path d="M223.56,275.41A41.0,41.0 0 0 1 223.62,274.90Q253.49,290.87 269.64,320.65A41.0,41.0 0 0 1 269.00,320.73Q253.08,291.25 223.56,275.41Z" fill="#90e05a" fill-opacity="0.75"/>
<path d="M223.66,274.61A41.0,41.0 0 0 1 223.73,274.11Q231.32,265.29 232.80,253.75A41.0,41.0 0 0 1 233.22,253.26Q231.64,265.37 223.66,274.61Z" fill="#90e05a" fill-opacity="0.75"/>
<path d="M223.88,273.12A41.0,41.0 0 0 1 224.00,272.47Q253.60,289.91 268.71,320.76A41.0,41.0 0 0 1 268.07,320.83Q253.13,290.34 223.88,273.12Z" fill="#3a3ad8" fill-opacity="0.75"/>
<path d="M224.05,272.18A41.0,41.0 0 0 1 224.18,271.53Q235.60,288.72 235.67,309.35A41.0,41.0 0 0 1 235.22,308.90Q235.14,288.87 224.05,272.18Z" fill="#3a3ad8" fill-opacity="0.75"/>
<path d="M224.24,271.25A41.0,41.0 0 0 1 224.39,270.61Q255.97,288.13 272.69,320.13A41.0,41.0 0 0 1 272.06,320.26Q255.50,288.59 224.24,271.25Z" fill="#3a3ad8" fill-opacity="0.75"/>
<path d="M224.46,270.33A41.0,41.0 0 0 1 224.62,269.69Q260.92,284.24 283.22,316.37A41.0,41.0 0 0 1 282.65,316.66Q260.50,284.77 224.46,270.33Z" fill="#3a3ad8" fill-opacity="0.75"/>
<path d="M224.88,268.72A41.0,41.0 0 0 1 225.06,268.10Q244.52,258.59 255.53,239.95A41.0,41.0 0 0 1 256.16,239.82Q244.86,258.96 224.88,268.72Z" fill="#9a32e0" fill-opacity="0.75"/>
<path d="M225.15,267.83A41.0,41.0 0 0 1 225.35,267.21Q255.16,287.44 268.92,320.74A41.0,41.0 0 0 1 268.27,320.81Q254.66,287.85 225.15,267.83Z" fill="#9a32e0" fill-opacity="0.75"/>
<path d="M225.44,266.94A41.0,41.0 0 0 1 225.65,266.33Q241.50,288.04 242.78,314.90A41.0,41.0 0 0 1 242.24,314.56Q240.98,288.23 225.44,266.94Z" fill="#d63222" fill-opacity="0.75"/>
<path d="M225.74,266.06A41.0,41.0 0 0 1 225.97,265.45Q236.84,285.64 234.80,308.47A41.0,41.0 0 0 1 234.36,308.01Q236.34,285.74 225.74,266.06Z" fill="#9a32e0" fill-opacity="0.75"/>
<path d="M226.33,264.52A41.0,41.0 0 0 1 226.57,263.96Q231.78,280.47 227.05,297.13A41.0,41.0 0 0 1 226.79,296.54Q231.36,280.46 226.33,264.52Z" fill="#5ccf5c" fill-opacity="0.75"/>
<path d="M226.68,263.70A41.0,41.0 0 0 1 226.92,263.15Q239.27,285.45 237.30,310.86A41.0,41.0 0 0 1 236.82,310.43Q238.76,285.54 226.68,263.70Z" fill="#5ccf5c" fill-opacity="0.75"/>
<path d="M227.04,262.89A41.0,41.0 0 0 1 227.30,262.34Q256.92,285.28 269.03,320.73A41.0,41.0 0 0 1 268.39,320.80Q256.40,285.64 227.04,262.89Z" fill="#5ccf5c" fill-opacity="0.75"/>
<path d="M227.42,262.09A41.0,41.0 0 0 1 227.69,261.55Q266.53,277.22 290.33,311.68A41.0,41.0 0 0 1 289.83,312.08Q266.12,277.72 227.42,262.09Z" fill="#3a3ad8" fill-opacity="0.75"/>
<path d="M228.15,260.66A41.0,41.0 0 0 1 228.40,260.19Q258.49,284.05 270.48,320.53A41.0,41.0 0 0 1 269.84,320.62Q257.99,284.39 228.15,260.66Z" fill="#7a50d0" fill-opacity="0.75"/>
<path d="M228.54,259.94A41.0,41.0 0 0 1 228.80,259.49Q245.83,285.48 245.74,316.56A41.0,41.0 0 0 1 245.17,316.26Q245.30,285.61 228.54,259.94Z" fill="#e8902e" fill-opacity="0.75"/>
<path d="M228.95,259.24A41.0,41.0 0 0 1 229.21,258.79Q256.82,284.40 265.77,320.97A41.0,41.0 0 0 1 265.13,320.99Q256.30,284.69 228.95,259.24Z" fill="#d63222" fill-opacity="0.75"/>
<path d="M229.36,258.54A41.0,41.0 0 0 1 229.64,258.09Q244.21,284.38 241.90,314.34A41.0,41.0 0 0 1 241.36,313.98Q243.68,284.46 229.36,258.54Z" fill="#e8902e" fill-opacity="0.75"/>
<path d="M230.19,257.25A41.0,41.0 0 0 1 230.58,256.68Q251.28,284.68 253.15,319.45A41.0,41.0 0 0 1 252.53,319.27Q250.66,284.91 230.19,257.25Z" fill="#90e05a" fill-opacity="0.75"/>
<path d="M230.74,256.45A41.0,41.0 0 0 1 231.14,255.88Q259.10,282.91 267.57,320.87A41.0,41.0 0 0 1 266.93,320.92Q258.50,283.25 230.74,256.45Z" fill="#90e05a" fill-opacity="0.75"/>
<path d="M231.31,255.65A41.0,41.0 0 0 1 231.73,255.10Q243.72,282.50 238.65,311.99A41.0,41.0 0 0 1 238.15,311.58Q243.12,282.59 231.31,255.65Z" fill="#90e05a" fill-opacity="0.75"/>
<path d="M231.90,254.87A41.0,41.0 0 0 1 232.33,254.33Q253.20,283.75 254.44,319.80A41.0,41.0 0 0 1 253.81,319.64Q252.57,283.97 231.90,254.87Z" fill="#90e05a" fill-opacity="0.75"/>
<path d="M232.97,253.56A41.0,41.0 0 0 1 233.42,253.03Q268.54,276.50 284.93,315.43A41.0,41.0 0 0 1 284.37,315.75Q268.00,276.94 232.97,253.56Z" fill="#9a32e0" fill-opacity="0.75"/>
<path d="M233.61,252.81A41.0,41.0 0 0 1 234.08,252.30Q270.59,274.28 288.98,312.74A41.0,41.0 0 0 1 288.46,313.13Q270.08,274.74 233.61,252.81Z" fill="#7fe3bd" fill-opacity="0.75"/>
<path d="M234.27,252.09A41.0,41.0 0 0 1 234.75,251.58Q237.49,275.23 226.76,296.49A41.0,41.0 0 0 1 226.51,295.90Q236.96,275.16 234.27,252.09Z" fill="#7fe3bd" fill-opacity="0.75"/>
<path d="M234.95,251.37A41.0,41.0 0 0 1 235.44,250.88Q268.54,277.03 281.79,317.08A41.0,41.0 0 0 1 281.20,317.35Q267.97,277.43 234.95,251.37Z" fill="#7fe3bd" fill-opacity="0.75"/>
<path d="M236.16,250.18A41.0,41.0 0 0 1 236.61,249.77Q242.55,278.14 231.89,305.11A41.0,41.0 0 0 1 231.50,304.59Q241.99,278.09 236.16,250.18Z" fill="#c833d8" fill-opacity="0.75"/>
<path d="M236.82,249.57A41.0,41.0 0 0 1 237.28,249.17Q240.34,275.73 228.28,299.58A41.0,41.0 0 0 1 227.98,299.02Q239.81,275.62 236.82,249.57Z" fill="#40c8c8" fill-opacity="0.75"/>
<path d="M237.49,248.98A41.0,41.0 0 0 1 237.96,248.58Q262.17,280.79 264.65,321.00A41.0,41.0 0 0 1 264.01,321.00Q261.55,281.01 237.49,248.98Z" fill="#40c8c8" fill-opacity="0.75"/>
<path d="M238.18,248.40A41.0,41.0 0 0 1 238.65,248.01Q257.95,281.50 255.63,320.07A41.0,41.0 0 0 1 255.00,319.93Q257.32,281.64 238.18,248.40Z" fill="#40c8c8" fill-opacity="0.75"/>
<path d="M239.44,247.40A41.0,41.0 0 0 1 239.93,247.03Q263.66,280.22 265.21,320.99A41.0,41.0 0 0 1 264.57,321.00Q263.04,280.43 239.44,247.40Z" fill="#3a3ad8" fill-opacity="0.75"/>
<path d="M240.16,246.86A41.0,41.0 0 0 1 240.65,246.51Q267.54,278.61 272.31,320.21A41.0,41.0 0 0 1 271.67,320.33Q266.94,278.87 240.16,246.86Z" fill="#3a3ad8" fill-opacity="0.75"/>
<path d="M240.89,246.34A41.0,41.0 0 0 1 241.39,246.00Q267.05,278.93 270.33,320.55A41.0,41.0 0 0 1 269.70,320.64Q266.44,279.17 240.89,246.34Z" fill="#3a3ad8" fill-opacity="0.75"/>
<path d="M241.63,245.84A41.0,41.0 0 0 1 242.14,245.50Q254.43,286.50 287.26,313.97A41.0,41.0 0 0 1 286.72,314.32Q274.45,273.32 241.63,245.84Z" fill="#3a3ad8" fill-opacity="0.75"/>
<path d="M242.99,244.97A41.0,41.0 0 0 1 243.68,244.56Q260.73,280.54 255.16,319.97A41.0,41.0 0 0 1 254.53,319.82Q259.99,280.66 242.99,244.97Z" fill="#b8e040" fill-opacity="0.75"/>
<path d="M244.55,244.07A41.0,41.0 0 0 1 245.31,243.66Q245.11,274.11 228.19,299.41A41.0,41.0 0 0 1 227.89,298.85Q244.43,273.96 244.55,244.07Z" fill="#7fe3bd" fill-opacity="0.75"/>
<path d="M246.07,243.28A41.0,41.0 0 0 1 247.04,242.81Q271.15,277.79 272.02,320.27A41.0,41.0 0 0 1 271.39,320.38Q270.30,278.03 246.07,243.28Z" fill="#3a3ad8" fill-opacity="0.75"/>
<path d="M247.82,242.46A41.0,41.0 0 0 1 248.92,241.99Q272.17,277.68 271.94,320.28A41.0,41.0 0 0 1 271.31,320.40Q271.26,277.90 247.82,242.46Z" fill="#66a6e0" fill-opacity="0.75"/>
<path d="M249.72,241.68A41.0,41.0 0 0 1 250.56,241.37Q254.66,278.24 237.78,311.27A41.0,41.0 0 0 1 237.30,310.85Q253.88,278.13 249.72,241.68Z" fill="#d63222" fill-opacity="0.75"/>
<path d="M251.37,241.09A41.0,41.0 0 0 1 252.63,240.70Q259.31,282.41 287.85,313.56A41.0,41.0 0 0 1 287.32,313.92Q258.42,282.90 251.37,241.09Z" fill="#7fe3bd" fill-opacity="0.75"/>
<path d="M253.45,240.46A41.0,41.0 0 0 1 254.41,240.21Q244.35,262.88 223.47,276.28A41.0,41.0 0 0 1 223.53,275.64Q243.77,262.54 253.45,240.46Z" fill="#9a32e0" fill-opacity="0.75"/>
<path d="M255.25,240.01A41.0,41.0 0 0 1 256.22,239.80Q267.29,280.07 254.37,319.78A41.0,41.0 0 0 1 253.75,319.62Q266.44,280.04 255.25,240.01Z" fill="#e3e334" fill-opacity="0.75"/>
<path d="M257.06,239.64A41.0,41.0 0 0 1 257.93,239.50Q253.27,282.03 272.79,320.11A41.0,41.0 0 0 1 272.16,320.24Q252.52,282.21 257.06,239.64Z" fill="#3a3ad8" fill-opacity="0.75"/>
<path d="M258.78,239.37A41.0,41.0 0 0 1 260.20,239.21Q257.47,281.58 278.51,318.46A41.0,41.0 0 0 1 277.90,318.68Q256.44,281.89 258.78,239.37Z" fill="#9a32e0" fill-opacity="0.75"/>
<path d="M261.06,239.13A41.0,41.0 0 0 1 262.33,239.05Q256.54,276.29 231.20,304.19A41.0,41.0 0 0 1 230.82,303.67Q255.62,275.93 261.06,239.13Z" fill="#e8902e" fill-opacity="0.75"/>
<path d="M263.19,239.01A41.0,41.0 0 0 1 263.80,239.00Q252.76,247.02 239.14,247.63A41.0,41.0 0 0 1 239.65,247.24Q252.65,246.66 263.19,239.01Z" fill="#7fe3bd" fill-opacity="0.75"/>
<path d="M246.20,316.79A41.0,41.0 0 0 1 245.18,316.27Q260.04,313.78 273.82,319.88A41.0,41.0 0 0 1 273.19,320.02Q260.18,314.36 246.20,316.79Z" fill="#3a3ad8" fill-opacity="0.75"/>
<path d="M244.93,316.13A41.0,41.0 0 0 1 243.92,315.58Q250.05,316.10 254.88,319.90A41.0,41.0 0 0 1 254.26,319.75Q250.13,316.54 244.93,316.13Z" fill="#3a3ad8" fill-opacity="0.75"/>
<path d="M243.68,315.44A41.0,41.0 0 0 1 242.69,314.85Q250.23,315.49 256.16,320.18A41.0,41.0 0 0 1 255.53,320.05Q250.30,315.97 243.68,315.44Z" fill="#e8902e" fill-opacity="0.75"/>
<path d="M242.45,314.69A41.0,41.0 0 0 1 241.49,314.07Q242.35,285.87 227.54,261.85A41.0,41.0 0 0 1 227.83,261.27Q243.15,285.79 242.45,314.69Z" fill="#9a32e0" fill-opacity="0.75"/>
<path d="M240.09,313.09A41.0,41.0 0 0 1 239.17,312.40Q239.28,287.39 225.60,266.46A41.0,41.0 0 0 1 225.82,265.85Q240.04,287.33 240.09,313.09Z" fill="#90e05a" fill-opacity="0.75"/>
<path d="M238.95,312.22A41.0,41.0 0 0 1 238.06,311.50Q242.95,282.65 231.15,255.87A41.0,41.0 0 0 1 231.54,255.35Q243.77,282.68 238.95,312.22Z" fill="#90e05a" fill-opacity="0.75"/>
<path d="M237.84,311.32A41.0,41.0 0 0 1 236.97,310.56Q263.12,304.10 288.51,313.09A41.0,41.0 0 0 1 287.99,313.47Q263.23,304.87 237.84,311.32Z" fill="#90e05a" fill-opacity="0.75"/>
<path d="M236.76,310.37A41.0,41.0 0 0 1 235.92,309.59Q245.89,279.48 237.64,248.85A41.0,41.0 0 0 1 238.13,248.44Q246.73,279.61 236.76,310.37Z" fill="#90e05a" fill-opacity="0.75"/>
<path d="M234.71,308.38A41.0,41.0 0 0 1 234.05,307.67Q253.00,276.97 251.93,240.91A41.0,41.0 0 0 1 252.55,240.72Q253.78,277.23 234.71,308.38Z" fill="#3a3ad8" fill-opacity="0.75"/>
<path d="M233.86,307.46A41.0,41.0 0 0 1 233.22,306.74Q237.20,283.35 227.65,261.63A41.0,41.0 0 0 1 227.94,261.06Q237.86,283.37 233.86,307.46Z" fill="#3a3ad8" fill-opacity="0.75"/>
<path d="M233.03,306.52A41.0,41.0 0 0 1 232.41,305.77Q253.16,307.67 269.44,320.68A41.0,41.0 0 0 1 268.80,320.75Q253.05,308.27 233.03,306.52Z" fill="#3a3ad8" fill-opacity="0.75"/>
<path d="M232.24,305.55A41.0,41.0 0 0 1 231.64,304.79Q240.47,279.06 233.69,252.73A41.0,41.0 0 0 1 234.12,252.25Q241.17,279.18 232.24,305.55Z" fill="#3a3ad8" fill-opacity="0.75"/>
<path d="M230.63,303.40A41.0,41.0 0 0 1 230.09,302.60Q249.03,275.09 249.69,241.69A41.0,41.0 0 0 1 250.29,241.47Q249.75,275.38 230.63,303.40Z" fill="#3a3ad8" fill-opacity="0.75"/>
<path d="M229.93,302.36A41.0,41.0 0 0 1 229.42,301.54Q253.08,304.74 271.07,320.44A41.0,41.0 0 0 1 270.44,320.54Q252.91,305.37 229.93,302.36Z" fill="#9a32e0" fill-opacity="0.75"/>
<path d="M229.27,301.30A41.0,41.0 0 0 1 228.78,300.47Q249.53,274.16 252.38,240.77A41.0,41.0 0 0 1 252.99,240.59Q250.24,274.50 229.27,301.30Z" fill="#9a32e0" fill-opacity="0.75"/>
<path d="M228.63,300.22A41.0,41.0 0 0 1 228.17,299.37Q231.31,283.27 225.07,268.09A41.0,41.0 0 0 1 225.26,267.48Q231.86,283.34 228.63,300.22Z" fill="#9a32e0" fill-opacity="0.75"/>
<path d="M227.39,297.84A41.0,41.0 0 0 1 226.90,296.81Q249.30,303.27 264.44,321.00A41.0,41.0 0 0 1 263.79,321.00Q249.06,303.96 227.39,297.84Z" fill="#90e05a" fill-opacity="0.75"/>
<path d="M226.79,296.55A41.0,41.0 0 0 1 226.34,295.49Q248.33,272.05 253.78,240.37A41.0,41.0 0 0 1 254.41,240.21Q249.05,272.52 226.79,296.55Z" fill="#90e05a" fill-opacity="0.75"/>
<path d="M226.23,295.23A41.0,41.0 0 0 1 225.82,294.16Q239.18,302.38 245.81,316.60A41.0,41.0 0 0 1 245.24,316.30Q238.90,302.91 226.23,295.23Z" fill="#90e05a" fill-opacity="0.75"/>
<path d="M225.72,293.89A41.0,41.0 0 0 1 225.35,292.81Q239.07,272.27 239.21,247.57A41.0,41.0 0 0 1 239.72,247.18Q239.73,272.63 225.72,293.89Z" fill="#90e05a" fill-opacity="0.75"/>
<path d="M224.85,291.16A41.0,41.0 0 0 1 224.55,290.06Q245.98,300.25 258.27,320.55A41.0,41.0 0 0 1 257.63,320.45Q245.63,300.89 224.85,291.16Z" fill="#40c8c8" fill-opacity="0.75"/>
<path d="M224.48,289.78A41.0,41.0 0 0 1 224.23,288.66Q260.60,290.44 290.00,311.95A41.0,41.0 0 0 1 289.49,312.35Q260.37,291.31 224.48,289.78Z" fill="#3a3ad8" fill-opacity="0.75"/>
<path d="M224.17,288.38A41.0,41.0 0 0 1 223.95,287.26Q252.30,296.87 270.68,320.50A41.0,41.0 0 0 1 270.04,320.60Q251.94,297.61 224.17,288.38Z" fill="#d63222" fill-opacity="0.75"/>
<path d="M223.90,286.98A41.0,41.0 0 0 1 223.72,285.85Q257.43,292.76 281.77,317.09A41.0,41.0 0 0 1 281.19,317.36Q257.10,293.58 223.90,286.98Z" fill="#d63222" fill-opacity="0.75"/>
<path d="M223.51,284.14A41.0,41.0 0 0 1 223.41,283.00Q260.76,287.89 289.25,312.54A41.0,41.0 0 0 1 288.73,312.93Q260.44,288.75 223.51,284.14Z" fill="#5ccf5c" fill-opacity="0.75"/>
<path d="M223.39,282.72A41.0,41.0 0 0 1 223.33,281.57Q255.05,292.71 275.41,319.47A41.0,41.0 0 0 1 274.79,319.64Q254.63,293.47 223.39,282.72Z" fill="#e8902e" fill-opacity="0.75"/>
<path d="M223.32,281.29A41.0,41.0 0 0 1 223.30,280.14Q231.30,268.86 231.77,255.04A41.0,41.0 0 0 1 232.17,254.53Q231.76,269.24 223.32,281.29Z" fill="#e8902e" fill-opacity="0.75"/>
<path d="M223.30,279.86A41.0,41.0 0 0 1 223.32,278.71Q239.53,294.14 244.56,315.94A41.0,41.0 0 0 1 244.00,315.62Q239.02,294.63 223.30,279.86Z" fill="#e8902e" fill-opacity="0.75"/>
<path d="M301.76,296.68A41.0,41.0 0 0 1 300.77,298.74Q260.07,287.76 228.79,259.50A41.0,41.0 0 0 1 229.34,258.58Q260.98,286.32 301.76,296.68Z" fill="#cc4030" fill-opacity="0.45"/>
<path d="M300.50,299.25A41.0,41.0 0 0 1 299.37,301.24Q262.34,282.29 237.95,248.59A41.0,41.0 0 0 1 238.78,247.91Q263.48,280.99 300.50,299.25Z" fill="#cc4030" fill-opacity="0.45"/>
<path d="M299.07,301.73A41.0,41.0 0 0 1 297.80,303.63Q264.55,279.39 223.92,272.88A41.0,41.0 0 0 1 224.12,271.83Q265.18,277.78 299.07,301.73Z" fill="#cc4030" fill-opacity="0.45"/>
<path d="M297.47,304.10A41.0,41.0 0 0 1 296.07,305.91Q265.44,279.19 250.28,241.47A41.0,41.0 0 0 1 251.29,241.12Q266.82,278.15 297.47,304.10Z" fill="#cc4030" fill-opacity="0.45"/>
<path d="M295.71,306.35A41.0,41.0 0 0 1 294.19,308.07Q261.63,288.43 223.70,285.71A41.0,41.0 0 0 1 223.56,284.64Q262.24,286.84 295.71,306.35Z" fill="#cc4030" fill-opacity="0.45"/>
<path d="M293.29,308.99A41.0,41.0 0 0 1 291.63,310.56Q267.66,276.21 230.71,256.48A41.0,41.0 0 0 1 231.34,255.61Q268.72,274.87 293.29,308.99Z" fill="#cc4030" fill-opacity="0.45"/>
<path d="M291.20,310.94A41.0,41.0 0 0 1 289.43,312.40Q263.17,281.55 225.77,265.98A41.0,41.0 0 0 1 226.15,264.97Q264.19,280.15 291.20,310.94Z" fill="#cc4030" fill-opacity="0.45"/>
<path d="M287.23,313.99A41.0,41.0 0 0 1 285.42,315.14Q263.33,307.67 240.78,313.59A41.0,41.0 0 0 1 239.91,312.96Q263.72,306.38 287.23,313.99Z" fill="#6fd890" fill-opacity="0.6"/>
<path d="M283.55,316.20A41.0,41.0 0 0 1 281.63,317.16Q257.36,299.07 227.14,297.33A41.0,41.0 0 0 1 226.70,296.35Q258.10,297.75 283.55,316.20Z" fill="#6fd890" fill-opacity="0.6"/>
<path d="M279.66,318.01A41.0,41.0 0 0 1 277.65,318.77Q259.63,284.59 225.77,265.98A41.0,41.0 0 0 1 226.15,264.97Q260.86,283.47 279.66,318.01Z" fill="#6fd890" fill-opacity="0.6"/>
<path d="M275.60,319.41A41.0,41.0 0 0 1 273.52,319.95Q262.11,315.75 250.28,318.53A41.0,41.0 0 0 1 249.27,318.15Q262.63,314.83 275.60,319.41Z" fill="#6fd890" fill-opacity="0.6"/>
<path d="M271.42,320.38A41.0,41.0 0 0 1 269.30,320.69Q264.44,279.94 237.95,248.59A41.0,41.0 0 0 1 238.78,247.91Q265.97,279.25 271.42,320.38Z" fill="#6fd890" fill-opacity="0.6"/>
<path d="M267.16,320.90A41.0,41.0 0 0 1 265.02,320.99Q250.31,294.24 223.30,280.00A41.0,41.0 0 0 1 223.31,278.93Q251.53,293.34 267.16,320.90Z" fill="#6fd890" fill-opacity="0.6"/>
<path d="M262.87,320.98A41.0,41.0 0 0 1 260.73,320.84Q248.98,309.42 232.89,306.35A41.0,41.0 0 0 1 232.21,305.52Q249.86,308.65 262.87,320.98Z" fill="#6fd890" fill-opacity="0.6"/>
<path d="M265.02,239.01A41.0,41.0 0 0 1 265.66,239.02Q261.51,240.33 257.23,239.61A41.0,41.0 0 0 1 257.72,239.53Q261.43,240.14 265.02,239.01Z" fill="#9a40e0" fill-opacity="0.8"/>
<path d="M269.30,239.31A41.0,41.0 0 0 1 269.94,239.39Q251.63,265.83 223.31,281.09A41.0,41.0 0 0 1 223.30,280.59Q251.25,265.46 269.30,239.31Z" fill="#7a50d0" fill-opacity="0.8"/>
<path d="M273.52,240.05A41.0,41.0 0 0 1 274.15,240.20Q255.26,251.63 233.24,253.24A41.0,41.0 0 0 1 233.57,252.86Q255.08,251.25 273.52,240.05Z" fill="#7a50d0" fill-opacity="0.8"/>
<path d="M277.65,241.23A41.0,41.0 0 0 1 278.26,241.45Q263.51,245.34 248.61,242.12A41.0,41.0 0 0 1 249.07,241.93Q263.44,245.01 277.65,241.23Z" fill="#a040e0" fill-opacity="0.8"/>
<path d="M281.63,242.84A41.0,41.0 0 0 1 282.21,243.12Q256.66,262.12 225.27,267.46A41.0,41.0 0 0 1 225.42,266.98Q256.42,261.66 281.63,242.84Z" fill="#5a50d8" fill-opacity="0.8"/>
<path d="M285.42,244.86A41.0,41.0 0 0 1 285.97,245.19Q259.19,258.89 229.12,258.95A41.0,41.0 0 0 1 229.38,258.52Q259.04,258.41 285.42,244.86Z" fill="#5a50d8" fill-opacity="0.8"/>
<path d="M288.97,247.26A41.0,41.0 0 0 1 289.49,247.65Q269.67,248.93 251.43,241.07A41.0,41.0 0 0 1 251.91,240.92Q269.68,248.53 288.97,247.26Z" fill="#9a40e0" fill-opacity="0.8"/>
<path d="M292.26,250.01A41.0,41.0 0 0 1 292.73,250.46Q261.02,269.91 223.93,272.84A41.0,41.0 0 0 1 224.02,272.35Q260.82,269.37 292.26,250.01Z" fill="#7a50d0" fill-opacity="0.8"/>
<path d="M295.24,253.10A41.0,41.0 0 0 1 295.66,253.59Q262.42,266.72 226.84,263.33A41.0,41.0 0 0 1 227.05,262.87Q262.32,266.17 295.24,253.10Z" fill="#5a50d8" fill-opacity="0.8"/>
<path d="M297.89,256.48A41.0,41.0 0 0 1 298.25,257.01Q269.96,256.88 244.82,243.93A41.0,41.0 0 0 1 245.26,243.69Q270.04,256.40 297.89,256.48Z" fill="#9a40e0" fill-opacity="0.8"/>
<path d="M300.16,260.12A41.0,41.0 0 0 1 300.47,260.69Q267.01,263.22 236.05,250.28A41.0,41.0 0 0 1 236.42,249.94Q267.07,262.68 300.16,260.12Z" fill="#9a40e0" fill-opacity="0.8"/>
<path d="M302.04,263.98A41.0,41.0 0 0 1 302.29,264.57Q266.90,266.28 234.60,251.74A41.0,41.0 0 0 1 234.95,251.37Q266.98,265.73 302.04,263.98Z" fill="#5a50d8" fill-opacity="0.8"/>
<path d="M303.51,268.01A41.0,41.0 0 0 1 303.69,268.63Q271.96,262.76 246.35,243.14A41.0,41.0 0 0 1 246.80,242.92Q272.14,262.27 303.51,268.01Z" fill="#5a50d8" fill-opacity="0.8"/>
<path d="M304.55,272.18A41.0,41.0 0 0 1 304.66,272.81Q279.15,261.10 261.74,239.08A41.0,41.0 0 0 1 262.24,239.05Q279.42,260.69 304.55,272.18Z" fill="#7a50d0" fill-opacity="0.8"/>
<path d="M305.14,276.43A41.0,41.0 0 0 1 305.20,277.07Q270.71,268.03 244.09,244.33A41.0,41.0 0 0 1 244.53,244.08Q270.95,267.53 305.14,276.43Z" fill="#7a50d0" fill-opacity="0.8"/>
<path d="M305.29,280.72A41.0,41.0 0 0 1 305.28,281.36Q269.62,270.79 242.64,245.19A41.0,41.0 0 0 1 243.07,244.92Q269.89,270.29 305.29,280.72Z" fill="#a040e0" fill-opacity="0.8"/>
<path d="M304.99,285.00A41.0,41.0 0 0 1 304.91,285.64Q268.06,273.81 240.59,246.55A41.0,41.0 0 0 1 241.00,246.26Q268.35,273.31 304.99,285.00Z" fill="#7a50d0" fill-opacity="0.8"/>
<path d="M304.25,289.22A41.0,41.0 0 0 1 304.10,289.85Q262.04,287.58 225.59,266.48A41.0,41.0 0 0 1 225.76,266.00Q262.22,287.03 304.25,289.22Z" fill="#9a40e0" fill-opacity="0.8"/>
<path d="M271.42,239.62A41.0,41.0 0 0 1 278.99,241.72Q245.79,275.56 260.01,320.78A41.0,41.0 0 0 1 252.31,319.21Q285.74,285.15 271.42,239.62Z" fill="#a035e0" fill-opacity="0.78"/>
<path d="M280.32,242.26A41.0,41.0 0 0 1 286.63,245.61Q255.10,278.13 271.42,320.38A41.0,41.0 0 0 1 264.30,321.00Q247.11,276.50 280.32,242.26Z" fill="#a035e0" fill-opacity="0.78"/>
<path d="M287.82,246.41A41.0,41.0 0 0 1 293.29,251.01Q265.87,280.29 280.98,317.46A41.0,41.0 0 0 1 274.22,319.78Q257.54,278.75 287.82,246.41Z" fill="#a035e0" fill-opacity="0.78"/>
<path d="M294.29,252.04A41.0,41.0 0 0 1 298.69,257.67Q276.06,282.39 287.23,313.99A41.0,41.0 0 0 1 282.27,316.85Q268.84,280.84 294.29,252.04Z" fill="#a035e0" fill-opacity="0.78"/>
<path d="M299.44,258.88A41.0,41.0 0 0 1 302.58,265.31Q286.03,284.03 294.77,307.43A41.0,41.0 0 0 1 290.10,311.86Q278.88,282.57 299.44,258.88Z" fill="#a035e0" fill-opacity="0.78"/>
<path d="M303.07,266.65A41.0,41.0 0 0 1 304.99,275.00Q296.87,284.87 301.76,296.68A41.0,41.0 0 0 1 297.47,304.10Q289.03,283.70 303.07,266.65Z" fill="#a035e0" fill-opacity="0.78"/>
<path d="M265.02,239.01A41.0,41.0 0 0 1 267.16,239.10Q261.39,278.64 234.81,308.48A41.0,41.0 0 0 1 232.89,306.35Q259.06,277.50 265.02,239.01Z" fill="#a035e0" fill-opacity="0.78"/>
<path d="M267.87,239.16A41.0,41.0 0 0 1 270.01,239.40Q267.60,281.20 242.57,314.77A41.0,41.0 0 0 1 240.20,313.17Q265.14,280.31 267.87,239.16Z" fill="#a035e0" fill-opacity="0.78"/>
<path d="M305.08,275.71A41.0,41.0 0 0 1 305.28,278.57Q270.90,289.61 248.28,317.74A41.0,41.0 0 0 1 245.05,316.20Q268.99,286.95 305.08,275.71Z" fill="#a035e0" fill-opacity="0.78"/>
<path d="M305.30,280.00A41.0,41.0 0 0 1 305.20,282.86Q264.74,281.66 230.31,302.93A41.0,41.0 0 0 1 228.79,300.50Q263.97,278.77 305.30,280.00Z" fill="#a035e0" fill-opacity="0.78"/>
<path d="M305.08,284.29A41.0,41.0 0 0 1 304.55,287.82Q264.48,281.33 227.45,297.97A41.0,41.0 0 0 1 226.02,294.69Q263.99,277.63 305.08,284.29Z" fill="#a035e0" fill-opacity="0.78"/>
<path d="M304.40,288.52A41.0,41.0 0 0 1 303.07,293.35Q264.29,280.22 224.70,290.61A41.0,41.0 0 0 1 223.70,285.71Q264.47,275.01 304.40,288.52Z" fill="#a035e0" fill-opacity="0.78"/>
<path d="M264.69,235.60A44.4,44.4 0 0 1 306.02,295.19L303.20,294.16A41.4,41.4 0 0 0 264.66,238.60Z" fill="#9a32e0"/>
<path d="M264.66,238.60A41.4,41.4 0 0 1 265.81,238.63L265.78,239.53A40.5,40.5 0 0 0 264.65,239.50Z" fill="#66a6e0"/>
<path d="M265.81,238.63A41.4,41.4 0 0 1 267.84,238.75L267.76,239.65A40.5,40.5 0 0 0 265.78,239.53Z" fill="#c833d8"/>
<path d="M267.84,238.75A41.4,41.4 0 0 1 269.70,238.95L269.58,239.85A40.5,40.5 0 0 0 267.76,239.65Z" fill="#e8902e"/>
<path d="M269.70,238.95A41.4,41.4 0 0 1 271.67,239.26L271.51,240.15A40.5,40.5 0 0 0 269.58,239.85Z" fill="#3a3ad8"/>
<path d="M271.67,239.26A41.4,41.4 0 0 1 272.95,239.51L272.77,240.39A40.5,40.5 0 0 0 271.51,240.15Z" fill="#90e05a"/>
<path d="M272.95,239.51A41.4,41.4 0 0 1 274.20,239.80L273.99,240.68A40.5,40.5 0 0 0 272.77,240.39Z" fill="#90e05a"/>
<path d="M274.20,239.80A41.4,41.4 0 0 1 275.51,240.15L275.27,241.01A40.5,40.5 0 0 0 273.99,240.68Z" fill="#66a6e0"/>
<path d="M275.51,240.15A41.4,41.4 0 0 1 276.79,240.53L276.52,241.39A40.5,40.5 0 0 0 275.27,241.01Z" fill="#3a3ad8"/>
<path d="M276.79,240.53A41.4,41.4 0 0 1 278.57,241.14L278.26,241.98A40.5,40.5 0 0 0 276.52,241.39Z" fill="#c833d8"/>
<path d="M278.57,241.14A41.4,41.4 0 0 1 279.48,241.48L279.15,242.32A40.5,40.5 0 0 0 278.26,241.98Z" fill="#40c8c8"/>
<path d="M279.48,241.48A41.4,41.4 0 0 1 281.03,242.13L280.66,242.95A40.5,40.5 0 0 0 279.15,242.32Z" fill="#7fe3bd"/>
<path d="M281.03,242.13A41.4,41.4 0 0 1 282.90,243.01L282.50,243.82A40.5,40.5 0 0 0 280.66,242.95Z" fill="#9a32e0"/>
<path d="M282.90,243.01A41.4,41.4 0 0 1 283.90,243.53L283.47,244.32A40.5,40.5 0 0 0 282.50,243.82Z" fill="#e3e334"/>
<path d="M283.90,243.53A41.4,41.4 0 0 1 284.80,244.03L284.35,244.81A40.5,40.5 0 0 0 283.47,244.32Z" fill="#c833d8"/>
<path d="M284.80,244.03A41.4,41.4 0 0 1 286.12,244.82L285.65,245.58A40.5,40.5 0 0 0 284.35,244.81Z" fill="#3a3ad8"/>
<path d="M286.12,244.82A41.4,41.4 0 0 1 287.42,245.66L286.92,246.40A40.5,40.5 0 0 0 285.65,245.58Z" fill="#9a32e0"/>
<path d="M287.42,245.66A41.4,41.4 0 0 1 289.15,246.89L288.61,247.61A40.5,40.5 0 0 0 286.92,246.40Z" fill="#5ccf5c"/>
<path d="M289.15,246.89A41.4,41.4 0 0 1 290.73,248.14L290.16,248.83A40.5,40.5 0 0 0 288.61,247.61Z" fill="#5ccf5c"/>
<path d="M290.73,248.14A41.4,41.4 0 0 1 292.21,249.43L291.61,250.09A40.5,40.5 0 0 0 290.16,248.83Z" fill="#40c8c8"/>
<path d="M292.21,249.43A41.4,41.4 0 0 1 293.21,250.37L292.58,251.01A40.5,40.5 0 0 0 291.61,250.09Z" fill="#90e05a"/>
<path d="M293.21,250.37A41.4,41.4 0 0 1 294.41,251.59L293.76,252.21A40.5,40.5 0 0 0 292.58,251.01Z" fill="#9a32e0"/>
<path d="M294.41,251.59A41.4,41.4 0 0 1 295.83,253.17L295.15,253.75A40.5,40.5 0 0 0 293.76,252.21Z" fill="#90e05a"/>
<path d="M295.83,253.17A41.4,41.4 0 0 1 296.49,253.97L295.79,254.54A40.5,40.5 0 0 0 295.15,253.75Z" fill="#9a32e0"/>
<path d="M296.49,253.97A41.4,41.4 0 0 1 297.50,255.26L296.77,255.80A40.5,40.5 0 0 0 295.79,254.54Z" fill="#40c8c8"/>
<path d="M297.50,255.26A41.4,41.4 0 0 1 298.54,256.73L297.80,257.24A40.5,40.5 0 0 0 296.77,255.80Z" fill="#c833d8"/>
<path d="M298.54,256.73A41.4,41.4 0 0 1 299.59,258.35L298.82,258.82A40.5,40.5 0 0 0 297.80,257.24Z" fill="#d63222"/>
<path d="M299.59,258.35A41.4,41.4 0 0 1 300.11,259.22L299.33,259.68A40.5,40.5 0 0 0 298.82,258.82Z" fill="#9a32e0"/>
<path d="M300.11,259.22A41.4,41.4 0 0 1 301.01,260.86L300.21,261.27A40.5,40.5 0 0 0 299.33,259.68Z" fill="#9a32e0"/>
<path d="M301.01,260.86A41.4,41.4 0 0 1 301.45,261.73L300.64,262.13A40.5,40.5 0 0 0 300.21,261.27Z" fill="#66a6e0"/>
<path d="M301.45,261.73A41.4,41.4 0 0 1 302.23,263.41L301.40,263.77A40.5,40.5 0 0 0 300.64,262.13Z" fill="#7fe3bd"/>
<path d="M302.23,263.41A41.4,41.4 0 0 1 302.74,264.63L301.90,264.96A40.5,40.5 0 0 0 301.40,263.77Z" fill="#c833d8"/>
<path d="M302.74,264.63A41.4,41.4 0 0 1 303.48,266.63L302.63,266.92A40.5,40.5 0 0 0 301.90,264.96Z" fill="#7fe3bd"/>
<path d="M303.48,266.63A41.4,41.4 0 0 1 303.82,267.67L302.96,267.94A40.5,40.5 0 0 0 302.63,266.92Z" fill="#c833d8"/>
<path d="M303.82,267.67A41.4,41.4 0 0 1 304.15,268.78L303.28,269.03A40.5,40.5 0 0 0 302.96,267.94Z" fill="#c833d8"/>
<path d="M304.15,268.78A41.4,41.4 0 0 1 304.64,270.70L303.77,270.91A40.5,40.5 0 0 0 303.28,269.03Z" fill="#9a32e0"/>
<path d="M304.64,270.70A41.4,41.4 0 0 1 305.06,272.74L304.17,272.89A40.5,40.5 0 0 0 303.77,270.91Z" fill="#40c8c8"/>
<path d="M305.06,272.74A41.4,41.4 0 0 1 305.22,273.73L304.33,273.87A40.5,40.5 0 0 0 304.17,272.89Z" fill="#40c8c8"/>
<path d="M305.22,273.73A41.4,41.4 0 0 1 305.37,274.77L304.48,274.88A40.5,40.5 0 0 0 304.33,273.87Z" fill="#9a32e0"/>
<path d="M305.37,274.77A41.4,41.4 0 0 1 305.49,275.88L304.60,275.97A40.5,40.5 0 0 0 304.48,274.88Z" fill="#5ccf5c"/>
<path d="M305.49,275.88A41.4,41.4 0 0 1 305.64,277.70L304.74,277.75A40.5,40.5 0 0 0 304.60,275.97Z" fill="#5ccf5c"/>
<path d="M305.64,277.70A41.4,41.4 0 0 1 305.70,279.38L304.80,279.39A40.5,40.5 0 0 0 304.74,277.75Z" fill="#9a32e0"/>
<path d="M305.70,279.38A41.4,41.4 0 0 1 305.70,280.60L304.80,280.59A40.5,40.5 0 0 0 304.80,279.39Z" fill="#3a3ad8"/>
<path d="M305.70,280.60A41.4,41.4 0 0 1 305.67,281.55L304.77,281.52A40.5,40.5 0 0 0 304.80,280.59Z" fill="#66a6e0"/>
<path d="M305.67,281.55A41.4,41.4 0 0 1 305.63,282.45L304.73,282.40A40.5,40.5 0 0 0 304.77,281.52Z" fill="#66a6e0"/>
<path d="M305.63,282.45A41.4,41.4 0 0 1 305.52,283.91L304.62,283.82A40.5,40.5 0 0 0 304.73,282.40Z" fill="#3a3ad8"/>
<path d="M305.52,283.91A41.4,41.4 0 0 1 305.42,284.79L304.53,284.68A40.5,40.5 0 0 0 304.62,283.82Z" fill="#9a32e0"/>
<path d="M305.42,284.79A41.4,41.4 0 0 1 305.29,285.78L304.40,285.65A40.5,40.5 0 0 0 304.53,284.68Z" fill="#40c8c8"/>
<path d="M305.29,285.78A41.4,41.4 0 0 1 305.09,287.06L304.21,286.91A40.5,40.5 0 0 0 304.40,285.65Z" fill="#9a32e0"/>
<path d="M305.09,287.06A41.4,41.4 0 0 1 304.71,288.98L303.84,288.79A40.5,40.5 0 0 0 304.21,286.91Z" fill="#5ccf5c"/>
<path d="M304.71,288.98A41.4,41.4 0 0 1 304.47,290.01L303.60,289.79A40.5,40.5 0 0 0 303.84,288.79Z" fill="#9a32e0"/>
<path d="M304.47,290.01A41.4,41.4 0 0 1 304.20,291.03L303.34,290.79A40.5,40.5 0 0 0 303.60,289.79Z" fill="#66a6e0"/>
<path d="M304.20,291.03A41.4,41.4 0 0 1 303.67,292.81L302.81,292.53A40.5,40.5 0 0 0 303.34,290.79Z" fill="#9a32e0"/>
<path d="M303.67,292.81A41.4,41.4 0 0 1 303.22,294.13L302.37,293.82A40.5,40.5 0 0 0 302.81,292.53Z" fill="#3a3ad8"/>
<path d="M305.17,297.35A44.4,44.4 0 0 1 291.02,315.46L289.22,313.06A41.4,41.4 0 0 0 302.41,296.18Z" fill="#d63222"/>
<path d="M302.41,296.18A41.4,41.4 0 0 1 301.54,298.09L300.73,297.69A40.5,40.5 0 0 0 301.58,295.82Z" fill="#c833d8"/>
<path d="M301.54,298.09A41.4,41.4 0 0 1 301.09,298.98L300.29,298.57A40.5,40.5 0 0 0 300.73,297.69Z" fill="#e8902e"/>
<path d="M301.09,298.98A41.4,41.4 0 0 1 300.45,300.17L299.67,299.73A40.5,40.5 0 0 0 300.29,298.57Z" fill="#c833d8"/>
<path d="M300.45,300.17A41.4,41.4 0 0 1 299.57,301.68L298.80,301.21A40.5,40.5 0 0 0 299.67,299.73Z" fill="#e8902e"/>
<path d="M299.57,301.68A41.4,41.4 0 0 1 298.92,302.71L298.17,302.21A40.5,40.5 0 0 0 298.80,301.21Z" fill="#e8902e"/>
<path d="M298.92,302.71A41.4,41.4 0 0 1 298.35,303.56L297.61,303.04A40.5,40.5 0 0 0 298.17,302.21Z" fill="#d63222"/>
<path d="M298.35,303.56A41.4,41.4 0 0 1 297.69,304.47L296.97,303.94A40.5,40.5 0 0 0 297.61,303.04Z" fill="#d63222"/>
<path d="M297.69,304.47A41.4,41.4 0 0 1 296.38,306.18L295.68,305.61A40.5,40.5 0 0 0 296.97,303.94Z" fill="#c833d8"/>
<path d="M296.38,306.18A41.4,41.4 0 0 1 295.45,307.27L294.77,306.68A40.5,40.5 0 0 0 295.68,305.61Z" fill="#90e05a"/>
<path d="M295.45,307.27A41.4,41.4 0 0 1 294.16,308.68L293.51,308.06A40.5,40.5 0 0 0 294.77,306.68Z" fill="#d63222"/>
<path d="M294.16,308.68A41.4,41.4 0 0 1 293.23,309.61L292.60,308.97A40.5,40.5 0 0 0 293.51,308.06Z" fill="#d63222"/>
<path d="M293.23,309.61A41.4,41.4 0 0 1 291.94,310.82L291.34,310.15A40.5,40.5 0 0 0 292.60,308.97Z" fill="#90e05a"/>
<path d="M291.94,310.82A41.4,41.4 0 0 1 290.84,311.77L290.27,311.08A40.5,40.5 0 0 0 291.34,310.15Z" fill="#d63222"/>
<path d="M290.84,311.77A41.4,41.4 0 0 1 289.38,312.94L288.84,312.22A40.5,40.5 0 0 0 290.27,311.08Z" fill="#d63222"/>
<path d="M289.77,316.37A44.4,44.4 0 0 1 258.12,323.97L258.54,321.00A41.4,41.4 0 0 0 288.05,313.91Z" fill="#7fe3bd"/>
<path d="M288.05,313.91A41.4,41.4 0 0 1 286.52,314.93L286.03,314.17A40.5,40.5 0 0 0 287.53,313.18Z" fill="#66a6e0"/>
<path d="M286.52,314.93A41.4,41.4 0 0 1 284.68,316.04L284.23,315.26A40.5,40.5 0 0 0 286.03,314.17Z" fill="#3a3ad8"/>
<path d="M284.68,316.04A41.4,41.4 0 0 1 283.31,316.78L282.90,315.98A40.5,40.5 0 0 0 284.23,315.26Z" fill="#e8902e"/>
<path d="M283.31,316.78A41.4,41.4 0 0 1 281.88,317.48L281.50,316.67A40.5,40.5 0 0 0 282.90,315.98Z" fill="#90e05a"/>
<path d="M281.88,317.48A41.4,41.4 0 0 1 280.89,317.93L280.53,317.11A40.5,40.5 0 0 0 281.50,316.67Z" fill="#3a3ad8"/>
<path d="M280.89,317.93A41.4,41.4 0 0 1 279.71,318.43L279.37,317.59A40.5,40.5 0 0 0 280.53,317.11Z" fill="#7fe3bd"/>
<path d="M279.71,318.43A41.4,41.4 0 0 1 278.20,319.00L277.90,318.15A40.5,40.5 0 0 0 279.37,317.59Z" fill="#7fe3bd"/>
<path d="M278.20,319.00A41.4,41.4 0 0 1 277.19,319.34L276.91,318.49A40.5,40.5 0 0 0 277.90,318.15Z" fill="#3a3ad8"/>
<path d="M277.19,319.34A41.4,41.4 0 0 1 276.03,319.70L275.77,318.84A40.5,40.5 0 0 0 276.91,318.49Z" fill="#90e05a"/>
<path d="M276.03,319.70A41.4,41.4 0 0 1 274.31,320.17L274.09,319.30A40.5,40.5 0 0 0 275.77,318.84Z" fill="#5ccf5c"/>
<path d="M274.31,320.17A41.4,41.4 0 0 1 273.19,320.43L272.99,319.56A40.5,40.5 0 0 0 274.09,319.30Z" fill="#7fe3bd"/>
<path d="M273.19,320.43A41.4,41.4 0 0 1 272.12,320.65L271.95,319.77A40.5,40.5 0 0 0 272.99,319.56Z" fill="#3a3ad8"/>
<path d="M272.12,320.65A41.4,41.4 0 0 1 271.15,320.83L271.00,319.94A40.5,40.5 0 0 0 271.95,319.77Z" fill="#5ccf5c"/>
<path d="M271.15,320.83A41.4,41.4 0 0 1 269.55,321.07L269.44,320.17A40.5,40.5 0 0 0 271.00,319.94Z" fill="#5ccf5c"/>
<path d="M269.55,321.07A41.4,41.4 0 0 1 268.45,321.19L268.36,320.30A40.5,40.5 0 0 0 269.44,320.17Z" fill="#66a6e0"/>
<path d="M268.45,321.19A41.4,41.4 0 0 1 267.30,321.29L267.24,320.39A40.5,40.5 0 0 0 268.36,320.30Z" fill="#e3e334"/>
<path d="M267.30,321.29A41.4,41.4 0 0 1 265.28,321.39L265.26,320.49A40.5,40.5 0 0 0 267.24,320.39Z" fill="#40c8c8"/>
<path d="M265.28,321.39A41.4,41.4 0 0 1 263.95,321.40L263.95,320.50A40.5,40.5 0 0 0 265.26,320.49Z" fill="#66a6e0"/>
<path d="M263.95,321.40A41.4,41.4 0 0 1 262.13,321.34L262.17,320.44A40.5,40.5 0 0 0 263.95,320.50Z" fill="#e3e334"/>
<path d="M262.13,321.34A41.4,41.4 0 0 1 261.19,321.28L261.26,320.39A40.5,40.5 0 0 0 262.17,320.44Z" fill="#40c8c8"/>
<path d="M261.19,321.28A41.4,41.4 0 0 1 260.06,321.18L260.15,320.29A40.5,40.5 0 0 0 261.26,320.39Z" fill="#e8902e"/>
<path d="M260.06,321.18A41.4,41.4 0 0 1 258.85,321.04L258.97,320.15A40.5,40.5 0 0 0 260.15,320.29Z" fill="#66a6e0"/>
<path d="M256.59,323.73A44.4,44.4 0 0 1 246.24,320.56L247.46,317.82A41.4,41.4 0 0 0 257.11,320.77Z" fill="#9a32e0"/>
<path d="M257.11,320.77A41.4,41.4 0 0 1 255.01,320.34L255.21,319.47A40.5,40.5 0 0 0 257.27,319.88Z" fill="#3a3ad8"/>
<path d="M255.01,320.34A41.4,41.4 0 0 1 253.56,319.98L253.79,319.11A40.5,40.5 0 0 0 255.21,319.47Z" fill="#66a6e0"/>
<path d="M253.56,319.98A41.4,41.4 0 0 1 252.09,319.56L252.36,318.70A40.5,40.5 0 0 0 253.79,319.11Z" fill="#d63222"/>
<path d="M252.09,319.56A41.4,41.4 0 0 1 250.96,319.19L251.25,318.34A40.5,40.5 0 0 0 252.36,318.70Z" fill="#90e05a"/>
<path d="M250.96,319.19A41.4,41.4 0 0 1 249.36,318.61L249.69,317.77A40.5,40.5 0 0 0 251.25,318.34Z" fill="#5ccf5c"/>
<path d="M249.36,318.61A41.4,41.4 0 0 1 248.19,318.14L248.54,317.31A40.5,40.5 0 0 0 249.69,317.77Z" fill="#e3e334"/>
<path d="M248.19,318.14A41.4,41.4 0 0 1 247.46,317.82L247.83,317.00A40.5,40.5 0 0 0 248.54,317.31Z" fill="#9a32e0"/>
<path d="M244.84,319.91A44.4,44.4 0 0 1 239.47,316.81L241.15,314.32A41.4,41.4 0 0 0 246.15,317.21Z" fill="#3a3ad8"/>
<path d="M238.20,315.92A44.4,44.4 0 0 1 233.46,311.94L235.54,309.78A41.4,41.4 0 0 0 239.97,313.49Z" fill="#90e05a"/>
<path d="M232.36,310.84A44.4,44.4 0 0 1 228.84,306.72L231.24,304.92A41.4,41.4 0 0 0 234.52,308.76Z" fill="#3a3ad8"/>
<path d="M227.93,305.47A44.4,44.4 0 0 1 225.10,300.84L227.75,299.44A41.4,41.4 0 0 0 230.39,303.75Z" fill="#9a32e0"/>
<path d="M224.39,299.46A44.4,44.4 0 0 1 222.07,293.72L224.93,292.79A41.4,41.4 0 0 0 227.09,298.15Z" fill="#90e05a"/>
<path d="M221.62,292.24A44.4,44.4 0 0 1 220.33,286.18L223.30,285.76A41.4,41.4 0 0 0 224.50,291.41Z" fill="#d63222"/>
<path d="M220.14,284.64A44.4,44.4 0 0 1 219.93,278.45L222.93,278.56A41.4,41.4 0 0 0 223.13,284.33Z" fill="#e8902e"/>
<path d="M220.01,276.90A44.4,44.4 0 0 1 220.38,273.46L223.35,273.91A41.4,41.4 0 0 0 223.00,277.11Z" fill="#90e05a"/>
<path d="M220.50,272.70A44.4,44.4 0 0 1 221.37,268.68L224.27,269.45A41.4,41.4 0 0 0 223.46,273.19Z" fill="#3a3ad8"/>
<path d="M221.57,267.93A44.4,44.4 0 0 1 222.84,264.10L225.65,265.17A41.4,41.4 0 0 0 224.46,268.75Z" fill="#9a32e0"/>
<path d="M223.13,263.38A44.4,44.4 0 0 1 224.72,259.88L227.40,261.24A41.4,41.4 0 0 0 225.91,264.50Z" fill="#5ccf5c"/>
<path d="M225.08,259.19A44.4,44.4 0 0 1 226.85,256.15L229.38,257.76A41.4,41.4 0 0 0 227.73,260.60Z" fill="#e8902e"/>
<path d="M227.27,255.50A44.4,44.4 0 0 1 229.78,252.08L232.11,253.97A41.4,41.4 0 0 0 229.78,257.15Z" fill="#90e05a"/>
<path d="M230.27,251.48A44.4,44.4 0 0 1 233.16,248.36L235.26,250.49A41.4,41.4 0 0 0 232.57,253.41Z" fill="#7fe3bd"/>
<path d="M233.71,247.82A44.4,44.4 0 0 1 236.65,245.26L238.51,247.61A41.4,41.4 0 0 0 235.78,249.99Z" fill="#40c8c8"/>
<path d="M237.26,244.79A44.4,44.4 0 0 1 240.43,242.56L242.05,245.09A41.4,41.4 0 0 0 239.08,247.17Z" fill="#3a3ad8"/>
<path d="M241.09,242.15A44.4,44.4 0 0 1 242.10,241.55L243.60,244.15A41.4,41.4 0 0 0 242.66,244.71Z" fill="#b8e040"/>
<path d="M242.77,241.17A44.4,44.4 0 0 1 243.87,240.58L245.25,243.24A41.4,41.4 0 0 0 244.23,243.79Z" fill="#7fe3bd"/>
<path d="M244.42,240.30A44.4,44.4 0 0 1 245.75,239.66L247.00,242.39A41.4,41.4 0 0 0 245.76,242.98Z" fill="#3a3ad8"/>
<path d="M246.31,239.41A44.4,44.4 0 0 1 247.79,238.78L248.90,241.57A41.4,41.4 0 0 0 247.53,242.15Z" fill="#66a6e0"/>
<path d="M248.37,238.56A44.4,44.4 0 0 1 249.57,238.11L250.56,240.95A41.4,41.4 0 0 0 249.44,241.36Z" fill="#e3e334"/>
<path d="M250.16,237.91A44.4,44.4 0 0 1 251.81,237.39L252.65,240.27A41.4,41.4 0 0 0 251.11,240.76Z" fill="#7fe3bd"/>
<path d="M252.40,237.22A44.4,44.4 0 0 1 253.74,236.87L254.46,239.79A41.4,41.4 0 0 0 253.21,240.11Z" fill="#9a32e0"/>
<path d="M254.35,236.73A44.4,44.4 0 0 1 255.70,236.44L256.28,239.38A41.4,41.4 0 0 0 255.02,239.65Z" fill="#e3e334"/>
<path d="M256.31,236.33A44.4,44.4 0 0 1 257.56,236.12L258.01,239.08A41.4,41.4 0 0 0 256.85,239.28Z" fill="#3a3ad8"/>
<path d="M258.17,236.03A44.4,44.4 0 0 1 260.02,235.81L260.30,238.79A41.4,41.4 0 0 0 258.58,239.00Z" fill="#66a6e0"/>
<path d="M260.63,235.75A44.4,44.4 0 0 1 262.33,235.64L262.46,238.64A41.4,41.4 0 0 0 260.88,238.74Z" fill="#e8902e"/>
<path d="M262.95,235.62A44.4,44.4 0 0 1 263.91,235.60L263.94,238.60A41.4,41.4 0 0 0 263.04,238.62Z" fill="#7fe3bd"/>
<path d="M419.89,231.51A53.5,53.5 0 0 1 442.22,226.50L442.23,227.90A52.1,52.1 0 0 0 420.48,232.78Z" fill="#4aa0e0"/>
<path d="M442.69,226.50A53.5,53.5 0 0 1 460.80,229.73L460.32,231.04A52.1,52.1 0 0 0 442.68,227.90Z" fill="#8fe050"/>
<path d="M461.24,229.89A53.5,53.5 0 0 1 481.63,243.51L480.60,244.47A52.1,52.1 0 0 0 460.75,231.20Z" fill="#c030d8"/>
<path d="M481.94,243.86A53.5,53.5 0 0 1 490.17,255.71L488.92,256.35A52.1,52.1 0 0 0 480.91,244.80Z" fill="#d63222"/>
<path d="M490.38,256.13A53.5,53.5 0 0 1 495.60,273.48L494.21,273.65A52.1,52.1 0 0 0 489.13,256.75Z" fill="#3050e0"/>
<path d="M495.66,273.94A53.5,53.5 0 0 1 496.00,280.00L494.60,280.00A52.1,52.1 0 0 0 494.27,274.10Z" fill="#e8902e"/>
<path d="M496.00,280.47A53.5,53.5 0 0 1 495.87,283.73L494.47,283.63A52.1,52.1 0 0 0 494.60,280.45Z" fill="#e3e334"/>
<path d="M495.84,284.20A53.5,53.5 0 0 1 484.66,312.94L483.56,312.08A52.1,52.1 0 0 0 494.44,284.09Z" fill="#4aa0e0"/>
<path d="M484.37,313.30A53.5,53.5 0 0 1 481.63,316.49L480.60,315.53A52.1,52.1 0 0 0 483.27,312.43Z" fill="#3050e0"/>
<path d="M481.31,316.83A53.5,53.5 0 0 1 476.89,320.98L475.99,319.91A52.1,52.1 0 0 0 480.29,315.86Z" fill="#d63222"/>
<path d="M476.53,321.28A53.5,53.5 0 0 1 469.25,326.33L468.55,325.12A52.1,52.1 0 0 0 475.64,320.20Z" fill="#4aa0e0"/>
<path d="M468.84,326.56A53.5,53.5 0 0 1 463.40,329.25L462.86,327.96A52.1,52.1 0 0 0 468.16,325.35Z" fill="#8fe050"/>
<path d="M462.97,329.43A53.5,53.5 0 0 1 459.92,330.59L459.46,329.26A52.1,52.1 0 0 0 462.44,328.13Z" fill="#9a32e0"/>
<path d="M459.48,330.74A53.5,53.5 0 0 1 440.63,333.47L440.68,332.07A52.1,52.1 0 0 0 459.03,329.41Z" fill="#4aa0e0"/>
<path d="M440.17,333.45A53.5,53.5 0 0 1 436.91,333.21L437.05,331.81A52.1,52.1 0 0 0 440.23,332.05Z" fill="#c030d8"/>
<path d="M436.44,333.16A53.5,53.5 0 0 1 424.20,330.27L424.68,328.96A52.1,52.1 0 0 0 436.60,331.77Z" fill="#8fe050"/>
<path d="M423.76,330.11A53.5,53.5 0 0 1 415.75,326.33L416.45,325.12A52.1,52.1 0 0 0 424.25,328.80Z" fill="#4aa0e0"/>
<path d="M415.35,326.10A53.5,53.5 0 0 1 412.58,324.35L413.37,323.19A52.1,52.1 0 0 0 416.06,324.89Z" fill="#8fe050"/>
<path d="M412.20,324.09A53.5,53.5 0 0 1 398.68,310.69L399.82,309.88A52.1,52.1 0 0 0 412.99,322.94Z" fill="#4aa0e0"/>
<path d="M398.41,310.30A53.5,53.5 0 0 1 396.17,306.75L397.38,306.05A52.1,52.1 0 0 0 399.56,309.51Z" fill="#c030d8"/>
<path d="M395.94,306.34A53.5,53.5 0 0 1 390.59,292.94L391.95,292.60A52.1,52.1 0 0 0 397.15,305.66Z" fill="#4aa0e0"/>
<path d="M390.48,292.49A53.5,53.5 0 0 1 389.52,287.45L390.91,287.25A52.1,52.1 0 0 0 391.84,292.16Z" fill="#c030d8"/>
<path d="M389.46,286.98A53.5,53.5 0 0 1 392.23,261.70L393.54,262.18A52.1,52.1 0 0 0 390.85,286.80Z" fill="#4aa0e0"/>
<path d="M392.39,261.26A53.5,53.5 0 0 1 393.63,258.24L394.90,258.81A52.1,52.1 0 0 0 393.70,261.75Z" fill="#e8902e"/>
<path d="M393.82,257.81A53.5,53.5 0 0 1 402.74,244.20L403.78,245.14A52.1,52.1 0 0 0 395.09,258.39Z" fill="#4aa0e0"/>
<path d="M403.06,243.86A53.5,53.5 0 0 1 406.70,240.24L407.64,241.28A52.1,52.1 0 0 0 404.09,244.80Z" fill="#8fe050"/>
<path d="M407.05,239.93A53.5,53.5 0 0 1 412.58,235.65L413.37,236.81A52.1,52.1 0 0 0 407.98,240.98Z" fill="#d63222"/>
<path d="M412.97,235.39A53.5,53.5 0 0 1 416.56,233.21L417.24,234.43A52.1,52.1 0 0 0 413.74,236.55Z" fill="#4aa0e0"/>
<path d="M416.97,232.98A53.5,53.5 0 0 1 419.89,231.51L420.48,232.78A52.1,52.1 0 0 0 417.64,234.21Z" fill="#c030d8"/>
<path d="M420.31,231.32A53.5,53.5 0 0 1 423.33,230.05L423.83,231.36A52.1,52.1 0 0 0 420.89,232.59Z" fill="#3050e0"/>
<text transform="translate(422.94,333.75) rotate(290.0)" font-size="2.8" text-anchor="end" dy="0.9" fill="#404040" textLength="3.3" lengthAdjust="spacingAndGlyphs">K2</text>
<text transform="translate(419.60,332.42) rotate(293.6)" font-size="2.8" text-anchor="end" dy="0.9" fill="#404040" textLength="4.1" lengthAdjust="spacingAndGlyphs">EG</text>
<text transform="translate(416.35,330.87) rotate(297.2)" font-size="2.8" text-anchor="end" dy="0.9" fill="#404040" textLength="3.4" lengthAdjust="spacingAndGlyphs">D9</text>
<text transform="translate(413.21,329.13) rotate(300.8)" font-size="2.8" text-anchor="end" dy="0.9" fill="#404040" textLength="3.0" lengthAdjust="spacingAndGlyphs">F4</text>
<text transform="translate(410.18,327.20) rotate(304.4)" font-size="2.8" text-anchor="end" dy="0.9" fill="#404040" textLength="3.5" lengthAdjust="spacingAndGlyphs">SF</text>
<text transform="translate(407.28,325.07) rotate(308.0)" font-size="2.8" text-anchor="end" dy="0.9" fill="#404040" textLength="3.9" lengthAdjust="spacingAndGlyphs">DH</text>
<text transform="translate(404.52,322.77) rotate(311.6)" font-size="2.8" text-anchor="end" dy="0.9" fill="#404040" textLength="4.9" lengthAdjust="spacingAndGlyphs">D2D</text>
<text transform="translate(401.91,320.31) rotate(315.2)" font-size="2.8" text-anchor="end" dy="0.9" fill="#404040" textLength="4.9" lengthAdjust="spacingAndGlyphs">CIV</text>
<text transform="translate(399.46,317.68) rotate(318.8)" font-size="2.8" text-anchor="end" dy="0.9" fill="#404040" textLength="3.5" lengthAdjust="spacingAndGlyphs">HW</text>
<text transform="translate(397.18,314.90) rotate(322.4)" font-size="2.8" text-anchor="end" dy="0.9" fill="#404040" textLength="3.9" lengthAdjust="spacingAndGlyphs">MG</text>
<text transform="translate(395.08,311.99) rotate(326.0)" font-size="2.8" text-anchor="end" dy="0.9" fill="#404040" textLength="4.0" lengthAdjust="spacingAndGlyphs">N0</text>
<text transform="translate(393.16,308.95) rotate(329.6)" font-size="2.8" text-anchor="end" dy="0.9" fill="#404040" textLength="2.7" lengthAdjust="spacingAndGlyphs">ED</text>
<text transform="translate(391.44,305.79) rotate(333.2)" font-size="2.8" text-anchor="end" dy="0.9" fill="#404040" textLength="4.0" lengthAdjust="spacingAndGlyphs">84</text>
<text transform="translate(389.93,302.53) rotate(336.8)" font-size="2.8" text-anchor="end" dy="0.9" fill="#404040" textLength="4.4" lengthAdjust="spacingAndGlyphs">660</text>
<text transform="translate(388.61,299.19) rotate(340.4)" font-size="2.8" text-anchor="end" dy="0.9" fill="#404040" textLength="3.2" lengthAdjust="spacingAndGlyphs">MS</text>
<text transform="translate(387.52,295.77) rotate(344.0)" font-size="2.8" text-anchor="end" dy="0.9" fill="#404040" textLength="2.7" lengthAdjust="spacingAndGlyphs">W8</text>
<text transform="translate(386.63,292.28) rotate(347.6)" font-size="2.8" text-anchor="end" dy="0.9" fill="#404040" textLength="4.7" lengthAdjust="spacingAndGlyphs">5VE</text>
<text transform="translate(385.97,288.75) rotate(351.2)" font-size="2.8" text-anchor="end" dy="0.9" fill="#404040" textLength="2.8" lengthAdjust="spacingAndGlyphs">3L</text>
<text transform="translate(385.54,285.18) rotate(354.8)" font-size="2.8" text-anchor="end" dy="0.9" fill="#404040" textLength="4.4" lengthAdjust="spacingAndGlyphs">K83</text>
<text transform="translate(385.32,281.60) rotate(358.4)" font-size="2.8" text-anchor="end" dy="0.9" fill="#404040" textLength="2.6" lengthAdjust="spacingAndGlyphs">EX</text>
<text transform="translate(385.33,278.00) rotate(362.0)" font-size="2.8" text-anchor="end" dy="0.9" fill="#404040" textLength="3.4" lengthAdjust="spacingAndGlyphs">Z8</text>
<text transform="translate(385.57,274.42) rotate(365.6)" font-size="2.8" text-anchor="end" dy="0.9" fill="#404040" textLength="3.9" lengthAdjust="spacingAndGlyphs">6E</text>
<text transform="translate(386.04,270.85) rotate(369.2)" font-size="2.8" text-anchor="end" dy="0.9" fill="#404040" textLength="4.6" lengthAdjust="spacingAndGlyphs">U7E</text>
<text transform="translate(386.72,267.33) rotate(372.8)" font-size="2.8" text-anchor="end" dy="0.9" fill="#404040" textLength="2.7" lengthAdjust="spacingAndGlyphs">W5</text>
<text transform="translate(387.63,263.85) rotate(376.4)" font-size="2.8" text-anchor="end" dy="0.9" fill="#404040" textLength="3.2" lengthAdjust="spacingAndGlyphs">1Z</text>
<text transform="translate(388.75,260.44) rotate(380.0)" font-size="2.8" text-anchor="end" dy="0.9" fill="#404040" textLength="2.6" lengthAdjust="spacingAndGlyphs">6Z</text>
<text transform="translate(390.08,257.10) rotate(383.6)" font-size="2.8" text-anchor="end" dy="0.9" fill="#404040" textLength="2.9" lengthAdjust="spacingAndGlyphs">H8</text>
<text transform="translate(391.63,253.85) rotate(387.2)" font-size="2.8" text-anchor="end" dy="0.9" fill="#404040" textLength="2.6" lengthAdjust="spacingAndGlyphs">VI</text>
<text transform="translate(393.37,250.71) rotate(390.8)" font-size="2.8" text-anchor="end" dy="0.9" fill="#404040" textLength="4.3" lengthAdjust="spacingAndGlyphs">228</text>
<text transform="translate(395.30,247.68) rotate(394.4)" font-size="2.8" text-anchor="end" dy="0.9" fill="#404040" textLength="2.7" lengthAdjust="spacingAndGlyphs">52</text>
<text transform="translate(397.43,244.78) rotate(398.0)" font-size="2.8" text-anchor="end" dy="0.9" fill="#404040" textLength="3.9" lengthAdjust="spacingAndGlyphs">I4</text>
<text transform="translate(399.73,242.02) rotate(401.6)" font-size="2.8" text-anchor="end" dy="0.9" fill="#404040" textLength="4.7" lengthAdjust="spacingAndGlyphs">U3Z</text>
<text transform="translate(402.19,239.41) rotate(405.2)" font-size="2.8" text-anchor="end" dy="0.9" fill="#404040" textLength="4.2" lengthAdjust="spacingAndGlyphs">1R</text>
<text transform="translate(404.82,236.96) rotate(408.8)" font-size="2.8" text-anchor="end" dy="0.9" fill="#404040" textLength="2.9" lengthAdjust="spacingAndGlyphs">MK</text>
<text transform="translate(407.60,234.68) rotate(412.4)" font-size="2.8" text-anchor="end" dy="0.9" fill="#404040" textLength="3.1" lengthAdjust="spacingAndGlyphs">RA</text>
<text transform="translate(410.51,232.58) rotate(416.0)" font-size="2.8" text-anchor="end" dy="0.9" fill="#404040" textLength="3.7" lengthAdjust="spacingAndGlyphs">MT</text>
<text transform="translate(413.55,230.66) rotate(419.6)" font-size="2.8" text-anchor="end" dy="0.9" fill="#404040" textLength="3.2" lengthAdjust="spacingAndGlyphs">K3</text>
<text transform="translate(416.71,228.94) rotate(423.2)" font-size="2.8" text-anchor="end" dy="0.9" fill="#404040" textLength="3.8" lengthAdjust="spacingAndGlyphs">XI</text>
<text transform="translate(419.97,227.43) rotate(426.8)" font-size="2.8" text-anchor="end" dy="0.9" fill="#404040" textLength="4.2" lengthAdjust="spacingAndGlyphs">9D</text>
<text transform="translate(423.31,226.11) rotate(430.4)" font-size="2.8" text-anchor="end" dy="0.9" fill="#404040" textLength="3.6" lengthAdjust="spacingAndGlyphs">22</text>
<text transform="translate(426.73,225.02) rotate(434.0)" font-size="2.8" text-anchor="end" dy="0.9" fill="#404040" textLength="3.5" lengthAdjust="spacingAndGlyphs">G7</text>
<text transform="translate(430.22,224.13) rotate(437.6)" font-size="2.8" text-anchor="end" dy="0.9" fill="#404040" textLength="4.1" lengthAdjust="spacingAndGlyphs">DN</text>
<text transform="translate(433.75,223.47) rotate(441.2)" font-size="2.8" text-anchor="end" dy="0.9" fill="#404040" textLength="2.7" lengthAdjust="spacingAndGlyphs">P5</text>
<text transform="translate(437.32,223.04) rotate(444.8)" font-size="2.8" text-anchor="end" dy="0.9" fill="#404040" textLength="2.9" lengthAdjust="spacingAndGlyphs">YD</text>
<text transform="translate(442.50,222.80) rotate(-90.0)" font-size="2.8" text-anchor="start" dy="0.9" fill="#404040" textLength="2.8" lengthAdjust="spacingAndGlyphs">KG</text>
<text transform="translate(452.43,223.67) rotate(-80.0)" font-size="2.8" text-anchor="start" dy="0.9" fill="#404040" textLength="4.9" lengthAdjust="spacingAndGlyphs">BEP</text>
<text transform="translate(462.06,226.25) rotate(-70.0)" font-size="2.8" text-anchor="start" dy="0.9" fill="#404040" textLength="4.0" lengthAdjust="spacingAndGlyphs">KT</text>
<text transform="translate(471.10,230.46) rotate(-60.0)" font-size="2.8" text-anchor="start" dy="0.9" fill="#404040" textLength="4.9" lengthAdjust="spacingAndGlyphs">07H</text>
<text transform="translate(482.95,239.55) rotate(-45.0)" font-size="2.8" text-anchor="start" dy="0.9" fill="#404040" textLength="2.8" lengthAdjust="spacingAndGlyphs">86</text>
<text transform="translate(492.04,251.40) rotate(-30.0)" font-size="2.8" text-anchor="start" dy="0.9" fill="#404040" textLength="3.7" lengthAdjust="spacingAndGlyphs">WF</text>
<text transform="translate(497.75,265.20) rotate(-15.0)" font-size="2.8" text-anchor="start" dy="0.9" fill="#404040" textLength="2.9" lengthAdjust="spacingAndGlyphs">YT</text>
<text transform="translate(499.70,280.00) rotate(0.0)" font-size="2.8" text-anchor="start" dy="0.9" fill="#404040" textLength="3.7" lengthAdjust="spacingAndGlyphs">LB</text>
<text transform="translate(497.75,294.80) rotate(15.0)" font-size="2.8" text-anchor="start" dy="0.9" fill="#404040" textLength="3.0" lengthAdjust="spacingAndGlyphs">0K</text>
<text transform="translate(492.04,308.60) rotate(30.0)" font-size="2.8" text-anchor="start" dy="0.9" fill="#404040" textLength="4.2" lengthAdjust="spacingAndGlyphs">BW</text>
<text transform="translate(482.95,320.45) rotate(45.0)" font-size="2.8" text-anchor="start" dy="0.9" fill="#404040" textLength="4.9" lengthAdjust="spacingAndGlyphs">FT0</text>
<text transform="translate(471.10,329.54) rotate(60.0)" font-size="2.8" text-anchor="start" dy="0.9" fill="#404040" textLength="4.8" lengthAdjust="spacingAndGlyphs">ZR9</text>
<text transform="translate(457.30,335.25) rotate(75.0)" font-size="2.8" text-anchor="start" dy="0.9" fill="#404040" textLength="3.3" lengthAdjust="spacingAndGlyphs">RN</text>
<text transform="translate(442.50,337.20) rotate(270.0)" font-size="2.8" text-anchor="end" dy="0.9" fill="#404040" textLength="4.5" lengthAdjust="spacingAndGlyphs">2RN</text>
<text transform="translate(432.57,336.33) rotate(280.0)" font-size="2.8" text-anchor="end" dy="0.9" fill="#404040" textLength="3.8" lengthAdjust="spacingAndGlyphs">ZB</text>
<text transform="translate(479.27,236.18) rotate(-50.0)" font-size="2.8" text-anchor="start" dy="0.9" fill="#404040" textLength="14.0" lengthAdjust="spacingAndGlyphs">BU7TNZ5Z</text>
<text transform="translate(385.30,280.00) rotate(360.0)" font-size="2.8" text-anchor="end" dy="0.9" fill="#404040" textLength="14.0" lengthAdjust="spacingAndGlyphs">0FRGR7NY</text>
<text transform="translate(427.70,224.75) rotate(435.0)" font-size="2.8" text-anchor="end" dy="0.9" fill="#404040" textLength="14.0" lengthAdjust="spacingAndGlyphs">P7A7ZFH1</text>
<line x1="442.50" y1="234.80" x2="442.50" y2="233.60" stroke="#b0b0b0" stroke-width="0.45"/>
<line x1="445.65" y1="234.91" x2="445.74" y2="233.71" stroke="#b0b0b0" stroke-width="0.45"/>
<line x1="448.79" y1="235.24" x2="448.96" y2="234.05" stroke="#b0b0b0" stroke-width="0.45"/>
<line x1="451.90" y1="235.79" x2="452.15" y2="234.61" stroke="#b0b0b0" stroke-width="0.45"/>
<line x1="454.96" y1="236.55" x2="455.29" y2="235.40" stroke="#b0b0b0" stroke-width="0.45"/>
<line x1="457.96" y1="237.53" x2="458.37" y2="236.40" stroke="#b0b0b0" stroke-width="0.45"/>
<line x1="460.88" y1="238.71" x2="461.37" y2="237.61" stroke="#b0b0b0" stroke-width="0.45"/>
<line x1="463.72" y1="240.09" x2="464.28" y2="239.03" stroke="#b0b0b0" stroke-width="0.45"/>
<line x1="466.45" y1="241.67" x2="467.09" y2="240.65" stroke="#b0b0b0" stroke-width="0.45"/>
<line x1="469.07" y1="243.43" x2="469.77" y2="242.46" stroke="#b0b0b0" stroke-width="0.45"/>
<line x1="471.55" y1="245.37" x2="472.33" y2="244.46" stroke="#b0b0b0" stroke-width="0.45"/>
<line x1="473.90" y1="247.49" x2="474.73" y2="246.62" stroke="#b0b0b0" stroke-width="0.45"/>
<line x1="476.09" y1="249.76" x2="476.98" y2="248.95" stroke="#b0b0b0" stroke-width="0.45"/>
<line x1="478.12" y1="252.17" x2="479.06" y2="251.43" stroke="#b0b0b0" stroke-width="0.45"/>
<line x1="479.97" y1="254.72" x2="480.97" y2="254.05" stroke="#b0b0b0" stroke-width="0.45"/>
<line x1="481.64" y1="257.40" x2="482.68" y2="256.80" stroke="#b0b0b0" stroke-width="0.45"/>
<line x1="483.13" y1="260.19" x2="484.20" y2="259.66" stroke="#b0b0b0" stroke-width="0.45"/>
<line x1="484.41" y1="263.07" x2="485.52" y2="262.62" stroke="#b0b0b0" stroke-width="0.45"/>
<line x1="485.49" y1="266.03" x2="486.63" y2="265.66" stroke="#b0b0b0" stroke-width="0.45"/>
<line x1="486.36" y1="269.07" x2="487.52" y2="268.77" stroke="#b0b0b0" stroke-width="0.45"/>
<line x1="487.01" y1="272.15" x2="488.20" y2="271.94" stroke="#b0b0b0" stroke-width="0.45"/>
<line x1="487.45" y1="275.28" x2="488.65" y2="275.15" stroke="#b0b0b0" stroke-width="0.45"/>
<line x1="487.67" y1="278.42" x2="488.87" y2="278.38" stroke="#b0b0b0" stroke-width="0.45"/>
<line x1="487.67" y1="281.58" x2="488.87" y2="281.62" stroke="#b0b0b0" stroke-width="0.45"/>
<line x1="487.45" y1="284.72" x2="488.65" y2="284.85" stroke="#b0b0b0" stroke-width="0.45"/>
<line x1="487.01" y1="287.85" x2="488.20" y2="288.06" stroke="#b0b0b0" stroke-width="0.45"/>
<line x1="486.36" y1="290.93" x2="487.52" y2="291.23" stroke="#b0b0b0" stroke-width="0.45"/>
<line x1="485.49" y1="293.97" x2="486.63" y2="294.34" stroke="#b0b0b0" stroke-width="0.45"/>
<line x1="484.41" y1="296.93" x2="485.52" y2="297.38" stroke="#b0b0b0" stroke-width="0.45"/>
<line x1="483.13" y1="299.81" x2="484.20" y2="300.34" stroke="#b0b0b0" stroke-width="0.45"/>
<line x1="481.64" y1="302.60" x2="482.68" y2="303.20" stroke="#b0b0b0" stroke-width="0.45"/>
<line x1="479.97" y1="305.28" x2="480.97" y2="305.95" stroke="#b0b0b0" stroke-width="0.45"/>
<line x1="478.12" y1="307.83" x2="479.06" y2="308.57" stroke="#b0b0b0" stroke-width="0.45"/>
<line x1="476.09" y1="310.24" x2="476.98" y2="311.05" stroke="#b0b0b0" stroke-width="0.45"/>
<line x1="473.90" y1="312.51" x2="474.73" y2="313.38" stroke="#b0b0b0" stroke-width="0.45"/>
<line x1="471.55" y1="314.63" x2="472.33" y2="315.54" stroke="#b0b0b0" stroke-width="0.45"/>
<line x1="469.07" y1="316.57" x2="469.77" y2="317.54" stroke="#b0b0b0" stroke-width="0.45"/>
<line x1="466.45" y1="318.33" x2="467.09" y2="319.35" stroke="#b0b0b0" stroke-width="0.45"/>
<line x1="463.72" y1="319.91" x2="464.28" y2="320.97" stroke="#b0b0b0" stroke-width="0.45"/>
<line x1="460.88" y1="321.29" x2="461.37" y2="322.39" stroke="#b0b0b0" stroke-width="0.45"/>
<line x1="457.96" y1="322.47" x2="458.37" y2="323.60" stroke="#b0b0b0" stroke-width="0.45"/>
<line x1="454.96" y1="323.45" x2="455.29" y2="324.60" stroke="#b0b0b0" stroke-width="0.45"/>
<line x1="451.90" y1="324.21" x2="452.15" y2="325.39" stroke="#b0b0b0" stroke-width="0.45"/>
<line x1="448.79" y1="324.76" x2="448.96" y2="325.95" stroke="#b0b0b0" stroke-width="0.45"/>
<line x1="445.65" y1="325.09" x2="445.74" y2="326.29" stroke="#b0b0b0" stroke-width="0.45"/>
<line x1="442.50" y1="325.20" x2="442.50" y2="326.40" stroke="#b0b0b0" stroke-width="0.45"/>
<line x1="439.35" y1="325.09" x2="439.26" y2="326.29" stroke="#b0b0b0" stroke-width="0.45"/>
<line x1="436.21" y1="324.76" x2="436.04" y2="325.95" stroke="#b0b0b0" stroke-width="0.45"/>
<line x1="433.10" y1="324.21" x2="432.85" y2="325.39" stroke="#b0b0b0" stroke-width="0.45"/>
<line x1="430.04" y1="323.45" x2="429.71" y2="324.60" stroke="#b0b0b0" stroke-width="0.45"/>
<line x1="427.04" y1="322.47" x2="426.63" y2="323.60" stroke="#b0b0b0" stroke-width="0.45"/>
<line x1="424.12" y1="321.29" x2="423.63" y2="322.39" stroke="#b0b0b0" stroke-width="0.45"/>
<line x1="421.28" y1="319.91" x2="420.72" y2="320.97" stroke="#b0b0b0" stroke-width="0.45"/>
<line x1="418.55" y1="318.33" x2="417.91" y2="319.35" stroke="#b0b0b0" stroke-width="0.45"/>
<line x1="415.93" y1="316.57" x2="415.23" y2="317.54" stroke="#b0b0b0" stroke-width="0.45"/>
<line x1="413.45" y1="314.63" x2="412.67" y2="315.54" stroke="#b0b0b0" stroke-width="0.45"/>
<line x1="411.10" y1="312.51" x2="410.27" y2="313.38" stroke="#b0b0b0" stroke-width="0.45"/>
<line x1="408.91" y1="310.24" x2="408.02" y2="311.05" stroke="#b0b0b0" stroke-width="0.45"/>
<line x1="406.88" y1="307.83" x2="405.94" y2="308.57" stroke="#b0b0b0" stroke-width="0.45"/>
<line x1="405.03" y1="305.28" x2="404.03" y2="305.95" stroke="#b0b0b0" stroke-width="0.45"/>
<line x1="403.36" y1="302.60" x2="402.32" y2="303.20" stroke="#b0b0b0" stroke-width="0.45"/>
<line x1="401.87" y1="299.81" x2="400.80" y2="300.34" stroke="#b0b0b0" stroke-width="0.45"/>
<line x1="400.59" y1="296.93" x2="399.48" y2="297.38" stroke="#b0b0b0" stroke-width="0.45"/>
<line x1="399.51" y1="293.97" x2="398.37" y2="294.34" stroke="#b0b0b0" stroke-width="0.45"/>
<line x1="398.64" y1="290.93" x2="397.48" y2="291.23" stroke="#b0b0b0" stroke-width="0.45"/>
<line x1="397.99" y1="287.85" x2="396.80" y2="288.06" stroke="#b0b0b0" stroke-width="0.45"/>
<line x1="397.55" y1="284.72" x2="396.35" y2="284.85" stroke="#b0b0b0" stroke-width="0.45"/>
<line x1="397.33" y1="281.58" x2="396.13" y2="281.62" stroke="#b0b0b0" stroke-width="0.45"/>
<line x1="397.33" y1="278.42" x2="396.13" y2="278.38" stroke="#b0b0b0" stroke-width="0.45"/>
<line x1="397.55" y1="275.28" x2="396.35" y2="275.15" stroke="#b0b0b0" stroke-width="0.45"/>
<line x1="397.99" y1="272.15" x2="396.80" y2="271.94" stroke="#b0b0b0" stroke-width="0.45"/>
<line x1="398.64" y1="269.07" x2="397.48" y2="268.77" stroke="#b0b0b0" stroke-width="0.45"/>
<line x1="399.51" y1="266.03" x2="398.37" y2="265.66" stroke="#b0b0b0" stroke-width="0.45"/>
<line x1="400.59" y1="263.07" x2="399.48" y2="262.62" stroke="#b0b0b0" stroke-width="0.45"/>
<line x1="401.87" y1="260.19" x2="400.80" y2="259.66" stroke="#b0b0b0" stroke-width="0.45"/>
<line x1="403.36" y1="257.40" x2="402.32" y2="256.80" stroke="#b0b0b0" stroke-width="0.45"/>
<line x1="405.03" y1="254.72" x2="404.03" y2="254.05" stroke="#b0b0b0" stroke-width="0.45"/>
<line x1="406.88" y1="252.17" x2="405.94" y2="251.43" stroke="#b0b0b0" stroke-width="0.45"/>
<line x1="408.91" y1="249.76" x2="408.02" y2="248.95" stroke="#b0b0b0" stroke-width="0.45"/>
<line x1="411.10" y1="247.49" x2="410.27" y2="246.62" stroke="#b0b0b0" stroke-width="0.45"/>
<line x1="413.45" y1="245.37" x2="412.67" y2="244.46" stroke="#b0b0b0" stroke-width="0.45"/>
<line x1="415.93" y1="243.43" x2="415.23" y2="242.46" stroke="#b0b0b0" stroke-width="0.45"/>
<line x1="418.55" y1="241.67" x2="417.91" y2="240.65" stroke="#b0b0b0" stroke-width="0.45"/>
<line x1="421.28" y1="240.09" x2="420.72" y2="239.03" stroke="#b0b0b0" stroke-width="0.45"/>
<line x1="424.12" y1="238.71" x2="423.63" y2="237.61" stroke="#b0b0b0" stroke-width="0.45"/>
<line x1="427.04" y1="237.53" x2="426.63" y2="236.40" stroke="#b0b0b0" stroke-width="0.45"/>
<line x1="430.04" y1="236.55" x2="429.71" y2="235.40" stroke="#b0b0b0" stroke-width="0.45"/>
<line x1="433.10" y1="235.79" x2="432.85" y2="234.61" stroke="#b0b0b0" stroke-width="0.45"/>
<line x1="436.21" y1="235.24" x2="436.04" y2="234.05" stroke="#b0b0b0" stroke-width="0.45"/>
<line x1="439.35" y1="234.91" x2="439.26" y2="233.71" stroke="#b0b0b0" stroke-width="0.45"/>
<line x1="443.44" y1="225.91" x2="443.49" y2="223.31" stroke="#808080" stroke-width="0.6"/>
<line x1="445.90" y1="226.01" x2="446.06" y2="223.41" stroke="#808080" stroke-width="0.6"/>
<line x1="448.34" y1="226.22" x2="448.62" y2="223.63" stroke="#808080" stroke-width="0.6"/>
<line x1="450.78" y1="226.54" x2="451.17" y2="223.97" stroke="#808080" stroke-width="0.6"/>
<line x1="453.19" y1="226.97" x2="453.71" y2="224.42" stroke="#808080" stroke-width="0.6"/>
<line x1="455.59" y1="227.51" x2="456.22" y2="224.98" stroke="#808080" stroke-width="0.6"/>
<line x1="457.96" y1="228.15" x2="458.70" y2="225.66" stroke="#808080" stroke-width="0.6"/>
<line x1="460.29" y1="228.91" x2="461.15" y2="226.45" stroke="#808080" stroke-width="0.6"/>
<line x1="462.59" y1="229.77" x2="463.56" y2="227.35" stroke="#808080" stroke-width="0.6"/>
<line x1="464.85" y1="230.73" x2="465.92" y2="228.36" stroke="#808080" stroke-width="0.6"/>
<line x1="467.06" y1="231.80" x2="468.24" y2="229.48" stroke="#808080" stroke-width="0.6"/>
<line x1="469.22" y1="232.96" x2="470.51" y2="230.70" stroke="#808080" stroke-width="0.6"/>
<line x1="471.33" y1="234.22" x2="472.71" y2="232.02" stroke="#808080" stroke-width="0.6"/>
<line x1="473.38" y1="235.58" x2="474.86" y2="233.44" stroke="#808080" stroke-width="0.6"/>
<line x1="475.36" y1="237.02" x2="476.94" y2="234.96" stroke="#808080" stroke-width="0.6"/>
<line x1="477.27" y1="238.56" x2="478.95" y2="236.57" stroke="#808080" stroke-width="0.6"/>
<line x1="479.12" y1="240.18" x2="480.88" y2="238.26" stroke="#808080" stroke-width="0.6"/>
<line x1="480.89" y1="241.88" x2="482.73" y2="240.05" stroke="#808080" stroke-width="0.6"/>
<line x1="482.58" y1="243.66" x2="484.50" y2="241.91" stroke="#808080" stroke-width="0.6"/>
<line x1="484.18" y1="245.52" x2="486.19" y2="243.86" stroke="#808080" stroke-width="0.6"/>
<line x1="485.71" y1="247.44" x2="487.78" y2="245.88" stroke="#808080" stroke-width="0.6"/>
<line x1="487.14" y1="249.44" x2="489.28" y2="247.97" stroke="#808080" stroke-width="0.6"/>
<line x1="488.48" y1="251.49" x2="490.69" y2="250.12" stroke="#808080" stroke-width="0.6"/>
<line x1="489.73" y1="253.61" x2="491.99" y2="252.34" stroke="#808080" stroke-width="0.6"/>
<line x1="490.87" y1="255.78" x2="493.20" y2="254.61" stroke="#808080" stroke-width="0.6"/>
<line x1="491.92" y1="258.00" x2="494.30" y2="256.94" stroke="#808080" stroke-width="0.6"/>
<line x1="492.87" y1="260.26" x2="495.29" y2="259.31" stroke="#808080" stroke-width="0.6"/>
<line x1="493.71" y1="262.57" x2="496.18" y2="261.73" stroke="#808080" stroke-width="0.6"/>
<line x1="494.45" y1="264.91" x2="496.95" y2="264.18" stroke="#808080" stroke-width="0.6"/>
<line x1="495.08" y1="267.28" x2="497.61" y2="266.67" stroke="#808080" stroke-width="0.6"/>
<line x1="495.61" y1="269.68" x2="498.16" y2="269.18" stroke="#808080" stroke-width="0.6"/>
<line x1="496.02" y1="272.10" x2="498.59" y2="271.72" stroke="#808080" stroke-width="0.6"/>
<line x1="496.32" y1="274.53" x2="498.91" y2="274.27" stroke="#808080" stroke-width="0.6"/>
<line x1="496.52" y1="276.98" x2="499.11" y2="276.83" stroke="#808080" stroke-width="0.6"/>
<line x1="496.60" y1="279.43" x2="499.20" y2="279.41" stroke="#808080" stroke-width="0.6"/>
<line x1="496.57" y1="281.89" x2="499.17" y2="281.98" stroke="#808080" stroke-width="0.6"/>
<line x1="496.43" y1="284.34" x2="499.02" y2="284.55" stroke="#808080" stroke-width="0.6"/>
<line x1="496.17" y1="286.78" x2="498.75" y2="287.11" stroke="#808080" stroke-width="0.6"/>
<line x1="495.81" y1="289.21" x2="498.37" y2="289.65" stroke="#808080" stroke-width="0.6"/>
<line x1="495.34" y1="291.62" x2="497.88" y2="292.18" stroke="#808080" stroke-width="0.6"/>
<line x1="494.76" y1="294.00" x2="497.27" y2="294.68" stroke="#808080" stroke-width="0.6"/>
<line x1="494.07" y1="296.36" x2="496.55" y2="297.14" stroke="#808080" stroke-width="0.6"/>
<line x1="493.27" y1="298.68" x2="495.71" y2="299.58" stroke="#808080" stroke-width="0.6"/>
<line x1="492.37" y1="300.96" x2="494.77" y2="301.97" stroke="#808080" stroke-width="0.6"/>
<line x1="491.37" y1="303.21" x2="493.72" y2="304.32" stroke="#808080" stroke-width="0.6"/>
<line x1="490.27" y1="305.40" x2="492.56" y2="306.62" stroke="#808080" stroke-width="0.6"/>
<line x1="489.07" y1="307.54" x2="491.30" y2="308.86" stroke="#808080" stroke-width="0.6"/>
<line x1="487.77" y1="309.62" x2="489.94" y2="311.05" stroke="#808080" stroke-width="0.6"/>
<line x1="486.38" y1="311.65" x2="488.49" y2="313.17" stroke="#808080" stroke-width="0.6"/>
<line x1="484.90" y1="313.60" x2="486.94" y2="315.22" stroke="#808080" stroke-width="0.6"/>
<line x1="483.33" y1="315.49" x2="485.29" y2="317.20" stroke="#808080" stroke-width="0.6"/>
<line x1="481.68" y1="317.31" x2="483.56" y2="319.10" stroke="#808080" stroke-width="0.6"/>
<line x1="479.94" y1="319.05" x2="481.74" y2="320.92" stroke="#808080" stroke-width="0.6"/>
<line x1="478.14" y1="320.71" x2="479.85" y2="322.66" stroke="#808080" stroke-width="0.6"/>
<line x1="476.25" y1="322.28" x2="477.87" y2="324.31" stroke="#808080" stroke-width="0.6"/>
<line x1="474.30" y1="323.77" x2="475.83" y2="325.87" stroke="#808080" stroke-width="0.6"/>
<line x1="472.28" y1="325.17" x2="473.71" y2="327.34" stroke="#808080" stroke-width="0.6"/>
<line x1="470.20" y1="326.47" x2="471.53" y2="328.70" stroke="#808080" stroke-width="0.6"/>
<line x1="468.06" y1="327.68" x2="469.29" y2="329.97" stroke="#808080" stroke-width="0.6"/>
<line x1="465.88" y1="328.79" x2="467.00" y2="331.13" stroke="#808080" stroke-width="0.6"/>
<line x1="463.64" y1="329.80" x2="464.65" y2="332.19" stroke="#808080" stroke-width="0.6"/>
<line x1="461.36" y1="330.71" x2="462.26" y2="333.14" stroke="#808080" stroke-width="0.6"/>
<line x1="459.04" y1="331.51" x2="459.83" y2="333.99" stroke="#808080" stroke-width="0.6"/>
<line x1="456.68" y1="332.21" x2="457.37" y2="334.72" stroke="#808080" stroke-width="0.6"/>
<line x1="454.30" y1="332.80" x2="454.87" y2="335.33" stroke="#808080" stroke-width="0.6"/>
<line x1="451.89" y1="333.28" x2="452.35" y2="335.84" stroke="#808080" stroke-width="0.6"/>
<line x1="449.47" y1="333.65" x2="449.80" y2="336.23" stroke="#808080" stroke-width="0.6"/>
<line x1="447.03" y1="333.91" x2="447.24" y2="336.50" stroke="#808080" stroke-width="0.6"/>
<line x1="444.58" y1="334.06" x2="444.68" y2="336.66" stroke="#808080" stroke-width="0.6"/>
<line x1="442.12" y1="334.10" x2="442.10" y2="336.70" stroke="#808080" stroke-width="0.6"/>
<line x1="439.67" y1="334.03" x2="439.53" y2="336.62" stroke="#808080" stroke-width="0.6"/>
<line x1="437.22" y1="333.84" x2="436.97" y2="336.43" stroke="#808080" stroke-width="0.6"/>
<line x1="434.78" y1="333.55" x2="434.41" y2="336.12" stroke="#808080" stroke-width="0.6"/>
<line x1="432.36" y1="333.14" x2="431.88" y2="335.70" stroke="#808080" stroke-width="0.6"/>
<line x1="429.96" y1="332.63" x2="429.36" y2="335.16" stroke="#808080" stroke-width="0.6"/>
<line x1="427.59" y1="332.00" x2="426.87" y2="334.50" stroke="#808080" stroke-width="0.6"/>
<line x1="425.24" y1="331.27" x2="424.42" y2="333.74" stroke="#808080" stroke-width="0.6"/>
<line x1="422.94" y1="330.44" x2="422.00" y2="332.86" stroke="#808080" stroke-width="0.6"/>
<line x1="420.67" y1="329.50" x2="419.62" y2="331.88" stroke="#808080" stroke-width="0.6"/>
<line x1="418.45" y1="328.46" x2="417.29" y2="330.79" stroke="#808080" stroke-width="0.6"/>
<line x1="416.27" y1="327.32" x2="415.01" y2="329.59" stroke="#808080" stroke-width="0.6"/>
<line x1="414.15" y1="326.08" x2="412.79" y2="328.29" stroke="#808080" stroke-width="0.6"/>
<line x1="412.09" y1="324.75" x2="410.63" y2="326.90" stroke="#808080" stroke-width="0.6"/>
<line x1="410.09" y1="323.32" x2="408.54" y2="325.40" stroke="#808080" stroke-width="0.6"/>
<line x1="408.16" y1="321.80" x2="406.51" y2="323.81" stroke="#808080" stroke-width="0.6"/>
<line x1="406.30" y1="320.20" x2="404.56" y2="322.14" stroke="#808080" stroke-width="0.6"/>
<line x1="404.51" y1="318.52" x2="402.69" y2="320.37" stroke="#808080" stroke-width="0.6"/>
<line x1="402.81" y1="316.76" x2="400.90" y2="318.52" stroke="#808080" stroke-width="0.6"/>
<line x1="401.18" y1="314.92" x2="399.19" y2="316.60" stroke="#808080" stroke-width="0.6"/>
<line x1="399.64" y1="313.01" x2="397.58" y2="314.60" stroke="#808080" stroke-width="0.6"/>
<line x1="398.18" y1="311.03" x2="396.05" y2="312.52" stroke="#808080" stroke-width="0.6"/>
<line x1="396.82" y1="308.99" x2="394.63" y2="310.38" stroke="#808080" stroke-width="0.6"/>
<line x1="395.55" y1="306.89" x2="393.30" y2="308.18" stroke="#808080" stroke-width="0.6"/>
<line x1="394.38" y1="304.73" x2="392.07" y2="305.92" stroke="#808080" stroke-width="0.6"/>
<line x1="393.31" y1="302.52" x2="390.95" y2="303.60" stroke="#808080" stroke-width="0.6"/>
<line x1="392.34" y1="300.27" x2="389.93" y2="301.24" stroke="#808080" stroke-width="0.6"/>
<line x1="391.47" y1="297.97" x2="389.02" y2="298.83" stroke="#808080" stroke-width="0.6"/>
<line x1="390.71" y1="295.64" x2="388.22" y2="296.39" stroke="#808080" stroke-width="0.6"/>
<line x1="390.05" y1="293.27" x2="387.53" y2="293.91" stroke="#808080" stroke-width="0.6"/>
<line x1="389.50" y1="290.88" x2="386.96" y2="291.40" stroke="#808080" stroke-width="0.6"/>
<line x1="389.07" y1="288.46" x2="386.50" y2="288.87" stroke="#808080" stroke-width="0.6"/>
<line x1="388.74" y1="286.03" x2="386.15" y2="286.32" stroke="#808080" stroke-width="0.6"/>
<line x1="388.52" y1="283.59" x2="385.92" y2="283.76" stroke="#808080" stroke-width="0.6"/>
<line x1="388.41" y1="281.13" x2="385.81" y2="281.19" stroke="#808080" stroke-width="0.6"/>
<line x1="388.42" y1="278.68" x2="385.82" y2="278.61" stroke="#808080" stroke-width="0.6"/>
<line x1="388.53" y1="276.23" x2="385.94" y2="276.04" stroke="#808080" stroke-width="0.6"/>
<line x1="388.76" y1="273.78" x2="386.18" y2="273.48" stroke="#808080" stroke-width="0.6"/>
<line x1="389.10" y1="271.35" x2="386.53" y2="270.93" stroke="#808080" stroke-width="0.6"/>
<line x1="389.54" y1="268.94" x2="387.00" y2="268.41" stroke="#808080" stroke-width="0.6"/>
<line x1="390.10" y1="266.55" x2="387.58" y2="265.90" stroke="#808080" stroke-width="0.6"/>
<line x1="390.76" y1="264.18" x2="388.28" y2="263.42" stroke="#808080" stroke-width="0.6"/>
<line x1="391.53" y1="261.85" x2="389.09" y2="260.98" stroke="#808080" stroke-width="0.6"/>
<line x1="392.41" y1="259.56" x2="390.00" y2="258.58" stroke="#808080" stroke-width="0.6"/>
<line x1="393.39" y1="257.31" x2="391.03" y2="256.22" stroke="#808080" stroke-width="0.6"/>
<line x1="394.47" y1="255.10" x2="392.16" y2="253.91" stroke="#808080" stroke-width="0.6"/>
<line x1="395.65" y1="252.95" x2="393.40" y2="251.65" stroke="#808080" stroke-width="0.6"/>
<line x1="396.92" y1="250.85" x2="394.73" y2="249.45" stroke="#808080" stroke-width="0.6"/>
<line x1="398.29" y1="248.82" x2="396.17" y2="247.32" stroke="#808080" stroke-width="0.6"/>
<line x1="399.75" y1="246.84" x2="397.70" y2="245.25" stroke="#808080" stroke-width="0.6"/>
<line x1="401.30" y1="244.94" x2="399.32" y2="243.25" stroke="#808080" stroke-width="0.6"/>
<line x1="402.93" y1="243.10" x2="401.03" y2="241.33" stroke="#808080" stroke-width="0.6"/>
<line x1="404.65" y1="241.35" x2="402.83" y2="239.49" stroke="#808080" stroke-width="0.6"/>
<line x1="406.44" y1="239.67" x2="404.71" y2="237.73" stroke="#808080" stroke-width="0.6"/>
<line x1="408.31" y1="238.08" x2="406.66" y2="236.06" stroke="#808080" stroke-width="0.6"/>
<line x1="410.24" y1="236.57" x2="408.69" y2="234.48" stroke="#808080" stroke-width="0.6"/>
<line x1="412.25" y1="235.15" x2="410.79" y2="232.99" stroke="#808080" stroke-width="0.6"/>
<line x1="414.31" y1="233.82" x2="412.96" y2="231.60" stroke="#808080" stroke-width="0.6"/>
<line x1="416.44" y1="232.59" x2="415.18" y2="230.31" stroke="#808080" stroke-width="0.6"/>
<line x1="418.61" y1="231.46" x2="417.47" y2="229.13" stroke="#808080" stroke-width="0.6"/>
<line x1="420.84" y1="230.42" x2="419.80" y2="228.04" stroke="#808080" stroke-width="0.6"/>
<line x1="423.11" y1="229.49" x2="422.18" y2="227.07" stroke="#808080" stroke-width="0.6"/>
<line x1="425.42" y1="228.67" x2="424.60" y2="226.20" stroke="#808080" stroke-width="0.6"/>
<line x1="427.77" y1="227.94" x2="427.06" y2="225.44" stroke="#808080" stroke-width="0.6"/>
<line x1="430.15" y1="227.33" x2="429.55" y2="224.80" stroke="#808080" stroke-width="0.6"/>
<line x1="432.55" y1="226.82" x2="432.07" y2="224.27" stroke="#808080" stroke-width="0.6"/>
<line x1="434.97" y1="226.43" x2="434.61" y2="223.85" stroke="#808080" stroke-width="0.6"/>
<line x1="437.41" y1="226.14" x2="437.16" y2="223.55" stroke="#808080" stroke-width="0.6"/>
<line x1="439.86" y1="225.96" x2="439.73" y2="223.37" stroke="#808080" stroke-width="0.6"/>
<line x1="442.31" y1="225.90" x2="442.30" y2="223.30" stroke="#808080" stroke-width="0.6"/>
<path d="M459.18,317.46A41.0,41.0 0 0 1 445.36,320.90Q436.16,312.63 424.53,316.85A41.0,41.0 0 0 1 409.33,304.10Q438.26,295.82 459.18,317.46Z" fill="#8fe050" fill-opacity="0.7"/>
<path d="M443.93,320.98A41.0,41.0 0 0 1 438.21,320.78Q436.92,319.73 435.38,320.38A41.0,41.0 0 0 1 429.83,318.99Q437.48,315.75 443.93,320.98Z" fill="#8fe050" fill-opacity="0.6"/>
<path d="M411.09,253.65A41.0,41.0 0 0 1 414.02,250.51Q423.14,250.18 427.14,241.99A41.0,41.0 0 0 1 431.20,240.59Q425.06,253.15 411.09,253.65Z" fill="#e3e334" fill-opacity="0.75"/>
<path d="M410.86,253.92A41.0,41.0 0 0 1 412.51,252.04Q428.45,253.00 436.79,239.40A41.0,41.0 0 0 1 439.64,239.10Q429.70,255.14 410.86,253.92Z" fill="#e3e334" fill-opacity="0.6"/>
<path d="M403.51,267.33A41.0,41.0 0 0 1 404.49,264.64Q423.43,260.25 428.48,241.47A41.0,41.0 0 0 1 431.89,240.40Q425.78,262.38 403.51,267.33Z" fill="#e8902e" fill-opacity="0.55"/>
<path d="M414.54,250.01A41.0,41.0 0 0 1 416.15,248.59Q430.75,282.50 431.20,319.41A41.0,41.0 0 0 1 429.15,318.77Q428.72,282.93 414.54,250.01Z" fill="#e3e334" fill-opacity="0.8"/>
<path d="M416.70,248.14A41.0,41.0 0 0 1 418.40,246.83Q440.68,280.74 448.21,320.60A41.0,41.0 0 0 1 446.07,320.84Q438.66,281.55 416.70,248.14Z" fill="#e3e334" fill-opacity="0.8"/>
<path d="M403.51,267.33A41.0,41.0 0 0 1 404.76,263.98Q414.25,259.85 415.07,249.53A41.0,41.0 0 0 1 417.26,247.69Q416.27,261.64 403.51,267.33Z" fill="#e8902e" fill-opacity="0.7"/>
<path d="M405.34,262.67A41.0,41.0 0 0 1 406.30,260.75Q421.64,285.59 420.77,314.77A41.0,41.0 0 0 1 418.98,313.59Q419.80,286.08 405.34,262.67Z" fill="#e8902e" fill-opacity="0.8"/>
<path d="M407.36,258.88A41.0,41.0 0 0 1 408.51,257.07Q418.47,282.10 413.01,308.48A41.0,41.0 0 0 1 411.56,306.90Q416.66,282.26 407.36,258.88Z" fill="#e8902e" fill-opacity="0.8"/>
<path d="M435.38,239.62A41.0,41.0 0 0 1 439.64,239.10Q442.50,240.82 445.36,239.10A41.0,41.0 0 0 1 448.21,239.40Q441.86,243.36 435.38,239.62Z" fill="#7fe3bd" fill-opacity="0.8"/>
<path d="M471.49,308.99A41.0,41.0 0 0 1 465.43,313.99Q466.09,295.32 482.88,287.12A41.0,41.0 0 0 1 481.49,292.67Q471.60,297.83 471.49,308.99Z" fill="#c833d8" fill-opacity="0.5"/>
<path d="M442.86,239.00A41.0,41.0 0 0 1 451.37,239.97Q435.34,258.89 411.09,253.65A41.0,41.0 0 0 1 417.26,247.69Q432.66,251.03 442.86,239.00Z" fill="#5ea2e2" fill-opacity="0.9"/>
<path d="M451.58,240.02A41.0,41.0 0 0 1 459.83,242.84Q437.73,268.77 403.73,266.65A41.0,41.0 0 0 1 408.11,257.67Q434.26,259.71 451.58,240.02Z" fill="#5ea2e2" fill-opacity="0.9"/>
<path d="M460.02,242.93A41.0,41.0 0 0 1 467.46,247.47Q441.48,277.89 401.51,279.28A41.0,41.0 0 0 1 402.90,269.39Q437.28,268.73 460.02,242.93Z" fill="#5ea2e2" fill-opacity="0.9"/>
<path d="M467.63,247.60A41.0,41.0 0 0 1 473.91,253.65Q448.64,289.46 405.65,297.97A41.0,41.0 0 0 1 402.12,287.12Q442.78,280.46 467.63,247.60Z" fill="#5ea2e2" fill-opacity="0.9"/>
<path d="M474.05,253.81A41.0,41.0 0 0 1 478.87,261.07Q437.75,275.37 424.53,316.85A41.0,41.0 0 0 1 412.03,307.43Q429.63,265.12 474.05,253.81Z" fill="#5ea2e2" fill-opacity="0.9"/>
<path d="M478.97,261.26A41.0,41.0 0 0 1 482.10,269.39Q448.34,284.73 440.35,320.94A41.0,41.0 0 0 1 425.82,317.46Q438.35,276.07 478.97,261.26Z" fill="#5ea2e2" fill-opacity="0.9"/>
<path d="M482.16,269.60A41.0,41.0 0 0 1 483.44,277.85Q458.60,290.26 457.86,318.01A41.0,41.0 0 0 1 443.93,320.98Q447.63,283.82 482.16,269.60Z" fill="#5ea2e2" fill-opacity="0.9"/>
<path d="M483.45,278.07A41.0,41.0 0 0 1 483.22,284.78Q469.28,293.56 470.46,309.99A41.0,41.0 0 0 1 463.00,315.51Q462.00,290.65 483.45,278.07Z" fill="#5ea2e2" fill-opacity="0.9"/>
<path d="M401.56,282.15A41.0,41.0 0 0 1 401.50,279.64Q442.71,278.32 482.28,289.92A41.0,41.0 0 0 1 481.71,291.99Q442.42,280.65 401.56,282.15Z" fill="#d63222" fill-opacity="0.85"/>
<path d="M405.97,298.61A41.0,41.0 0 0 1 404.35,295.03Q442.54,288.75 480.78,294.69A41.0,41.0 0 0 1 479.35,297.97Q442.61,292.42 405.97,298.61Z" fill="#3838e0" fill-opacity="0.85"/>
<path d="M423.25,243.80A41.0,41.0 0 0 1 424.21,243.31Q445.14,277.56 477.64,301.12A41.0,41.0 0 0 1 477.08,302.03Q444.34,278.30 423.25,243.80Z" fill="#9a32e0" fill-opacity="0.85"/>
<path d="M403.29,291.99Q438.01,295.14 468.85,311.41" fill="none" stroke="#3838e0" stroke-width="1.0" stroke-opacity="0.8"/>
<path d="M402.12,272.88Q438.14,286.84 466.02,313.59" fill="none" stroke="#d63222" stroke-width="1.0" stroke-opacity="0.8"/>
<path d="M412.03,307.43Q439.94,296.18 463.00,315.51" fill="none" stroke="#8fe050" stroke-width="1.0" stroke-opacity="0.8"/>
<path d="M442.73,235.60A44.4,44.4 0 0 1 486.57,285.41L483.59,285.05A41.4,41.4 0 0 0 442.72,238.60Z" fill="#66a6e0"/>
<path d="M442.72,238.60A41.4,41.4 0 0 1 444.60,238.65L444.55,239.55A40.5,40.5 0 0 0 442.71,239.50Z" fill="#66a6e0"/>
<path d="M444.60,238.65A41.4,41.4 0 0 1 445.72,238.73L445.65,239.62A40.5,40.5 0 0 0 444.55,239.55Z" fill="#c833d8"/>
<path d="M445.72,238.73A41.4,41.4 0 0 1 447.15,238.86L447.05,239.76A40.5,40.5 0 0 0 445.65,239.62Z" fill="#66a6e0"/>
<path d="M447.15,238.86A41.4,41.4 0 0 1 448.44,239.03L448.31,239.92A40.5,40.5 0 0 0 447.05,239.76Z" fill="#66a6e0"/>
<path d="M448.44,239.03A41.4,41.4 0 0 1 450.51,239.38L450.33,240.26A40.5,40.5 0 0 0 448.31,239.92Z" fill="#66a6e0"/>
<path d="M450.51,239.38A41.4,41.4 0 0 1 451.86,239.67L451.65,240.55A40.5,40.5 0 0 0 450.33,240.26Z" fill="#e3e334"/>
<path d="M451.86,239.67A41.4,41.4 0 0 1 453.63,240.13L453.39,240.99A40.5,40.5 0 0 0 451.65,240.55Z" fill="#9a32e0"/>
<path d="M453.63,240.13A41.4,41.4 0 0 1 455.37,240.65L455.09,241.51A40.5,40.5 0 0 0 453.39,240.99Z" fill="#c833d8"/>
<path d="M455.37,240.65A41.4,41.4 0 0 1 457.40,241.37L457.07,242.21A40.5,40.5 0 0 0 455.09,241.51Z" fill="#3a3ad8"/>
<path d="M457.40,241.37A41.4,41.4 0 0 1 458.39,241.77L458.04,242.60A40.5,40.5 0 0 0 457.07,242.21Z" fill="#e8902e"/>
<path d="M458.39,241.77A41.4,41.4 0 0 1 460.14,242.55L459.75,243.36A40.5,40.5 0 0 0 458.04,242.60Z" fill="#c833d8"/>
<path d="M460.14,242.55A41.4,41.4 0 0 1 461.63,243.28L461.21,244.08A40.5,40.5 0 0 0 459.75,243.36Z" fill="#40c8c8"/>
<path d="M461.63,243.28A41.4,41.4 0 0 1 463.50,244.32L463.04,245.10A40.5,40.5 0 0 0 461.21,244.08Z" fill="#66a6e0"/>
<path d="M463.50,244.32A41.4,41.4 0 0 1 465.27,245.42L464.78,246.18A40.5,40.5 0 0 0 463.04,245.10Z" fill="#c833d8"/>
<path d="M465.27,245.42A41.4,41.4 0 0 1 466.57,246.32L466.05,247.05A40.5,40.5 0 0 0 464.78,246.18Z" fill="#c833d8"/>
<path d="M466.57,246.32A41.4,41.4 0 0 1 467.30,246.85L466.76,247.57A40.5,40.5 0 0 0 466.05,247.05Z" fill="#66a6e0"/>
<path d="M467.30,246.85A41.4,41.4 0 0 1 468.97,248.17L468.39,248.86A40.5,40.5 0 0 0 466.76,247.57Z" fill="#66a6e0"/>
<path d="M468.97,248.17A41.4,41.4 0 0 1 469.73,248.82L469.14,249.49A40.5,40.5 0 0 0 468.39,248.86Z" fill="#66a6e0"/>
<path d="M469.73,248.82A41.4,41.4 0 0 1 471.26,250.22L470.64,250.87A40.5,40.5 0 0 0 469.14,249.49Z" fill="#e3e334"/>
<path d="M471.26,250.22A41.4,41.4 0 0 1 472.77,251.76L472.11,252.37A40.5,40.5 0 0 0 470.64,250.87Z" fill="#7fe3bd"/>
<path d="M472.77,251.76A41.4,41.4 0 0 1 474.06,253.21L473.37,253.79A40.5,40.5 0 0 0 472.11,252.37Z" fill="#7fe3bd"/>
<path d="M474.06,253.21A41.4,41.4 0 0 1 474.64,253.90L473.94,254.47A40.5,40.5 0 0 0 473.37,253.79Z" fill="#7fe3bd"/>
<path d="M474.64,253.90A41.4,41.4 0 0 1 475.41,254.88L474.69,255.43A40.5,40.5 0 0 0 473.94,254.47Z" fill="#7fe3bd"/>
<path d="M475.41,254.88A41.4,41.4 0 0 1 476.51,256.39L475.77,256.90A40.5,40.5 0 0 0 474.69,255.43Z" fill="#5ccf5c"/>
<path d="M476.51,256.39A41.4,41.4 0 0 1 477.18,257.39L476.42,257.88A40.5,40.5 0 0 0 475.77,256.90Z" fill="#e3e334"/>
<path d="M477.18,257.39A41.4,41.4 0 0 1 478.21,259.05L477.43,259.50A40.5,40.5 0 0 0 476.42,257.88Z" fill="#3a3ad8"/>
<path d="M478.21,259.05A41.4,41.4 0 0 1 479.20,260.84L478.40,261.26A40.5,40.5 0 0 0 477.43,259.50Z" fill="#5ccf5c"/>
<path d="M479.20,260.84A41.4,41.4 0 0 1 480.10,262.66L479.28,263.04A40.5,40.5 0 0 0 478.40,261.26Z" fill="#66a6e0"/>
<path d="M480.10,262.66A41.4,41.4 0 0 1 480.75,264.15L479.92,264.50A40.5,40.5 0 0 0 479.28,263.04Z" fill="#d63222"/>
<path d="M480.75,264.15A41.4,41.4 0 0 1 481.27,265.47L480.42,265.79A40.5,40.5 0 0 0 479.92,264.50Z" fill="#d63222"/>
<path d="M481.27,265.47A41.4,41.4 0 0 1 481.62,266.45L480.77,266.74A40.5,40.5 0 0 0 480.42,265.79Z" fill="#c833d8"/>
<path d="M481.62,266.45A41.4,41.4 0 0 1 482.10,267.92L481.24,268.18A40.5,40.5 0 0 0 480.77,266.74Z" fill="#3a3ad8"/>
<path d="M482.10,267.92A41.4,41.4 0 0 1 482.64,269.85L481.76,270.07A40.5,40.5 0 0 0 481.24,268.18Z" fill="#66a6e0"/>
<path d="M482.64,269.85A41.4,41.4 0 0 1 482.89,270.92L482.01,271.12A40.5,40.5 0 0 0 481.76,270.07Z" fill="#3a3ad8"/>
<path d="M482.89,270.92A41.4,41.4 0 0 1 483.26,272.76L482.38,272.92A40.5,40.5 0 0 0 482.01,271.12Z" fill="#c833d8"/>
<path d="M483.26,272.76A41.4,41.4 0 0 1 483.44,273.84L482.55,273.97A40.5,40.5 0 0 0 482.38,272.92Z" fill="#e8902e"/>
<path d="M483.44,273.84A41.4,41.4 0 0 1 483.65,275.49L482.76,275.59A40.5,40.5 0 0 0 482.55,273.97Z" fill="#9a32e0"/>
<path d="M483.65,275.49A41.4,41.4 0 0 1 483.80,277.08L482.90,277.14A40.5,40.5 0 0 0 482.76,275.59Z" fill="#5ccf5c"/>
<path d="M483.80,277.08A41.4,41.4 0 0 1 483.88,278.83L482.98,278.86A40.5,40.5 0 0 0 482.90,277.14Z" fill="#d63222"/>
<path d="M483.88,278.83A41.4,41.4 0 0 1 483.90,280.42L483.00,280.41A40.5,40.5 0 0 0 482.98,278.86Z" fill="#66a6e0"/>
<path d="M483.90,280.42A41.4,41.4 0 0 1 483.84,282.30L482.94,282.25A40.5,40.5 0 0 0 483.00,280.41Z" fill="#d63222"/>
<path d="M483.84,282.30A41.4,41.4 0 0 1 483.77,283.24L482.88,283.17A40.5,40.5 0 0 0 482.94,282.25Z" fill="#7fe3bd"/>
<path d="M483.77,283.24A41.4,41.4 0 0 1 483.66,284.46L482.76,284.36A40.5,40.5 0 0 0 482.88,283.17Z" fill="#66a6e0"/>
<path d="M483.66,284.46A41.4,41.4 0 0 1 483.59,285.05L482.70,284.94A40.5,40.5 0 0 0 482.76,284.36Z" fill="#e8902e"/>
<path d="M486.35,286.95A44.4,44.4 0 0 1 463.34,319.20L461.94,316.55A41.4,41.4 0 0 0 483.39,286.48Z" fill="#c833d8"/>
<path d="M483.39,286.48A41.4,41.4 0 0 1 483.11,288.05L482.23,287.87A40.5,40.5 0 0 0 482.50,286.34Z" fill="#c833d8"/>
<path d="M483.11,288.05A41.4,41.4 0 0 1 482.67,290.03L481.79,289.81A40.5,40.5 0 0 0 482.23,287.87Z" fill="#9a32e0"/>
<path d="M482.67,290.03A41.4,41.4 0 0 1 482.29,291.42L481.43,291.18A40.5,40.5 0 0 0 481.79,289.81Z" fill="#40c8c8"/>
<path d="M482.29,291.42A41.4,41.4 0 0 1 481.65,293.46L480.80,293.17A40.5,40.5 0 0 0 481.43,291.18Z" fill="#40c8c8"/>
<path d="M481.65,293.46A41.4,41.4 0 0 1 481.13,294.90L480.29,294.57A40.5,40.5 0 0 0 480.80,293.17Z" fill="#c833d8"/>
<path d="M481.13,294.90A41.4,41.4 0 0 1 480.67,296.04L479.84,295.69A40.5,40.5 0 0 0 480.29,294.57Z" fill="#d63222"/>
<path d="M480.67,296.04A41.4,41.4 0 0 1 480.04,297.46L479.22,297.08A40.5,40.5 0 0 0 479.84,295.69Z" fill="#e8902e"/>
<path d="M480.04,297.46A41.4,41.4 0 0 1 479.37,298.84L478.56,298.43A40.5,40.5 0 0 0 479.22,297.08Z" fill="#7fe3bd"/>
<path d="M479.37,298.84A41.4,41.4 0 0 1 478.52,300.40L477.74,299.96A40.5,40.5 0 0 0 478.56,298.43Z" fill="#90e05a"/>
<path d="M478.52,300.40A41.4,41.4 0 0 1 477.46,302.17L476.70,301.69A40.5,40.5 0 0 0 477.74,299.96Z" fill="#7fe3bd"/>
<path d="M477.46,302.17A41.4,41.4 0 0 1 476.37,303.80L475.64,303.29A40.5,40.5 0 0 0 476.70,301.69Z" fill="#c833d8"/>
<path d="M476.37,303.80A41.4,41.4 0 0 1 475.54,304.94L474.82,304.40A40.5,40.5 0 0 0 475.64,303.29Z" fill="#e3e334"/>
<path d="M475.54,304.94A41.4,41.4 0 0 1 474.65,306.08L473.96,305.51A40.5,40.5 0 0 0 474.82,304.40Z" fill="#9a32e0"/>
<path d="M474.65,306.08A41.4,41.4 0 0 1 473.53,307.41L472.86,306.81A40.5,40.5 0 0 0 473.96,305.51Z" fill="#e3e334"/>
<path d="M473.53,307.41A41.4,41.4 0 0 1 472.89,308.12L472.22,307.51A40.5,40.5 0 0 0 472.86,306.81Z" fill="#66a6e0"/>
<path d="M472.89,308.12A41.4,41.4 0 0 1 472.01,309.03L471.37,308.40A40.5,40.5 0 0 0 472.22,307.51Z" fill="#9a32e0"/>
<path d="M472.01,309.03A41.4,41.4 0 0 1 470.55,310.45L469.94,309.78A40.5,40.5 0 0 0 471.37,308.40Z" fill="#c833d8"/>
<path d="M470.55,310.45A41.4,41.4 0 0 1 468.98,311.82L468.41,311.13A40.5,40.5 0 0 0 469.94,309.78Z" fill="#66a6e0"/>
<path d="M468.98,311.82A41.4,41.4 0 0 1 467.63,312.90L467.09,312.18A40.5,40.5 0 0 0 468.41,311.13Z" fill="#c833d8"/>
<path d="M467.63,312.90A41.4,41.4 0 0 1 466.67,313.61L466.15,312.88A40.5,40.5 0 0 0 467.09,312.18Z" fill="#c833d8"/>
<path d="M466.67,313.61A41.4,41.4 0 0 1 464.92,314.81L464.43,314.05A40.5,40.5 0 0 0 466.15,312.88Z" fill="#7fe3bd"/>
<path d="M464.92,314.81A41.4,41.4 0 0 1 463.35,315.77L462.90,314.99A40.5,40.5 0 0 0 464.43,314.05Z" fill="#9a32e0"/>
<path d="M463.35,315.77A41.4,41.4 0 0 1 462.14,316.44L461.71,315.65A40.5,40.5 0 0 0 462.90,314.99Z" fill="#e8902e"/>
<path d="M461.96,319.91A44.4,44.4 0 0 1 405.26,304.18L407.78,302.55A41.4,41.4 0 0 0 460.65,317.21Z" fill="#90e05a"/>
<path d="M460.65,317.21A41.4,41.4 0 0 1 459.67,317.67L459.30,316.85A40.5,40.5 0 0 0 460.25,316.40Z" fill="#66a6e0"/>
<path d="M459.67,317.67A41.4,41.4 0 0 1 457.88,318.44L457.55,317.60A40.5,40.5 0 0 0 459.30,316.85Z" fill="#c833d8"/>
<path d="M457.88,318.44A41.4,41.4 0 0 1 456.21,319.06L455.91,318.22A40.5,40.5 0 0 0 457.55,317.60Z" fill="#d63222"/>
<path d="M456.21,319.06A41.4,41.4 0 0 1 454.89,319.50L454.62,318.64A40.5,40.5 0 0 0 455.91,318.22Z" fill="#e3e334"/>
<path d="M454.89,319.50A41.4,41.4 0 0 1 453.81,319.82L453.57,318.96A40.5,40.5 0 0 0 454.62,318.64Z" fill="#5ccf5c"/>
<path d="M453.81,319.82A41.4,41.4 0 0 1 452.86,320.08L452.63,319.21A40.5,40.5 0 0 0 453.57,318.96Z" fill="#5ccf5c"/>
<path d="M452.86,320.08A41.4,41.4 0 0 1 451.99,320.30L451.79,319.42A40.5,40.5 0 0 0 452.63,319.21Z" fill="#d63222"/>
<path d="M451.99,320.30A41.4,41.4 0 0 1 450.56,320.61L450.39,319.72A40.5,40.5 0 0 0 451.79,319.42Z" fill="#90e05a"/>
<path d="M450.56,320.61A41.4,41.4 0 0 1 449.69,320.77L449.53,319.88A40.5,40.5 0 0 0 450.39,319.72Z" fill="#5ccf5c"/>
<path d="M449.69,320.77A41.4,41.4 0 0 1 448.17,321.01L448.04,320.12A40.5,40.5 0 0 0 449.53,319.88Z" fill="#90e05a"/>
<path d="M448.17,321.01A41.4,41.4 0 0 1 446.64,321.19L446.55,320.30A40.5,40.5 0 0 0 448.04,320.12Z" fill="#9a32e0"/>
<path d="M446.64,321.19A41.4,41.4 0 0 1 445.63,321.28L445.57,320.38A40.5,40.5 0 0 0 446.55,320.30Z" fill="#90e05a"/>
<path d="M445.63,321.28A41.4,41.4 0 0 1 444.47,321.35L444.43,320.45A40.5,40.5 0 0 0 445.57,320.38Z" fill="#9a32e0"/>
<path d="M444.47,321.35A41.4,41.4 0 0 1 443.50,321.39L443.48,320.49A40.5,40.5 0 0 0 444.43,320.45Z" fill="#90e05a"/>
<path d="M443.50,321.39A41.4,41.4 0 0 1 442.58,321.40L442.58,320.50A40.5,40.5 0 0 0 443.48,320.49Z" fill="#90e05a"/>
<path d="M442.58,321.40A41.4,41.4 0 0 1 441.48,321.39L441.50,320.49A40.5,40.5 0 0 0 442.58,320.50Z" fill="#90e05a"/>
<path d="M441.48,321.39A41.4,41.4 0 0 1 440.44,321.35L440.49,320.45A40.5,40.5 0 0 0 441.50,320.49Z" fill="#e3e334"/>
<path d="M440.44,321.35A41.4,41.4 0 0 1 438.47,321.20L438.56,320.31A40.5,40.5 0 0 0 440.49,320.45Z" fill="#66a6e0"/>
<path d="M438.47,321.20A41.4,41.4 0 0 1 436.56,320.97L436.68,320.08A40.5,40.5 0 0 0 438.56,320.31Z" fill="#90e05a"/>
<path d="M436.56,320.97A41.4,41.4 0 0 1 435.18,320.75L435.34,319.86A40.5,40.5 0 0 0 436.68,320.08Z" fill="#d63222"/>
<path d="M435.18,320.75A41.4,41.4 0 0 1 433.16,320.33L433.36,319.46A40.5,40.5 0 0 0 435.34,319.86Z" fill="#40c8c8"/>
<path d="M433.16,320.33A41.4,41.4 0 0 1 431.69,319.96L431.93,319.10A40.5,40.5 0 0 0 433.36,319.46Z" fill="#5ccf5c"/>
<path d="M431.69,319.96A41.4,41.4 0 0 1 430.75,319.70L431.00,318.83A40.5,40.5 0 0 0 431.93,319.10Z" fill="#3a3ad8"/>
<path d="M430.75,319.70A41.4,41.4 0 0 1 428.93,319.11L429.23,318.26A40.5,40.5 0 0 0 431.00,318.83Z" fill="#c833d8"/>
<path d="M428.93,319.11A41.4,41.4 0 0 1 427.60,318.63L427.92,317.79A40.5,40.5 0 0 0 429.23,318.26Z" fill="#9a32e0"/>
<path d="M427.60,318.63A41.4,41.4 0 0 1 426.47,318.17L426.82,317.34A40.5,40.5 0 0 0 427.92,317.79Z" fill="#3a3ad8"/>
<path d="M426.47,318.17A41.4,41.4 0 0 1 424.92,317.48L425.31,316.67A40.5,40.5 0 0 0 426.82,317.34Z" fill="#90e05a"/>
<path d="M424.92,317.48A41.4,41.4 0 0 1 423.84,316.96L424.24,316.15A40.5,40.5 0 0 0 425.31,316.67Z" fill="#40c8c8"/>
<path d="M423.84,316.96A41.4,41.4 0 0 1 422.09,316.02L422.54,315.24A40.5,40.5 0 0 0 424.24,316.15Z" fill="#9a32e0"/>
<path d="M422.09,316.02A41.4,41.4 0 0 1 421.05,315.41L421.51,314.64A40.5,40.5 0 0 0 422.54,315.24Z" fill="#9a32e0"/>
<path d="M421.05,315.41A41.4,41.4 0 0 1 419.82,314.63L420.31,313.88A40.5,40.5 0 0 0 421.51,314.64Z" fill="#5ccf5c"/>
<path d="M419.82,314.63A41.4,41.4 0 0 1 418.04,313.40L418.57,312.68A40.5,40.5 0 0 0 420.31,313.88Z" fill="#e3e334"/>
<path d="M418.04,313.40A41.4,41.4 0 0 1 416.40,312.14L416.97,311.44A40.5,40.5 0 0 0 418.57,312.68Z" fill="#90e05a"/>
<path d="M416.40,312.14A41.4,41.4 0 0 1 415.12,311.05L415.72,310.38A40.5,40.5 0 0 0 416.97,311.44Z" fill="#3a3ad8"/>
<path d="M415.12,311.05A41.4,41.4 0 0 1 413.98,310.01L414.60,309.35A40.5,40.5 0 0 0 415.72,310.38Z" fill="#7fe3bd"/>
<path d="M413.98,310.01A41.4,41.4 0 0 1 412.50,308.53L413.15,307.91A40.5,40.5 0 0 0 414.60,309.35Z" fill="#c833d8"/>
<path d="M412.50,308.53A41.4,41.4 0 0 1 411.68,307.64L412.35,307.04A40.5,40.5 0 0 0 413.15,307.91Z" fill="#c833d8"/>
<path d="M411.68,307.64A41.4,41.4 0 0 1 410.94,306.79L411.62,306.21A40.5,40.5 0 0 0 412.35,307.04Z" fill="#90e05a"/>
<path d="M410.94,306.79A41.4,41.4 0 0 1 409.87,305.49L410.58,304.93A40.5,40.5 0 0 0 411.62,306.21Z" fill="#d63222"/>
<path d="M409.87,305.49A41.4,41.4 0 0 1 408.77,304.00L409.50,303.48A40.5,40.5 0 0 0 410.58,304.93Z" fill="#90e05a"/>
<path d="M408.77,304.00A41.4,41.4 0 0 1 407.95,302.80L408.70,302.31A40.5,40.5 0 0 0 409.50,303.48Z" fill="#66a6e0"/>
<path d="M404.44,302.87A44.4,44.4 0 0 1 398.53,286.18L401.50,285.76A41.4,41.4 0 0 0 407.01,301.32Z" fill="#3a3ad8"/>
<path d="M407.01,301.32A41.4,41.4 0 0 1 406.46,300.37L407.24,299.93A40.5,40.5 0 0 0 407.78,300.86Z" fill="#5ccf5c"/>
<path d="M406.46,300.37A41.4,41.4 0 0 1 405.56,298.69L406.36,298.28A40.5,40.5 0 0 0 407.24,299.93Z" fill="#90e05a"/>
<path d="M405.56,298.69A41.4,41.4 0 0 1 405.15,297.87L405.97,297.48A40.5,40.5 0 0 0 406.36,298.28Z" fill="#3a3ad8"/>
<path d="M405.15,297.87A41.4,41.4 0 0 1 404.40,296.21L405.23,295.86A40.5,40.5 0 0 0 405.97,297.48Z" fill="#d63222"/>
<path d="M404.40,296.21A41.4,41.4 0 0 1 403.62,294.22L404.46,293.91A40.5,40.5 0 0 0 405.23,295.86Z" fill="#d63222"/>
<path d="M403.62,294.22A41.4,41.4 0 0 1 403.13,292.82L403.99,292.54A40.5,40.5 0 0 0 404.46,293.91Z" fill="#e8902e"/>
<path d="M403.13,292.82A41.4,41.4 0 0 1 402.83,291.86L403.70,291.60A40.5,40.5 0 0 0 403.99,292.54Z" fill="#66a6e0"/>
<path d="M402.83,291.86A41.4,41.4 0 0 1 402.45,290.48L403.32,290.25A40.5,40.5 0 0 0 403.70,291.60Z" fill="#e8902e"/>
<path d="M402.45,290.48A41.4,41.4 0 0 1 402.08,288.95L402.96,288.75A40.5,40.5 0 0 0 403.32,290.25Z" fill="#e3e334"/>
<path d="M402.08,288.95A41.4,41.4 0 0 1 401.67,286.86L402.56,286.71A40.5,40.5 0 0 0 402.96,288.75Z" fill="#90e05a"/>
<path d="M401.67,286.86A41.4,41.4 0 0 1 401.50,285.76L402.39,285.64A40.5,40.5 0 0 0 402.56,286.71Z" fill="#7fe3bd"/>
<path d="M398.34,284.64A44.4,44.4 0 0 1 399.61,268.51L402.51,269.28A41.4,41.4 0 0 0 401.33,284.33Z" fill="#d63222"/>
<path d="M401.33,284.33A41.4,41.4 0 0 1 401.21,283.02L402.11,282.95A40.5,40.5 0 0 0 402.22,284.23Z" fill="#d63222"/>
<path d="M401.21,283.02A41.4,41.4 0 0 1 401.12,281.21L402.02,281.18A40.5,40.5 0 0 0 402.11,282.95Z" fill="#c833d8"/>
<path d="M401.12,281.21A41.4,41.4 0 0 1 401.10,279.81L402.00,279.82A40.5,40.5 0 0 0 402.02,281.18Z" fill="#5ccf5c"/>
<path d="M401.10,279.81A41.4,41.4 0 0 1 401.17,277.67L402.06,277.72A40.5,40.5 0 0 0 402.00,279.82Z" fill="#c833d8"/>
<path d="M401.17,277.67A41.4,41.4 0 0 1 401.22,276.79L402.12,276.86A40.5,40.5 0 0 0 402.06,277.72Z" fill="#66a6e0"/>
<path d="M401.22,276.79A41.4,41.4 0 0 1 401.41,274.97L402.30,275.08A40.5,40.5 0 0 0 402.12,276.86Z" fill="#90e05a"/>
<path d="M401.41,274.97A41.4,41.4 0 0 1 401.61,273.55L402.49,273.69A40.5,40.5 0 0 0 402.30,275.08Z" fill="#3a3ad8"/>
<path d="M401.61,273.55A41.4,41.4 0 0 1 401.77,272.59L402.65,272.75A40.5,40.5 0 0 0 402.49,273.69Z" fill="#e3e334"/>
<path d="M401.77,272.59A41.4,41.4 0 0 1 402.17,270.63L403.05,270.84A40.5,40.5 0 0 0 402.65,272.75Z" fill="#66a6e0"/>
<path d="M402.17,270.63A41.4,41.4 0 0 1 402.51,269.28L403.38,269.52A40.5,40.5 0 0 0 403.05,270.84Z" fill="#40c8c8"/>
<path d="M400.04,267.02A44.4,44.4 0 0 1 407.04,253.28L409.44,255.08A41.4,41.4 0 0 0 402.91,267.90Z" fill="#e8902e"/>
<path d="M402.91,267.90A41.4,41.4 0 0 1 403.27,266.77L404.12,267.06A40.5,40.5 0 0 0 403.77,268.16Z" fill="#90e05a"/>
<path d="M403.27,266.77A41.4,41.4 0 0 1 403.58,265.90L404.42,266.20A40.5,40.5 0 0 0 404.12,267.06Z" fill="#c833d8"/>
<path d="M403.58,265.90A41.4,41.4 0 0 1 403.95,264.89L404.79,265.22A40.5,40.5 0 0 0 404.42,266.20Z" fill="#e8902e"/>
<path d="M403.95,264.89A41.4,41.4 0 0 1 404.28,264.09L405.11,264.43A40.5,40.5 0 0 0 404.79,265.22Z" fill="#5ccf5c"/>
<path d="M404.28,264.09A41.4,41.4 0 0 1 405.15,262.15L405.96,262.54A40.5,40.5 0 0 0 405.11,264.43Z" fill="#d63222"/>
<path d="M405.15,262.15A41.4,41.4 0 0 1 405.72,261.00L406.52,261.41A40.5,40.5 0 0 0 405.96,262.54Z" fill="#3a3ad8"/>
<path d="M405.72,261.00A41.4,41.4 0 0 1 406.74,259.14L407.52,259.59A40.5,40.5 0 0 0 406.52,261.41Z" fill="#90e05a"/>
<path d="M406.74,259.14A41.4,41.4 0 0 1 407.33,258.15L408.10,258.63A40.5,40.5 0 0 0 407.52,259.59Z" fill="#c833d8"/>
<path d="M407.33,258.15A41.4,41.4 0 0 1 407.80,257.42L408.55,257.91A40.5,40.5 0 0 0 408.10,258.63Z" fill="#e3e334"/>
<path d="M407.80,257.42A41.4,41.4 0 0 1 408.34,256.61L409.08,257.12A40.5,40.5 0 0 0 408.55,257.91Z" fill="#90e05a"/>
<path d="M408.34,256.61A41.4,41.4 0 0 1 409.22,255.37L409.95,255.90A40.5,40.5 0 0 0 409.08,257.12Z" fill="#7fe3bd"/>
<path d="M407.99,252.06A44.4,44.4 0 0 1 417.03,243.63L418.75,246.09A41.4,41.4 0 0 0 410.33,253.95Z" fill="#e3e334"/>
<path d="M410.33,253.95A41.4,41.4 0 0 1 411.09,253.03L411.77,253.62A40.5,40.5 0 0 0 411.03,254.51Z" fill="#e3e334"/>
<path d="M411.09,253.03A41.4,41.4 0 0 1 411.66,252.38L412.33,252.98A40.5,40.5 0 0 0 411.77,253.62Z" fill="#90e05a"/>
<path d="M411.66,252.38A41.4,41.4 0 0 1 412.98,250.97L413.63,251.60A40.5,40.5 0 0 0 412.33,252.98Z" fill="#c833d8"/>
<path d="M412.98,250.97A41.4,41.4 0 0 1 413.97,250.00L414.59,250.65A40.5,40.5 0 0 0 413.63,251.60Z" fill="#3a3ad8"/>
<path d="M413.97,250.00A41.4,41.4 0 0 1 414.99,249.06L415.59,249.74A40.5,40.5 0 0 0 414.59,250.65Z" fill="#90e05a"/>
<path d="M414.99,249.06A41.4,41.4 0 0 1 415.95,248.24L416.52,248.93A40.5,40.5 0 0 0 415.59,249.74Z" fill="#7fe3bd"/>
<path d="M415.95,248.24A41.4,41.4 0 0 1 416.70,247.62L417.26,248.32A40.5,40.5 0 0 0 416.52,248.93Z" fill="#d63222"/>
<path d="M416.70,247.62A41.4,41.4 0 0 1 418.28,246.43L418.80,247.16A40.5,40.5 0 0 0 417.26,248.32Z" fill="#c833d8"/>
<path d="M418.28,246.43A41.4,41.4 0 0 1 418.75,246.09L419.27,246.82A40.5,40.5 0 0 0 418.80,247.16Z" fill="#e3e334"/>
<path d="M418.32,242.76A44.4,44.4 0 0 1 431.76,236.92L432.48,239.83A41.4,41.4 0 0 0 419.95,245.28Z" fill="#9a32e0"/>
<path d="M419.95,245.28A41.4,41.4 0 0 1 421.56,244.29L422.01,245.06A40.5,40.5 0 0 0 420.44,246.03Z" fill="#40c8c8"/>
<path d="M421.56,244.29A41.4,41.4 0 0 1 422.75,243.61L423.18,244.40A40.5,40.5 0 0 0 422.01,245.06Z" fill="#5ccf5c"/>
<path d="M422.75,243.61A41.4,41.4 0 0 1 424.36,242.79L424.75,243.60A40.5,40.5 0 0 0 423.18,244.40Z" fill="#e8902e"/>
<path d="M424.36,242.79A41.4,41.4 0 0 1 425.32,242.33L425.69,243.15A40.5,40.5 0 0 0 424.75,243.60Z" fill="#9a32e0"/>
<path d="M425.32,242.33A41.4,41.4 0 0 1 426.85,241.67L427.19,242.50A40.5,40.5 0 0 0 425.69,243.15Z" fill="#c833d8"/>
<path d="M426.85,241.67A41.4,41.4 0 0 1 427.71,241.33L428.03,242.17A40.5,40.5 0 0 0 427.19,242.50Z" fill="#9a32e0"/>
<path d="M427.71,241.33A41.4,41.4 0 0 1 429.62,240.65L429.90,241.51A40.5,40.5 0 0 0 428.03,242.17Z" fill="#66a6e0"/>
<path d="M429.62,240.65A41.4,41.4 0 0 1 430.98,240.23L431.23,241.10A40.5,40.5 0 0 0 429.90,241.51Z" fill="#9a32e0"/>
<path d="M430.98,240.23A41.4,41.4 0 0 1 432.48,239.83L432.70,240.70A40.5,40.5 0 0 0 431.23,241.10Z" fill="#c833d8"/>
<path d="M433.27,236.57A44.4,44.4 0 0 1 442.27,235.60L442.28,238.60A41.4,41.4 0 0 0 433.89,239.50Z" fill="#7fe3bd"/>
<path d="M433.89,239.50A41.4,41.4 0 0 1 435.91,239.13L436.05,240.02A40.5,40.5 0 0 0 434.08,240.39Z" fill="#7fe3bd"/>
<path d="M435.91,239.13A41.4,41.4 0 0 1 437.42,238.91L437.53,239.81A40.5,40.5 0 0 0 436.05,240.02Z" fill="#7fe3bd"/>
<path d="M437.42,238.91A41.4,41.4 0 0 1 438.30,238.81L438.39,239.71A40.5,40.5 0 0 0 437.53,239.81Z" fill="#66a6e0"/>
<path d="M438.30,238.81A41.4,41.4 0 0 1 439.92,238.68L439.98,239.58A40.5,40.5 0 0 0 438.39,239.71Z" fill="#7fe3bd"/>
<path d="M439.92,238.68A41.4,41.4 0 0 1 441.67,238.61L441.69,239.51A40.5,40.5 0 0 0 439.98,239.58Z" fill="#7fe3bd"/>
<path d="M441.67,238.61A41.4,41.4 0 0 1 442.28,238.60L442.29,239.50A40.5,40.5 0 0 0 441.69,239.51Z" fill="#9a32e0"/>
<rect x="0.6" y="0.6" width="518.8" height="351.8" fill="none" stroke="#000" stroke-width="1.3"/>
<text x="7.4" y="17.9" font-size="12" font-weight="bold" fill="#000">A</text>
<text x="184.3" y="17.6" font-size="12" font-weight="bold" fill="#000">B</text>
<text x="350.3" y="17.6" font-size="12" font-weight="bold" fill="#000">C</text>
<text x="7.6" y="194.6" font-size="12" font-weight="bold" fill="#000">D</text>
<text x="184.4" y="194.6" font-size="12" font-weight="bold" fill="#000">E</text>
<text x="351.0" y="194.6" font-size="12" font-weight="bold" fill="#000">F</text>
<rect x="48" y="9.1" width="3" height="3" fill="#b0183a"/>
<text x="54.3" y="13.1" font-size="7" textLength="13.6" lengthAdjust="spacingAndGlyphs" fill="#333">AML</text>
<rect x="87" y="9.1" width="3" height="3" fill="#5fb232"/>
<text x="93" y="13.1" font-size="7" textLength="12.5" lengthAdjust="spacingAndGlyphs" fill="#333">NHL</text>
<rect x="122.5" y="9.1" width="3" height="3" fill="#262a4c"/>
<text x="128.8" y="13.1" font-size="7" textLength="11.3" lengthAdjust="spacingAndGlyphs" fill="#333">CLL</text>
<rect x="48" y="19.5" width="3" height="3" fill="#1e3a86"/>
<text x="54.3" y="23.5" font-size="7" textLength="14.0" lengthAdjust="spacingAndGlyphs" fill="#333">MDS</text>
<rect x="87" y="19.5" width="3" height="3" fill="#8a7ac6"/>
<text x="93" y="23.5" font-size="7" textLength="12.3" lengthAdjust="spacingAndGlyphs" fill="#333">HCL</text>
<rect x="122.5" y="19.5" width="3" height="3" fill="#e27a1a"/>
<text x="128.8" y="23.5" font-size="7" textLength="17.5" lengthAdjust="spacingAndGlyphs" fill="#333">B-ALL</text>
<rect x="48" y="29.9" width="3" height="3" fill="#f2b21c"/>
<text x="54.3" y="33.9" font-size="7" textLength="16.5" lengthAdjust="spacingAndGlyphs" fill="#333">T-ALL</text>
<rect x="87" y="29.9" width="3" height="3" fill="#4aa0e0"/>
<text x="93" y="33.9" font-size="7" textLength="12.8" lengthAdjust="spacingAndGlyphs" fill="#333">CML</text>
<rect x="122.5" y="29.9" width="3" height="3" fill="#9cb86a"/>
<text x="128.8" y="33.9" font-size="7" textLength="11.8" lengthAdjust="spacingAndGlyphs" fill="#333">AUL</text>
<rect x="224.5" y="9.3" width="3" height="3" fill="#1e3a86"/>
<text x="230.8" y="13.3" font-size="7" textLength="14.0" lengthAdjust="spacingAndGlyphs" fill="#333">MDS</text>
<rect x="281.2" y="9.3" width="3" height="3" fill="#f2b21c"/>
<text x="287.7" y="13.3" font-size="7" textLength="16.2" lengthAdjust="spacingAndGlyphs" fill="#333">T-ALL</text>
<rect x="224.5" y="19.4" width="3" height="3" fill="#b0183a"/>
<text x="230.8" y="23.4" font-size="7" textLength="13.6" lengthAdjust="spacingAndGlyphs" fill="#333">AML</text>
<rect x="281.2" y="19.4" width="3" height="3" fill="#e27a1a"/>
<text x="287.7" y="23.4" font-size="7" textLength="17.5" lengthAdjust="spacingAndGlyphs" fill="#333">B-ALL</text>
<rect x="224.5" y="29.9" width="3" height="3" fill="#4aa0e0"/>
<text x="230.8" y="33.9" font-size="7" textLength="41.0" lengthAdjust="spacingAndGlyphs" fill="#333">JMML/CMML</text>
<rect x="281.2" y="29.9" width="3" height="3" fill="#9cb86a"/>
<text x="287.7" y="33.9" font-size="7" textLength="11.8" lengthAdjust="spacingAndGlyphs" fill="#333">AUL</text>
<rect x="390.8" y="19.5" width="3" height="3" fill="#b0183a"/>
<text x="397" y="23.5" font-size="7" textLength="13.6" lengthAdjust="spacingAndGlyphs" fill="#333">AML</text>
<rect x="390.8" y="29.8" width="3" height="3" fill="#1e3a86"/>
<text x="397" y="33.8" font-size="7" textLength="11.3" lengthAdjust="spacingAndGlyphs" fill="#333">ALL</text>
<text x="92.4" y="46.3" font-size="9.6" textLength="29.0" lengthAdjust="spacingAndGlyphs" fill="#231f20">RUNX1</text>
<text x="264.4" y="46.3" font-size="9.6" textLength="28.2" lengthAdjust="spacingAndGlyphs" fill="#231f20">GATA2</text>
<text x="436.9" y="46.3" font-size="9.6" textLength="27.8" lengthAdjust="spacingAndGlyphs" fill="#231f20">CEBPA</text>
<text x="77.4" y="205.1" font-size="9.6" textLength="28.3" lengthAdjust="spacingAndGlyphs" fill="#231f20">RUNX1</text>
<text x="249.4" y="211.3" font-size="9.6" textLength="27.8" lengthAdjust="spacingAndGlyphs" fill="#231f20">GATA2</text>
<text x="421.2" y="212.1" font-size="9.6" textLength="28.4" lengthAdjust="spacingAndGlyphs" fill="#231f20">CEBPA</text>
<polygon points="48.00,128.2 48.00,122.78 67.72,118.55 87.43,114.84 107.15,109.28 126.87,98.52 146.58,90.73 166.30,88.50 166.30,128.2" fill="#b0183a" fill-opacity="0.55"/>
<polygon points="48.00,128.2 48.00,122.12 67.72,118.18 87.43,115.96 107.15,113.73 126.87,110.39 146.58,106.31 166.30,103.71 166.30,128.2" fill="#2a4480" fill-opacity="0.48"/>
<polygon points="48.00,128.2 48.00,127.01 67.72,126.27 87.43,124.34 107.15,123.30 126.87,123.01 146.58,122.86 166.30,122.71 166.30,128.2" fill="#f2b21c" fill-opacity="0.5"/>
<polyline points="48.00,122.78 67.72,118.55 87.43,114.84 107.15,109.28 126.87,98.52 146.58,90.73 166.30,88.50" fill="none" stroke="#b0183a" stroke-width="0.9" stroke-linejoin="round"/>
<polyline points="48.00,122.12 67.72,118.18 87.43,115.96 107.15,113.73 126.87,110.39 146.58,106.31 166.30,103.71" fill="none" stroke="#2e4c9a" stroke-width="0.9" stroke-linejoin="round"/>
<polyline points="48.00,126.79 67.72,126.05 87.43,124.12 107.15,123.08 126.87,122.78 146.58,122.63 166.30,122.49" fill="none" stroke="#6a5a9a" stroke-width="0.6" stroke-linejoin="round"/>
<polyline points="48.00,127.01 67.72,126.27 87.43,124.34 107.15,123.30 126.87,123.01 146.58,122.86 166.30,122.71" fill="none" stroke="#e8b428" stroke-width="0.9" stroke-linejoin="round"/>
<polyline points="48.00,127.75 67.72,127.75 87.43,127.61 107.15,127.53 126.87,127.53 146.58,127.53 166.30,127.53" fill="none" stroke="#8ab040" stroke-width="0.7" stroke-linejoin="round"/>
<line x1="48" y1="51.5" x2="48" y2="128.7" stroke="#111" stroke-width="1.1"/>
<line x1="44.5" y1="128.2" x2="166.60000000000002" y2="128.2" stroke="#111" stroke-width="1.1"/>
<line x1="44.5" y1="109.65" x2="48" y2="109.65" stroke="#111" stroke-width="1"/>
<line x1="44.5" y1="91.10" x2="48" y2="91.10" stroke="#111" stroke-width="1"/>
<line x1="44.5" y1="72.55" x2="48" y2="72.55" stroke="#111" stroke-width="1"/>
<line x1="44.5" y1="54.00" x2="48" y2="54.00" stroke="#111" stroke-width="1"/>
<text x="41.8" y="130.70" font-size="7" text-anchor="end" fill="#333">0</text>
<text x="41.8" y="112.15" font-size="7" text-anchor="end" fill="#333">25</text>
<text x="41.8" y="93.60" font-size="7" text-anchor="end" fill="#333">50</text>
<text x="41.8" y="75.05" font-size="7" text-anchor="end" fill="#333">75</text>
<text x="41.8" y="56.50" font-size="7" text-anchor="end" fill="#333">100</text>
<text transform="translate(25.3,89.8) rotate(-90)" font-size="10" text-anchor="middle" fill="#2a2a2a" textLength="49" lengthAdjust="spacingAndGlyphs">Frequency (%)</text>
<text transform="translate(49.50,135.80) rotate(-45)" font-size="7.4" text-anchor="end" fill="#2a2a2a" textLength="19.5" lengthAdjust="spacingAndGlyphs">&lt;10yrs</text>
<text transform="translate(69.22,135.80) rotate(-45)" font-size="7.4" text-anchor="end" fill="#2a2a2a" textLength="24.5" lengthAdjust="spacingAndGlyphs">11-20yrs</text>
<text transform="translate(88.93,135.80) rotate(-45)" font-size="7.4" text-anchor="end" fill="#2a2a2a" textLength="24.5" lengthAdjust="spacingAndGlyphs">21-30yrs</text>
<text transform="translate(108.65,135.80) rotate(-45)" font-size="7.4" text-anchor="end" fill="#2a2a2a" textLength="24.5" lengthAdjust="spacingAndGlyphs">31-40yrs</text>
<text transform="translate(128.37,135.80) rotate(-45)" font-size="7.4" text-anchor="end" fill="#2a2a2a" textLength="24.5" lengthAdjust="spacingAndGlyphs">41-50yrs</text>
<text transform="translate(148.08,135.80) rotate(-45)" font-size="7.4" text-anchor="end" fill="#2a2a2a" textLength="24.5" lengthAdjust="spacingAndGlyphs">51-60yrs</text>
<text transform="translate(167.80,135.80) rotate(-45)" font-size="7.4" text-anchor="end" fill="#2a2a2a" textLength="20.0" lengthAdjust="spacingAndGlyphs">&gt;61yrs</text>
<text x="64.3" y="166.0" font-size="10.8" textLength="85.8" lengthAdjust="spacingAndGlyphs" fill="#2a2a2a">Age at malignancy onset</text>
<polygon points="224.50,126.3 224.50,117.39 242.58,93.00 260.67,79.60 278.75,72.00 296.83,67.66 314.92,65.70 333.00,64.76 333.00,126.3" fill="#2a4480" fill-opacity="0.5"/>
<polygon points="224.50,126.3 224.50,126.08 242.58,123.04 260.67,121.59 278.75,121.09 296.83,119.93 314.92,119.35 333.00,118.92 333.00,126.3" fill="#b0183a" fill-opacity="0.6"/>
<polygon points="224.50,126.3 224.50,125.87 242.58,125.72 260.67,125.65 278.75,125.58 296.83,125.58 314.92,125.58 333.00,125.58 333.00,126.3" fill="#b0a030" fill-opacity="0.9"/>
<polyline points="224.50,117.39 242.58,93.00 260.67,79.60 278.75,72.00 296.83,67.66 314.92,65.70 333.00,64.76" fill="none" stroke="#2e4c9a" stroke-width="0.9" stroke-linejoin="round"/>
<polyline points="224.50,126.08 242.58,123.04 260.67,121.59 278.75,121.09 296.83,119.93 314.92,119.35 333.00,118.92" fill="none" stroke="#b0183a" stroke-width="0.9" stroke-linejoin="round"/>
<line x1="224.5" y1="51.4" x2="224.5" y2="126.8" stroke="#111" stroke-width="1.1"/>
<line x1="221.0" y1="126.3" x2="333.3" y2="126.3" stroke="#111" stroke-width="1.1"/>
<line x1="221.0" y1="108.20" x2="224.5" y2="108.20" stroke="#111" stroke-width="1"/>
<line x1="221.0" y1="90.10" x2="224.5" y2="90.10" stroke="#111" stroke-width="1"/>
<line x1="221.0" y1="72.00" x2="224.5" y2="72.00" stroke="#111" stroke-width="1"/>
<line x1="221.0" y1="53.90" x2="224.5" y2="53.90" stroke="#111" stroke-width="1"/>
<text x="218.3" y="128.80" font-size="7" text-anchor="end" fill="#333">0</text>
<text x="218.3" y="110.70" font-size="7" text-anchor="end" fill="#333">25</text>
<text x="218.3" y="92.60" font-size="7" text-anchor="end" fill="#333">50</text>
<text x="218.3" y="74.50" font-size="7" text-anchor="end" fill="#333">75</text>
<text x="218.3" y="56.40" font-size="7" text-anchor="end" fill="#333">100</text>
<text transform="translate(201.0,88.8) rotate(-90)" font-size="10" text-anchor="middle" fill="#2a2a2a" textLength="49" lengthAdjust="spacingAndGlyphs">Frequency (%)</text>
<text transform="translate(226.00,133.90) rotate(-45)" font-size="7.4" text-anchor="end" fill="#2a2a2a" textLength="19.5" lengthAdjust="spacingAndGlyphs">&lt;10yrs</text>
<text transform="translate(244.08,133.90) rotate(-45)" font-size="7.4" text-anchor="end" fill="#2a2a2a" textLength="24.5" lengthAdjust="spacingAndGlyphs">11-20yrs</text>
<text transform="translate(262.17,133.90) rotate(-45)" font-size="7.4" text-anchor="end" fill="#2a2a2a" textLength="24.5" lengthAdjust="spacingAndGlyphs">21-30yrs</text>
<text transform="translate(280.25,133.90) rotate(-45)" font-size="7.4" text-anchor="end" fill="#2a2a2a" textLength="24.5" lengthAdjust="spacingAndGlyphs">31-40yrs</text>
<text transform="translate(298.33,133.90) rotate(-45)" font-size="7.4" text-anchor="end" fill="#2a2a2a" textLength="24.5" lengthAdjust="spacingAndGlyphs">41-50yrs</text>
<text transform="translate(316.42,133.90) rotate(-45)" font-size="7.4" text-anchor="end" fill="#2a2a2a" textLength="24.5" lengthAdjust="spacingAndGlyphs">51-60yrs</text>
<text transform="translate(334.50,133.90) rotate(-45)" font-size="7.4" text-anchor="end" fill="#2a2a2a" textLength="20.0" lengthAdjust="spacingAndGlyphs">&gt;61yrs</text>
<text x="235.3" y="164.1" font-size="10.8" textLength="86.0" lengthAdjust="spacingAndGlyphs" fill="#2a2a2a">Age at malignancy onset</text>
<polygon points="390.60,126.2 390.60,107.55 410.78,91.13 430.97,80.65 451.15,69.08 471.33,62.94 491.52,56.79 511.70,55.35 511.70,126.2" fill="#b0183a" fill-opacity="0.55"/>
<polygon points="390.60,126.2 390.60,126.20 410.78,126.20 430.97,125.77 451.15,125.62 471.33,125.62 491.52,125.55 511.70,125.55 511.70,126.2" fill="#1e3a86" fill-opacity="1"/>
<polyline points="390.60,107.55 410.78,91.13 430.97,80.65 451.15,69.08 471.33,62.94 491.52,56.79 511.70,55.35" fill="none" stroke="#b0183a" stroke-width="0.9" stroke-linejoin="round"/>
<polyline points="390.60,126.20 410.78,126.20 430.97,125.77 451.15,125.62 471.33,125.62 491.52,125.55 511.70,125.55" fill="none" stroke="#1e2a66" stroke-width="1.0" stroke-linejoin="round"/>
<line x1="390.6" y1="51.4" x2="390.6" y2="126.7" stroke="#111" stroke-width="1.1"/>
<line x1="387.1" y1="126.2" x2="512.0" y2="126.2" stroke="#111" stroke-width="1.1"/>
<line x1="387.1" y1="108.12" x2="390.6" y2="108.12" stroke="#111" stroke-width="1"/>
<line x1="387.1" y1="90.05" x2="390.6" y2="90.05" stroke="#111" stroke-width="1"/>
<line x1="387.1" y1="71.97" x2="390.6" y2="71.97" stroke="#111" stroke-width="1"/>
<line x1="387.1" y1="53.90" x2="390.6" y2="53.90" stroke="#111" stroke-width="1"/>
<text x="384.40000000000003" y="128.70" font-size="7" text-anchor="end" fill="#333">0</text>
<text x="384.40000000000003" y="110.62" font-size="7" text-anchor="end" fill="#333">25</text>
<text x="384.40000000000003" y="92.55" font-size="7" text-anchor="end" fill="#333">50</text>
<text x="384.40000000000003" y="74.47" font-size="7" text-anchor="end" fill="#333">75</text>
<text x="384.40000000000003" y="56.40" font-size="7" text-anchor="end" fill="#333">100</text>
<text transform="translate(368.2,88.7) rotate(-90)" font-size="10" text-anchor="middle" fill="#2a2a2a" textLength="49" lengthAdjust="spacingAndGlyphs">Frequency (%)</text>
<text transform="translate(392.10,133.80) rotate(-45)" font-size="7.4" text-anchor="end" fill="#2a2a2a" textLength="19.5" lengthAdjust="spacingAndGlyphs">&lt;10yrs</text>
<text transform="translate(412.28,133.80) rotate(-45)" font-size="7.4" text-anchor="end" fill="#2a2a2a" textLength="24.5" lengthAdjust="spacingAndGlyphs">11-20yrs</text>
<text transform="translate(432.47,133.80) rotate(-45)" font-size="7.4" text-anchor="end" fill="#2a2a2a" textLength="24.5" lengthAdjust="spacingAndGlyphs">21-30yrs</text>
<text transform="translate(452.65,133.80) rotate(-45)" font-size="7.4" text-anchor="end" fill="#2a2a2a" textLength="24.5" lengthAdjust="spacingAndGlyphs">31-40yrs</text>
<text transform="translate(472.83,133.80) rotate(-45)" font-size="7.4" text-anchor="end" fill="#2a2a2a" textLength="24.5" lengthAdjust="spacingAndGlyphs">41-50yrs</text>
<text transform="translate(493.02,133.80) rotate(-45)" font-size="7.4" text-anchor="end" fill="#2a2a2a" textLength="24.5" lengthAdjust="spacingAndGlyphs">51-60yrs</text>
<text transform="translate(513.20,133.80) rotate(-45)" font-size="7.4" text-anchor="end" fill="#2a2a2a" textLength="20.0" lengthAdjust="spacingAndGlyphs">&gt;61yrs</text>
<text x="408.0" y="164.0" font-size="10.8" textLength="86.4" lengthAdjust="spacingAndGlyphs" fill="#2a2a2a">Age at malignancy onset</text>
</svg>
</body></html>
